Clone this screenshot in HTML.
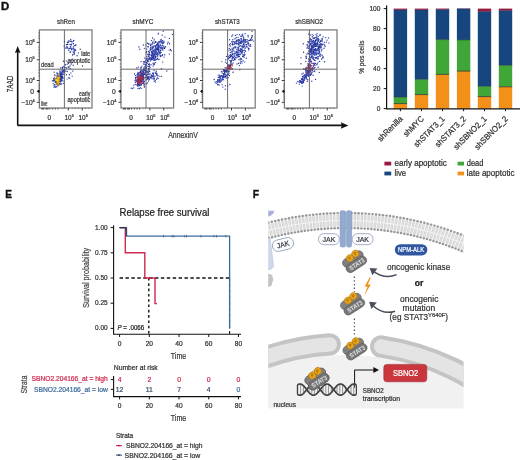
<!DOCTYPE html>
<html><head><meta charset="utf-8"><title>Figure</title>
<style>
html,body{margin:0;padding:0;background:#fff;}
svg{display:block;filter:blur(0.35px);}
text{font-family:"Liberation Sans", sans-serif;}
</style></head>
<body>
<svg width="520" height="460" viewBox="0 0 520 460" font-family='"Liberation Sans", sans-serif'>
<rect x="0" y="0" width="520" height="460" fill="#ffffff"/>
<text x="0.9" y="10.2" font-size="10" font-weight="bold" fill="#111" stroke="#111" stroke-width="0.4" textLength="8.2" lengthAdjust="spacingAndGlyphs">D</text>
<text x="5.2" y="198.2" font-size="10" font-weight="bold" fill="#111" stroke="#111" stroke-width="0.35">E</text>
<text x="252.8" y="198.3" font-size="10.3" font-weight="bold" fill="#111" stroke="#111" stroke-width="0.35">F</text>
<text x="66.00" y="23.90" font-size="6.8" fill="#333" text-anchor="middle" stroke="#333" stroke-width="0.22" textLength="17.9" lengthAdjust="spacingAndGlyphs">shRen</text>
<g><circle cx="57.8" cy="81.8" r="0.68" fill="#1e2a86"/><circle cx="57.9" cy="78.6" r="0.68" fill="#2c3ca8"/><circle cx="56.4" cy="79.8" r="0.68" fill="#2636a0"/><circle cx="60.8" cy="79.8" r="0.68" fill="#1e2a86"/><circle cx="60.7" cy="79.2" r="0.68" fill="#3446b4"/><circle cx="59.3" cy="79.7" r="0.68" fill="#1e2a86"/><circle cx="54.7" cy="84.8" r="0.68" fill="#1e2a86"/><circle cx="59.5" cy="80.8" r="0.68" fill="#2c3ca8"/><circle cx="54.7" cy="74.9" r="0.68" fill="#3446b4"/><circle cx="56.4" cy="78.8" r="0.68" fill="#2636a0"/><circle cx="59.1" cy="79.0" r="0.68" fill="#4a5cc4"/><circle cx="59.5" cy="76.4" r="0.68" fill="#4a5cc4"/><circle cx="59.1" cy="80.6" r="0.68" fill="#4a5cc4"/><circle cx="56.9" cy="86.8" r="0.68" fill="#2c3ca8"/><circle cx="59.6" cy="83.4" r="0.68" fill="#3446b4"/><circle cx="57.0" cy="77.4" r="0.68" fill="#4a5cc4"/><circle cx="57.6" cy="79.5" r="0.68" fill="#1e2a86"/><circle cx="59.8" cy="79.7" r="0.68" fill="#1e2a86"/><circle cx="57.4" cy="76.4" r="0.68" fill="#2636a0"/><circle cx="57.3" cy="84.8" r="0.68" fill="#4a5cc4"/><circle cx="56.6" cy="81.4" r="0.68" fill="#1e2a86"/><circle cx="59.3" cy="73.3" r="0.68" fill="#2c3ca8"/><circle cx="58.5" cy="84.4" r="0.68" fill="#1e2a86"/><circle cx="54.0" cy="80.7" r="0.68" fill="#3446b4"/><circle cx="58.2" cy="76.5" r="0.68" fill="#2c3ca8"/><circle cx="59.5" cy="78.7" r="0.68" fill="#2c3ca8"/><circle cx="55.2" cy="84.4" r="0.68" fill="#3446b4"/><circle cx="59.9" cy="82.3" r="0.68" fill="#2636a0"/><circle cx="61.6" cy="79.2" r="0.68" fill="#1e2a86"/><circle cx="58.7" cy="74.4" r="0.68" fill="#3446b4"/><circle cx="59.8" cy="76.4" r="0.68" fill="#4a5cc4"/><circle cx="57.4" cy="75.2" r="0.68" fill="#4a5cc4"/><circle cx="56.3" cy="78.6" r="0.68" fill="#4a5cc4"/><circle cx="61.2" cy="70.2" r="0.68" fill="#4a5cc4"/><circle cx="55.2" cy="82.2" r="0.68" fill="#1e2a86"/><circle cx="61.6" cy="80.0" r="0.68" fill="#2636a0"/><circle cx="54.2" cy="72.2" r="0.68" fill="#3446b4"/><circle cx="59.2" cy="76.3" r="0.68" fill="#2636a0"/><circle cx="55.9" cy="84.6" r="0.68" fill="#4a5cc4"/><circle cx="60.8" cy="78.8" r="0.68" fill="#4a5cc4"/><circle cx="58.9" cy="80.9" r="0.68" fill="#2c3ca8"/><circle cx="61.9" cy="79.9" r="0.68" fill="#4a5cc4"/><circle cx="59.5" cy="81.0" r="0.68" fill="#2636a0"/><circle cx="54.9" cy="86.3" r="0.68" fill="#2636a0"/><circle cx="60.5" cy="80.4" r="0.68" fill="#4a5cc4"/><circle cx="54.1" cy="79.5" r="0.68" fill="#2c3ca8"/><circle cx="60.3" cy="71.6" r="0.68" fill="#4a5cc4"/><circle cx="58.0" cy="83.6" r="0.68" fill="#4a5cc4"/><circle cx="55.5" cy="87.2" r="0.68" fill="#3446b4"/><circle cx="59.6" cy="78.3" r="0.68" fill="#2636a0"/><circle cx="59.1" cy="81.6" r="0.68" fill="#3446b4"/><circle cx="58.7" cy="83.7" r="0.68" fill="#3446b4"/><circle cx="56.9" cy="78.7" r="0.68" fill="#3446b4"/><circle cx="60.7" cy="78.4" r="0.68" fill="#2c3ca8"/><circle cx="56.5" cy="84.2" r="0.68" fill="#2636a0"/><circle cx="61.6" cy="76.0" r="0.68" fill="#4a5cc4"/><circle cx="55.4" cy="80.6" r="0.68" fill="#2636a0"/><circle cx="58.1" cy="78.5" r="0.68" fill="#2c3ca8"/><circle cx="61.5" cy="73.9" r="0.68" fill="#2636a0"/><circle cx="61.2" cy="73.1" r="0.68" fill="#2636a0"/><circle cx="56.7" cy="82.9" r="0.68" fill="#3446b4"/><circle cx="60.9" cy="81.4" r="0.68" fill="#3446b4"/><circle cx="59.2" cy="79.6" r="0.68" fill="#2c3ca8"/><circle cx="58.7" cy="81.5" r="0.68" fill="#2636a0"/><circle cx="58.0" cy="80.8" r="0.68" fill="#1e2a86"/><circle cx="59.7" cy="78.8" r="0.68" fill="#3446b4"/><circle cx="60.1" cy="80.7" r="0.68" fill="#1e2a86"/><circle cx="62.8" cy="78.3" r="0.68" fill="#2c3ca8"/><circle cx="57.5" cy="78.6" r="0.68" fill="#4a5cc4"/><circle cx="58.4" cy="83.0" r="0.68" fill="#2636a0"/><circle cx="57.7" cy="81.4" r="0.68" fill="#2636a0"/><circle cx="62.4" cy="67.5" r="0.68" fill="#2636a0"/><circle cx="55.9" cy="81.8" r="0.68" fill="#1e2a86"/><circle cx="59.3" cy="79.9" r="0.68" fill="#2c3ca8"/><circle cx="57.5" cy="82.5" r="0.68" fill="#2c3ca8"/><circle cx="59.0" cy="77.2" r="0.68" fill="#3446b4"/><circle cx="63.7" cy="77.9" r="0.68" fill="#4a5cc4"/><circle cx="57.2" cy="79.8" r="0.68" fill="#1e2a86"/><circle cx="57.9" cy="79.5" r="0.68" fill="#3446b4"/><circle cx="52.4" cy="80.9" r="0.68" fill="#2c3ca8"/><circle cx="60.6" cy="73.8" r="0.68" fill="#2636a0"/><circle cx="58.3" cy="83.2" r="0.68" fill="#2636a0"/><circle cx="60.3" cy="84.2" r="0.68" fill="#2c3ca8"/><circle cx="54.7" cy="80.2" r="0.68" fill="#1e2a86"/><circle cx="57.6" cy="82.3" r="0.68" fill="#4a5cc4"/><circle cx="60.8" cy="68.0" r="0.68" fill="#1e2a86"/><circle cx="60.8" cy="72.7" r="0.68" fill="#1e2a86"/><circle cx="59.9" cy="73.0" r="0.68" fill="#3446b4"/><circle cx="58.8" cy="83.8" r="0.68" fill="#4a5cc4"/><circle cx="58.1" cy="80.4" r="0.68" fill="#2c3ca8"/><circle cx="60.2" cy="79.1" r="0.68" fill="#3446b4"/><circle cx="58.2" cy="85.5" r="0.68" fill="#2c3ca8"/><circle cx="60.7" cy="77.1" r="0.68" fill="#3446b4"/><circle cx="64.4" cy="71.8" r="0.68" fill="#2636a0"/><circle cx="60.4" cy="77.4" r="0.68" fill="#4a5cc4"/><circle cx="58.7" cy="82.0" r="0.68" fill="#1e2a86"/><circle cx="58.9" cy="81.7" r="0.68" fill="#2636a0"/><circle cx="55.0" cy="75.6" r="0.68" fill="#2636a0"/><circle cx="59.8" cy="75.1" r="0.68" fill="#3446b4"/><circle cx="56.1" cy="75.1" r="0.68" fill="#4a5cc4"/><circle cx="61.2" cy="80.8" r="0.68" fill="#4a5cc4"/><circle cx="61.6" cy="74.2" r="0.68" fill="#2636a0"/><circle cx="58.4" cy="75.1" r="0.68" fill="#1e2a86"/><circle cx="60.1" cy="84.6" r="0.68" fill="#3446b4"/><circle cx="56.4" cy="86.5" r="0.68" fill="#4a5cc4"/><circle cx="60.6" cy="77.6" r="0.68" fill="#1e2a86"/><circle cx="54.1" cy="87.2" r="0.68" fill="#3446b4"/><circle cx="58.2" cy="77.3" r="0.68" fill="#4a5cc4"/><circle cx="59.3" cy="80.6" r="0.68" fill="#2636a0"/><circle cx="61.7" cy="73.8" r="0.68" fill="#1e2a86"/><circle cx="60.9" cy="83.8" r="0.68" fill="#4a5cc4"/><circle cx="61.6" cy="77.1" r="0.68" fill="#1e2a86"/><circle cx="56.8" cy="84.3" r="0.68" fill="#4a5cc4"/><circle cx="58.7" cy="79.8" r="0.68" fill="#3446b4"/><circle cx="61.5" cy="76.8" r="0.68" fill="#2636a0"/><circle cx="53.3" cy="80.8" r="0.68" fill="#1e2a86"/><circle cx="54.3" cy="84.8" r="0.68" fill="#2c3ca8"/><circle cx="59.1" cy="76.8" r="0.68" fill="#2636a0"/><circle cx="58.4" cy="82.7" r="0.68" fill="#3446b4"/><circle cx="58.6" cy="84.5" r="0.68" fill="#4a5cc4"/><circle cx="58.3" cy="83.5" r="0.68" fill="#3446b4"/><circle cx="61.7" cy="83.9" r="0.68" fill="#1e2a86"/><circle cx="56.9" cy="83.7" r="0.68" fill="#3446b4"/><circle cx="54.3" cy="77.6" r="0.68" fill="#3446b4"/><circle cx="54.1" cy="85.9" r="0.68" fill="#4a5cc4"/><circle cx="55.7" cy="80.9" r="0.68" fill="#3446b4"/><circle cx="58.0" cy="79.6" r="0.68" fill="#1e2a86"/><circle cx="57.1" cy="81.1" r="0.68" fill="#1e2a86"/><circle cx="62.3" cy="77.5" r="0.68" fill="#2636a0"/><circle cx="59.6" cy="82.7" r="0.68" fill="#2c3ca8"/><circle cx="58.0" cy="74.9" r="0.68" fill="#4a5cc4"/><circle cx="57.2" cy="84.3" r="0.68" fill="#2c3ca8"/><circle cx="54.8" cy="79.2" r="0.68" fill="#3446b4"/><circle cx="60.6" cy="81.3" r="0.68" fill="#3446b4"/><circle cx="58.4" cy="82.6" r="0.68" fill="#4a5cc4"/><circle cx="58.8" cy="74.8" r="0.68" fill="#4a5cc4"/><circle cx="55.0" cy="78.9" r="0.68" fill="#2636a0"/><circle cx="60.4" cy="76.2" r="0.68" fill="#2c3ca8"/><circle cx="56.4" cy="77.6" r="0.68" fill="#3446b4"/><circle cx="55.0" cy="80.9" r="0.68" fill="#4a5cc4"/><circle cx="55.8" cy="82.3" r="0.68" fill="#2636a0"/><circle cx="53.2" cy="83.6" r="0.68" fill="#3446b4"/><circle cx="57.0" cy="72.9" r="0.68" fill="#2636a0"/><circle cx="60.0" cy="77.6" r="0.68" fill="#2c3ca8"/><circle cx="53.5" cy="78.8" r="0.68" fill="#3446b4"/><circle cx="59.0" cy="77.4" r="0.68" fill="#4a5cc4"/><circle cx="60.1" cy="81.4" r="0.68" fill="#2636a0"/><circle cx="59.9" cy="79.9" r="0.68" fill="#2636a0"/><circle cx="61.3" cy="80.4" r="0.68" fill="#3446b4"/><circle cx="59.4" cy="71.0" r="0.68" fill="#4a5cc4"/><circle cx="58.3" cy="74.3" r="0.68" fill="#4a5cc4"/><circle cx="61.6" cy="73.9" r="0.68" fill="#1e2a86"/><circle cx="60.8" cy="75.4" r="0.68" fill="#2636a0"/><circle cx="64.6" cy="72.9" r="0.68" fill="#2636a0"/><circle cx="57.2" cy="77.1" r="0.68" fill="#3446b4"/><circle cx="60.9" cy="75.8" r="0.68" fill="#1e2a86"/><circle cx="65.8" cy="71.0" r="0.68" fill="#3446b4"/><circle cx="62.7" cy="73.7" r="0.68" fill="#3446b4"/><circle cx="62.5" cy="71.7" r="0.68" fill="#2c3ca8"/><circle cx="67.2" cy="64.3" r="0.68" fill="#4a5cc4"/><circle cx="58.3" cy="77.4" r="0.68" fill="#2636a0"/><circle cx="64.3" cy="71.0" r="0.68" fill="#1e2a86"/><circle cx="63.6" cy="72.3" r="0.68" fill="#4a5cc4"/><circle cx="61.7" cy="78.1" r="0.68" fill="#1e2a86"/><circle cx="62.3" cy="71.7" r="0.68" fill="#1e2a86"/><circle cx="57.3" cy="76.0" r="0.68" fill="#4a5cc4"/><circle cx="60.0" cy="76.5" r="0.68" fill="#3446b4"/><circle cx="67.2" cy="71.5" r="0.68" fill="#2636a0"/><circle cx="59.1" cy="76.1" r="0.68" fill="#2636a0"/><circle cx="57.2" cy="73.5" r="0.68" fill="#2636a0"/><circle cx="61.1" cy="76.7" r="0.68" fill="#1e2a86"/><circle cx="60.2" cy="76.2" r="0.68" fill="#2636a0"/><circle cx="58.2" cy="78.7" r="0.68" fill="#1e2a86"/><circle cx="60.2" cy="73.7" r="0.68" fill="#4a5cc4"/><circle cx="62.5" cy="74.2" r="0.68" fill="#2636a0"/><circle cx="57.6" cy="78.1" r="0.68" fill="#2c3ca8"/><circle cx="63.1" cy="70.4" r="0.68" fill="#3446b4"/><circle cx="62.3" cy="73.0" r="0.68" fill="#4a5cc4"/><circle cx="63.2" cy="70.5" r="0.68" fill="#1e2a86"/><circle cx="63.5" cy="70.8" r="0.68" fill="#1e2a86"/><circle cx="65.0" cy="71.0" r="0.68" fill="#4a5cc4"/><circle cx="64.3" cy="67.6" r="0.68" fill="#2636a0"/><circle cx="60.8" cy="74.4" r="0.68" fill="#2636a0"/><circle cx="60.8" cy="77.8" r="0.68" fill="#4a5cc4"/><circle cx="60.0" cy="76.0" r="0.68" fill="#3446b4"/><circle cx="66.5" cy="68.0" r="0.68" fill="#1e2a86"/><circle cx="60.0" cy="76.4" r="0.68" fill="#2c3ca8"/><circle cx="62.4" cy="74.8" r="0.68" fill="#4a5cc4"/><circle cx="63.7" cy="74.4" r="0.68" fill="#3446b4"/><circle cx="62.5" cy="76.4" r="0.68" fill="#1e2a86"/><circle cx="70.1" cy="52.4" r="0.68" fill="#1e2a86"/><circle cx="75.1" cy="49.5" r="0.68" fill="#4a5cc4"/><circle cx="67.0" cy="48.3" r="0.68" fill="#2636a0"/><circle cx="72.8" cy="54.4" r="0.68" fill="#4a5cc4"/><circle cx="74.4" cy="49.4" r="0.68" fill="#3446b4"/><circle cx="74.6" cy="52.0" r="0.68" fill="#4a5cc4"/><circle cx="72.2" cy="49.0" r="0.68" fill="#2636a0"/><circle cx="70.5" cy="51.6" r="0.68" fill="#4a5cc4"/><circle cx="67.4" cy="44.4" r="0.68" fill="#2636a0"/><circle cx="71.4" cy="41.3" r="0.68" fill="#4a5cc4"/><circle cx="68.8" cy="50.6" r="0.68" fill="#2636a0"/><circle cx="73.6" cy="48.8" r="0.68" fill="#2636a0"/><circle cx="70.5" cy="41.3" r="0.68" fill="#1e2a86"/><circle cx="78.3" cy="52.9" r="0.68" fill="#3446b4"/><circle cx="75.6" cy="45.3" r="0.68" fill="#2636a0"/><circle cx="70.7" cy="39.4" r="0.68" fill="#2c3ca8"/><circle cx="74.4" cy="53.9" r="0.68" fill="#1e2a86"/><circle cx="64.2" cy="46.3" r="0.68" fill="#1e2a86"/><circle cx="73.8" cy="40.5" r="0.68" fill="#1e2a86"/><circle cx="64.5" cy="41.5" r="0.68" fill="#1e2a86"/><circle cx="69.0" cy="41.0" r="0.68" fill="#2c3ca8"/><circle cx="71.5" cy="49.8" r="0.68" fill="#2636a0"/><circle cx="73.8" cy="52.6" r="0.68" fill="#1e2a86"/><circle cx="77.1" cy="55.7" r="0.68" fill="#1e2a86"/><circle cx="66.4" cy="44.7" r="0.68" fill="#1e2a86"/><circle cx="67.4" cy="42.2" r="0.68" fill="#1e2a86"/><circle cx="71.1" cy="48.4" r="0.68" fill="#2636a0"/><circle cx="73.3" cy="41.2" r="0.68" fill="#2c3ca8"/><circle cx="66.7" cy="47.1" r="0.68" fill="#2636a0"/><circle cx="70.6" cy="46.8" r="0.68" fill="#2636a0"/><circle cx="71.2" cy="44.7" r="0.68" fill="#3446b4"/><circle cx="74.1" cy="50.9" r="0.68" fill="#2636a0"/><circle cx="71.1" cy="45.1" r="0.68" fill="#4a5cc4"/><circle cx="67.7" cy="47.7" r="0.68" fill="#4a5cc4"/><circle cx="65.7" cy="48.0" r="0.68" fill="#4a5cc4"/><circle cx="72.0" cy="41.9" r="0.68" fill="#1e2a86"/><circle cx="70.4" cy="46.7" r="0.68" fill="#4a5cc4"/><circle cx="73.1" cy="52.0" r="0.68" fill="#4a5cc4"/><circle cx="71.3" cy="44.3" r="0.68" fill="#3446b4"/><circle cx="70.9" cy="48.0" r="0.68" fill="#4a5cc4"/><circle cx="74.2" cy="50.7" r="0.68" fill="#3446b4"/><circle cx="68.7" cy="41.1" r="0.68" fill="#2636a0"/><circle cx="70.0" cy="44.5" r="0.68" fill="#1e2a86"/><circle cx="67.2" cy="46.8" r="0.68" fill="#3446b4"/><circle cx="69.5" cy="48.5" r="0.68" fill="#2c3ca8"/><circle cx="73.4" cy="47.0" r="0.68" fill="#3446b4"/><circle cx="80.2" cy="49.2" r="0.68" fill="#1e2a86"/><circle cx="75.6" cy="50.2" r="0.68" fill="#1e2a86"/><circle cx="68.5" cy="49.0" r="0.68" fill="#4a5cc4"/><circle cx="73.7" cy="60.5" r="0.68" fill="#1e2a86"/><circle cx="72.6" cy="55.1" r="0.68" fill="#2c3ca8"/><circle cx="74.3" cy="53.9" r="0.68" fill="#2636a0"/><circle cx="73.3" cy="48.2" r="0.68" fill="#2c3ca8"/><circle cx="73.3" cy="43.7" r="0.68" fill="#3446b4"/><circle cx="75.9" cy="44.7" r="0.68" fill="#4a5cc4"/><circle cx="72.3" cy="59.1" r="0.68" fill="#3446b4"/><circle cx="70.6" cy="48.4" r="0.68" fill="#3446b4"/><circle cx="61.4" cy="72.3" r="0.68" fill="#4a5cc4"/><circle cx="65.0" cy="67.5" r="0.68" fill="#2636a0"/><circle cx="62.5" cy="68.6" r="0.68" fill="#2636a0"/><circle cx="63.9" cy="81.0" r="0.68" fill="#4a5cc4"/><circle cx="61.4" cy="78.8" r="0.68" fill="#2c3ca8"/><circle cx="68.1" cy="63.0" r="0.68" fill="#2c3ca8"/><circle cx="68.8" cy="77.8" r="0.68" fill="#1e2a86"/><circle cx="68.6" cy="67.2" r="0.68" fill="#3446b4"/><circle cx="64.4" cy="69.8" r="0.68" fill="#4a5cc4"/><circle cx="69.4" cy="74.7" r="0.68" fill="#2636a0"/><circle cx="64.3" cy="70.7" r="0.68" fill="#2636a0"/><circle cx="63.6" cy="61.2" r="0.68" fill="#1e2a86"/><circle cx="62.2" cy="80.9" r="0.68" fill="#2c3ca8"/><circle cx="63.7" cy="83.4" r="0.68" fill="#2636a0"/><circle cx="63.4" cy="66.6" r="0.68" fill="#3446b4"/><circle cx="65.5" cy="64.7" r="0.68" fill="#2636a0"/><circle cx="67.1" cy="79.1" r="0.68" fill="#4a5cc4"/><circle cx="72.2" cy="76.2" r="0.68" fill="#4a5cc4"/><circle cx="69.7" cy="78.3" r="0.68" fill="#4a5cc4"/><circle cx="72.8" cy="71.0" r="0.68" fill="#3446b4"/><circle cx="70.6" cy="61.0" r="0.68" fill="#3446b4"/><circle cx="70.7" cy="69.0" r="0.68" fill="#3446b4"/><circle cx="70.9" cy="72.9" r="0.68" fill="#4a5cc4"/><circle cx="66.3" cy="61.0" r="0.68" fill="#4a5cc4"/><circle cx="72.7" cy="62.5" r="0.68" fill="#2c3ca8"/><circle cx="68.1" cy="66.9" r="0.68" fill="#3446b4"/><circle cx="66.4" cy="74.8" r="0.68" fill="#2c3ca8"/><circle cx="73.2" cy="65.2" r="0.68" fill="#2636a0"/><circle cx="70.0" cy="66.0" r="0.68" fill="#1e2a86"/><circle cx="69.0" cy="67.9" r="0.68" fill="#1e2a86"/><circle cx="67.7" cy="44.2" r="0.68" fill="#1e2a86"/><circle cx="68.6" cy="63.6" r="0.68" fill="#2c3ca8"/><circle cx="74.3" cy="45.7" r="0.68" fill="#1e2a86"/><circle cx="82.5" cy="65.9" r="0.68" fill="#1e2a86"/><circle cx="73.4" cy="43.6" r="0.68" fill="#1e2a86"/><circle cx="68.2" cy="42.4" r="0.68" fill="#1e2a86"/></g>
<g><circle cx="58.2" cy="81.5" r="0.7" fill="#f7c600"/><circle cx="57.9" cy="81.4" r="0.7" fill="#f7c600"/><circle cx="59.1" cy="76.9" r="0.7" fill="#f5b800"/><circle cx="57.3" cy="82.6" r="0.7" fill="#f5b800"/><circle cx="59.3" cy="78.6" r="0.7" fill="#f7c600"/><circle cx="58.2" cy="84.1" r="0.7" fill="#e8a000"/><circle cx="55.8" cy="75.8" r="0.7" fill="#f5b800"/><circle cx="59.0" cy="80.7" r="0.7" fill="#f09a00"/><circle cx="58.9" cy="75.0" r="0.7" fill="#f7c600"/><circle cx="58.2" cy="79.4" r="0.7" fill="#f7c600"/><circle cx="57.7" cy="81.3" r="0.7" fill="#f09a00"/><circle cx="59.1" cy="84.9" r="0.7" fill="#f09a00"/><circle cx="55.5" cy="79.3" r="0.7" fill="#f7c600"/><circle cx="56.2" cy="84.9" r="0.7" fill="#f7c600"/><circle cx="57.0" cy="81.3" r="0.7" fill="#f5b800"/><circle cx="58.4" cy="73.9" r="0.7" fill="#f5b800"/><circle cx="59.2" cy="80.9" r="0.7" fill="#e8a000"/><circle cx="57.3" cy="79.4" r="0.7" fill="#e8a000"/><circle cx="57.5" cy="81.4" r="0.7" fill="#f7c600"/><circle cx="58.2" cy="81.5" r="0.7" fill="#f09a00"/><circle cx="56.5" cy="79.2" r="0.7" fill="#f7c600"/><circle cx="58.0" cy="80.3" r="0.7" fill="#f5b800"/><circle cx="57.1" cy="83.9" r="0.7" fill="#e8a000"/><circle cx="58.3" cy="81.5" r="0.7" fill="#f09a00"/><circle cx="58.5" cy="83.5" r="0.7" fill="#f5b800"/><circle cx="57.5" cy="80.1" r="0.7" fill="#e8a000"/><circle cx="58.9" cy="80.6" r="0.7" fill="#f5b800"/><circle cx="56.3" cy="80.4" r="0.7" fill="#f7c600"/><circle cx="58.5" cy="80.2" r="0.7" fill="#f7c600"/><circle cx="57.5" cy="78.1" r="0.7" fill="#e8a000"/><circle cx="57.7" cy="82.2" r="0.7" fill="#f7c600"/><circle cx="58.9" cy="78.5" r="0.7" fill="#e8a000"/><circle cx="56.9" cy="80.0" r="0.7" fill="#f7c600"/><circle cx="55.8" cy="84.2" r="0.7" fill="#f7c600"/><circle cx="59.0" cy="79.0" r="0.7" fill="#f5b800"/><circle cx="58.5" cy="83.1" r="0.7" fill="#e8a000"/><circle cx="57.9" cy="80.2" r="0.7" fill="#f7c600"/><circle cx="58.9" cy="77.7" r="0.7" fill="#e8a000"/><circle cx="58.4" cy="77.3" r="0.7" fill="#f09a00"/><circle cx="58.9" cy="77.4" r="0.7" fill="#f5b800"/></g>
<g><circle cx="59.2" cy="82.7" r="0.6" fill="#f8d800"/><circle cx="57.9" cy="78.6" r="0.6" fill="#f8d800"/><circle cx="59.0" cy="77.6" r="0.6" fill="#f8d800"/><circle cx="56.9" cy="77.5" r="0.6" fill="#f8d800"/><circle cx="57.2" cy="80.8" r="0.6" fill="#f8d800"/><circle cx="55.7" cy="80.3" r="0.6" fill="#f8d800"/><circle cx="57.9" cy="77.4" r="0.6" fill="#f8d800"/><circle cx="57.3" cy="80.6" r="0.6" fill="#f8d800"/><circle cx="56.9" cy="80.4" r="0.6" fill="#f8d800"/><circle cx="57.0" cy="79.5" r="0.6" fill="#f8d800"/></g>
<rect x="39.40" y="29.90" width="52.60" height="78.10" fill="none" stroke="#7a7a7a" stroke-width="1.25"/>
<line x1="64.40" y1="29.90" x2="64.40" y2="108.00" stroke="#5a5a5a" stroke-width="0.9"/>
<line x1="39.40" y1="69.20" x2="92.00" y2="69.20" stroke="#5a5a5a" stroke-width="0.9"/>
<line x1="36.80" y1="42.40" x2="39.40" y2="42.40" stroke="#222" stroke-width="0.9"/>
<text x="34.80" y="44.70" font-size="6.6" fill="#333" stroke="#333" stroke-width="0.22" text-anchor="end">10<tspan font-size="3.96" dy="-2.77">6</tspan></text>
<line x1="36.80" y1="59.80" x2="39.40" y2="59.80" stroke="#222" stroke-width="0.9"/>
<text x="34.80" y="62.10" font-size="6.6" fill="#333" stroke="#333" stroke-width="0.22" text-anchor="end">10<tspan font-size="3.96" dy="-2.77">5</tspan></text>
<line x1="36.80" y1="80.50" x2="39.40" y2="80.50" stroke="#222" stroke-width="0.9"/>
<text x="34.80" y="82.80" font-size="6.6" fill="#333" stroke="#333" stroke-width="0.22" text-anchor="end">10<tspan font-size="3.96" dy="-2.77">4</tspan></text>
<line x1="36.80" y1="91.30" x2="39.40" y2="91.30" stroke="#222" stroke-width="0.9"/>
<rect x="37.80" y="89.90" width="1.60" height="2.80" fill="#111"/>
<text x="34.00" y="93.60" font-size="6.6" fill="#333" text-anchor="end" stroke="#333" stroke-width="0.22">0</text>
<line x1="36.80" y1="102.30" x2="39.40" y2="102.30" stroke="#222" stroke-width="0.9"/>
<text x="34.80" y="104.60" font-size="6.6" fill="#333" stroke="#333" stroke-width="0.22" text-anchor="end">−10<tspan font-size="3.96" dy="-2.77">4</tspan></text>
<line x1="38.10" y1="33.00" x2="39.40" y2="33.00" stroke="#444" stroke-width="0.6"/>
<line x1="38.10" y1="36.00" x2="39.40" y2="36.00" stroke="#444" stroke-width="0.6"/>
<line x1="38.10" y1="38.50" x2="39.40" y2="38.50" stroke="#444" stroke-width="0.6"/>
<line x1="38.10" y1="47.00" x2="39.40" y2="47.00" stroke="#444" stroke-width="0.6"/>
<line x1="38.10" y1="50.00" x2="39.40" y2="50.00" stroke="#444" stroke-width="0.6"/>
<line x1="38.10" y1="53.00" x2="39.40" y2="53.00" stroke="#444" stroke-width="0.6"/>
<line x1="38.10" y1="56.00" x2="39.40" y2="56.00" stroke="#444" stroke-width="0.6"/>
<line x1="38.10" y1="64.00" x2="39.40" y2="64.00" stroke="#444" stroke-width="0.6"/>
<line x1="38.10" y1="67.00" x2="39.40" y2="67.00" stroke="#444" stroke-width="0.6"/>
<line x1="38.10" y1="70.00" x2="39.40" y2="70.00" stroke="#444" stroke-width="0.6"/>
<line x1="38.10" y1="73.00" x2="39.40" y2="73.00" stroke="#444" stroke-width="0.6"/>
<line x1="38.10" y1="76.00" x2="39.40" y2="76.00" stroke="#444" stroke-width="0.6"/>
<line x1="38.10" y1="84.00" x2="39.40" y2="84.00" stroke="#444" stroke-width="0.6"/>
<line x1="38.10" y1="86.00" x2="39.40" y2="86.00" stroke="#444" stroke-width="0.6"/>
<line x1="38.10" y1="88.00" x2="39.40" y2="88.00" stroke="#444" stroke-width="0.6"/>
<line x1="38.10" y1="94.00" x2="39.40" y2="94.00" stroke="#444" stroke-width="0.6"/>
<line x1="38.10" y1="96.00" x2="39.40" y2="96.00" stroke="#444" stroke-width="0.6"/>
<line x1="38.10" y1="98.00" x2="39.40" y2="98.00" stroke="#444" stroke-width="0.6"/>
<line x1="38.10" y1="100.00" x2="39.40" y2="100.00" stroke="#444" stroke-width="0.6"/>
<line x1="41.80" y1="108.00" x2="41.80" y2="109.60" stroke="#222" stroke-width="0.7"/>
<line x1="42.80" y1="108.00" x2="42.80" y2="109.60" stroke="#222" stroke-width="0.7"/>
<line x1="43.80" y1="108.00" x2="43.80" y2="109.60" stroke="#222" stroke-width="0.7"/>
<line x1="46.00" y1="108.00" x2="46.00" y2="109.60" stroke="#222" stroke-width="0.7"/>
<line x1="47.00" y1="108.00" x2="47.00" y2="109.60" stroke="#222" stroke-width="0.7"/>
<line x1="48.00" y1="108.00" x2="48.00" y2="109.60" stroke="#222" stroke-width="0.7"/>
<line x1="50.00" y1="108.00" x2="50.00" y2="109.60" stroke="#222" stroke-width="0.7"/>
<line x1="52.80" y1="108.00" x2="52.80" y2="109.60" stroke="#222" stroke-width="0.7"/>
<line x1="55.40" y1="108.00" x2="55.40" y2="109.60" stroke="#222" stroke-width="0.7"/>
<line x1="58.00" y1="108.00" x2="58.00" y2="109.60" stroke="#222" stroke-width="0.7"/>
<line x1="68.30" y1="108.00" x2="68.30" y2="110.40" stroke="#222" stroke-width="0.9"/>
<line x1="82.20" y1="108.00" x2="82.20" y2="110.40" stroke="#222" stroke-width="0.9"/>
<line x1="61.40" y1="108.00" x2="61.40" y2="109.10" stroke="#555" stroke-width="0.5"/>
<line x1="63.90" y1="108.00" x2="63.90" y2="109.10" stroke="#555" stroke-width="0.5"/>
<line x1="72.40" y1="108.00" x2="72.40" y2="109.10" stroke="#555" stroke-width="0.5"/>
<line x1="75.40" y1="108.00" x2="75.40" y2="109.10" stroke="#555" stroke-width="0.5"/>
<line x1="78.40" y1="108.00" x2="78.40" y2="109.10" stroke="#555" stroke-width="0.5"/>
<line x1="85.40" y1="108.00" x2="85.40" y2="109.10" stroke="#555" stroke-width="0.5"/>
<line x1="88.40" y1="108.00" x2="88.40" y2="109.10" stroke="#555" stroke-width="0.5"/>
<text x="49.40" y="119.90" font-size="6.4" fill="#333" text-anchor="middle" stroke="#333" stroke-width="0.22">0</text>
<text x="69.20" y="119.90" font-size="6.4" fill="#333" stroke="#333" stroke-width="0.22" text-anchor="middle">10<tspan font-size="3.84" dy="-2.69">5</tspan></text>
<text x="83.20" y="119.90" font-size="6.4" fill="#333" stroke="#333" stroke-width="0.22" text-anchor="middle">10<tspan font-size="3.84" dy="-2.69">6</tspan></text>
<text x="143.00" y="23.90" font-size="6.8" fill="#333" text-anchor="middle" stroke="#333" stroke-width="0.22" textLength="21.0" lengthAdjust="spacingAndGlyphs">shMYC</text>
<g><circle cx="142.7" cy="78.5" r="0.68" fill="#2636a0"/><circle cx="137.4" cy="85.0" r="0.68" fill="#2636a0"/><circle cx="136.7" cy="80.6" r="0.68" fill="#2c3ca8"/><circle cx="141.8" cy="78.2" r="0.68" fill="#1e2a86"/><circle cx="142.5" cy="75.9" r="0.68" fill="#2c3ca8"/><circle cx="140.3" cy="77.2" r="0.68" fill="#1e2a86"/><circle cx="140.6" cy="71.1" r="0.68" fill="#3446b4"/><circle cx="137.9" cy="75.0" r="0.68" fill="#2636a0"/><circle cx="141.5" cy="78.2" r="0.68" fill="#1e2a86"/><circle cx="137.5" cy="76.7" r="0.68" fill="#2636a0"/><circle cx="141.6" cy="79.1" r="0.68" fill="#3446b4"/><circle cx="142.1" cy="75.7" r="0.68" fill="#1e2a86"/><circle cx="142.2" cy="71.7" r="0.68" fill="#3446b4"/><circle cx="138.9" cy="74.3" r="0.68" fill="#4a5cc4"/><circle cx="141.4" cy="84.5" r="0.68" fill="#1e2a86"/><circle cx="139.0" cy="77.7" r="0.68" fill="#1e2a86"/><circle cx="138.9" cy="83.7" r="0.68" fill="#4a5cc4"/><circle cx="142.9" cy="75.0" r="0.68" fill="#4a5cc4"/><circle cx="140.3" cy="87.6" r="0.68" fill="#3446b4"/><circle cx="137.0" cy="81.1" r="0.68" fill="#1e2a86"/><circle cx="139.1" cy="77.6" r="0.68" fill="#3446b4"/><circle cx="139.3" cy="80.9" r="0.68" fill="#2636a0"/><circle cx="137.5" cy="83.1" r="0.68" fill="#1e2a86"/><circle cx="140.1" cy="81.8" r="0.68" fill="#1e2a86"/><circle cx="137.2" cy="84.7" r="0.68" fill="#4a5cc4"/><circle cx="140.1" cy="84.7" r="0.68" fill="#2636a0"/><circle cx="145.4" cy="77.7" r="0.68" fill="#4a5cc4"/><circle cx="143.3" cy="76.1" r="0.68" fill="#3446b4"/><circle cx="136.6" cy="80.1" r="0.68" fill="#4a5cc4"/><circle cx="142.1" cy="76.0" r="0.68" fill="#1e2a86"/><circle cx="135.5" cy="79.9" r="0.68" fill="#2636a0"/><circle cx="140.3" cy="75.3" r="0.68" fill="#3446b4"/><circle cx="138.7" cy="81.9" r="0.68" fill="#1e2a86"/><circle cx="141.9" cy="80.2" r="0.68" fill="#2636a0"/><circle cx="142.1" cy="78.8" r="0.68" fill="#1e2a86"/><circle cx="135.6" cy="75.6" r="0.68" fill="#2c3ca8"/><circle cx="139.6" cy="83.0" r="0.68" fill="#3446b4"/><circle cx="138.0" cy="88.4" r="0.68" fill="#2636a0"/><circle cx="144.6" cy="70.3" r="0.68" fill="#4a5cc4"/><circle cx="143.9" cy="73.1" r="0.68" fill="#2636a0"/><circle cx="140.5" cy="76.1" r="0.68" fill="#2c3ca8"/><circle cx="139.6" cy="83.8" r="0.68" fill="#3446b4"/><circle cx="138.3" cy="81.4" r="0.68" fill="#4a5cc4"/><circle cx="143.4" cy="78.0" r="0.68" fill="#3446b4"/><circle cx="139.9" cy="78.2" r="0.68" fill="#1e2a86"/><circle cx="143.7" cy="78.2" r="0.68" fill="#3446b4"/><circle cx="139.5" cy="83.1" r="0.68" fill="#4a5cc4"/><circle cx="137.9" cy="79.3" r="0.68" fill="#2636a0"/><circle cx="140.1" cy="80.5" r="0.68" fill="#2c3ca8"/><circle cx="137.2" cy="85.3" r="0.68" fill="#1e2a86"/><circle cx="140.7" cy="78.9" r="0.68" fill="#3446b4"/><circle cx="141.8" cy="72.6" r="0.68" fill="#2c3ca8"/><circle cx="139.6" cy="79.4" r="0.68" fill="#3446b4"/><circle cx="142.9" cy="81.2" r="0.68" fill="#2c3ca8"/><circle cx="139.9" cy="85.2" r="0.68" fill="#4a5cc4"/><circle cx="141.4" cy="77.8" r="0.68" fill="#2c3ca8"/><circle cx="142.9" cy="70.5" r="0.68" fill="#1e2a86"/><circle cx="137.7" cy="77.6" r="0.68" fill="#4a5cc4"/><circle cx="138.0" cy="77.5" r="0.68" fill="#2c3ca8"/><circle cx="138.9" cy="79.5" r="0.68" fill="#1e2a86"/><circle cx="141.4" cy="78.0" r="0.68" fill="#2636a0"/><circle cx="142.1" cy="77.9" r="0.68" fill="#2636a0"/><circle cx="143.6" cy="83.2" r="0.68" fill="#1e2a86"/><circle cx="143.3" cy="79.8" r="0.68" fill="#2636a0"/><circle cx="139.5" cy="77.1" r="0.68" fill="#2c3ca8"/><circle cx="137.8" cy="82.3" r="0.68" fill="#2c3ca8"/><circle cx="138.2" cy="75.9" r="0.68" fill="#2636a0"/><circle cx="137.4" cy="82.7" r="0.68" fill="#3446b4"/><circle cx="139.6" cy="79.0" r="0.68" fill="#2636a0"/><circle cx="134.6" cy="74.0" r="0.68" fill="#2636a0"/><circle cx="140.0" cy="74.9" r="0.68" fill="#1e2a86"/><circle cx="138.1" cy="79.1" r="0.68" fill="#3446b4"/><circle cx="135.2" cy="84.6" r="0.68" fill="#1e2a86"/><circle cx="143.8" cy="79.0" r="0.68" fill="#2636a0"/><circle cx="144.5" cy="86.7" r="0.68" fill="#4a5cc4"/><circle cx="140.2" cy="83.6" r="0.68" fill="#4a5cc4"/><circle cx="144.4" cy="81.3" r="0.68" fill="#2c3ca8"/><circle cx="146.0" cy="71.5" r="0.68" fill="#3446b4"/><circle cx="140.4" cy="79.7" r="0.68" fill="#1e2a86"/><circle cx="137.9" cy="76.0" r="0.68" fill="#2c3ca8"/><circle cx="138.2" cy="72.7" r="0.68" fill="#2636a0"/><circle cx="142.6" cy="76.7" r="0.68" fill="#1e2a86"/><circle cx="145.5" cy="72.4" r="0.68" fill="#4a5cc4"/><circle cx="143.2" cy="79.1" r="0.68" fill="#4a5cc4"/><circle cx="143.2" cy="83.5" r="0.68" fill="#1e2a86"/><circle cx="141.5" cy="76.0" r="0.68" fill="#2c3ca8"/><circle cx="143.6" cy="83.2" r="0.68" fill="#4a5cc4"/><circle cx="141.4" cy="81.2" r="0.68" fill="#2c3ca8"/><circle cx="138.5" cy="77.7" r="0.68" fill="#2636a0"/><circle cx="144.0" cy="70.1" r="0.68" fill="#3446b4"/><circle cx="145.5" cy="74.8" r="0.68" fill="#4a5cc4"/><circle cx="137.6" cy="79.3" r="0.68" fill="#2c3ca8"/><circle cx="140.2" cy="78.6" r="0.68" fill="#3446b4"/><circle cx="146.9" cy="76.2" r="0.68" fill="#4a5cc4"/><circle cx="141.0" cy="85.4" r="0.68" fill="#3446b4"/><circle cx="141.1" cy="74.8" r="0.68" fill="#2636a0"/><circle cx="137.6" cy="77.9" r="0.68" fill="#2c3ca8"/><circle cx="140.8" cy="79.1" r="0.68" fill="#1e2a86"/><circle cx="143.3" cy="80.0" r="0.68" fill="#3446b4"/><circle cx="144.3" cy="84.5" r="0.68" fill="#2c3ca8"/><circle cx="140.3" cy="77.8" r="0.68" fill="#3446b4"/><circle cx="142.9" cy="80.9" r="0.68" fill="#3446b4"/><circle cx="141.4" cy="78.3" r="0.68" fill="#2c3ca8"/><circle cx="145.4" cy="77.6" r="0.68" fill="#1e2a86"/><circle cx="140.6" cy="76.1" r="0.68" fill="#3446b4"/><circle cx="143.6" cy="75.5" r="0.68" fill="#2636a0"/><circle cx="137.8" cy="74.0" r="0.68" fill="#3446b4"/><circle cx="140.6" cy="72.9" r="0.68" fill="#1e2a86"/><circle cx="139.0" cy="81.1" r="0.68" fill="#1e2a86"/><circle cx="140.7" cy="79.3" r="0.68" fill="#4a5cc4"/><circle cx="145.9" cy="72.9" r="0.68" fill="#2636a0"/><circle cx="140.5" cy="77.0" r="0.68" fill="#3446b4"/><circle cx="140.5" cy="73.6" r="0.68" fill="#1e2a86"/><circle cx="139.1" cy="79.6" r="0.68" fill="#3446b4"/><circle cx="141.5" cy="73.1" r="0.68" fill="#3446b4"/><circle cx="139.9" cy="81.9" r="0.68" fill="#4a5cc4"/><circle cx="140.3" cy="81.8" r="0.68" fill="#4a5cc4"/><circle cx="141.2" cy="77.6" r="0.68" fill="#3446b4"/><circle cx="140.9" cy="70.7" r="0.68" fill="#3446b4"/><circle cx="140.9" cy="73.6" r="0.68" fill="#2636a0"/><circle cx="138.4" cy="80.2" r="0.68" fill="#2c3ca8"/><circle cx="140.4" cy="72.4" r="0.68" fill="#4a5cc4"/><circle cx="143.6" cy="77.5" r="0.68" fill="#3446b4"/><circle cx="142.9" cy="79.4" r="0.68" fill="#1e2a86"/><circle cx="143.7" cy="78.0" r="0.68" fill="#1e2a86"/><circle cx="139.4" cy="72.8" r="0.68" fill="#3446b4"/><circle cx="138.6" cy="78.3" r="0.68" fill="#3446b4"/><circle cx="137.6" cy="81.9" r="0.68" fill="#2c3ca8"/><circle cx="139.5" cy="84.7" r="0.68" fill="#2c3ca8"/><circle cx="142.8" cy="78.2" r="0.68" fill="#3446b4"/><circle cx="141.0" cy="67.7" r="0.68" fill="#1e2a86"/><circle cx="154.0" cy="40.9" r="0.68" fill="#2636a0"/><circle cx="149.7" cy="58.7" r="0.68" fill="#2c3ca8"/><circle cx="159.3" cy="49.1" r="0.68" fill="#4a5cc4"/><circle cx="149.1" cy="68.8" r="0.68" fill="#3446b4"/><circle cx="154.7" cy="60.1" r="0.68" fill="#3446b4"/><circle cx="142.5" cy="73.8" r="0.68" fill="#2c3ca8"/><circle cx="163.4" cy="43.2" r="0.68" fill="#4a5cc4"/><circle cx="147.7" cy="60.2" r="0.68" fill="#4a5cc4"/><circle cx="143.7" cy="67.9" r="0.68" fill="#3446b4"/><circle cx="148.6" cy="70.1" r="0.68" fill="#2636a0"/><circle cx="162.7" cy="48.7" r="0.68" fill="#1e2a86"/><circle cx="154.2" cy="53.5" r="0.68" fill="#2636a0"/><circle cx="146.7" cy="56.6" r="0.68" fill="#1e2a86"/><circle cx="147.5" cy="60.7" r="0.68" fill="#4a5cc4"/><circle cx="149.4" cy="59.0" r="0.68" fill="#3446b4"/><circle cx="143.5" cy="72.3" r="0.68" fill="#2636a0"/><circle cx="152.6" cy="53.6" r="0.68" fill="#2636a0"/><circle cx="158.0" cy="48.2" r="0.68" fill="#1e2a86"/><circle cx="160.2" cy="52.1" r="0.68" fill="#1e2a86"/><circle cx="151.8" cy="58.5" r="0.68" fill="#3446b4"/><circle cx="159.7" cy="52.9" r="0.68" fill="#2636a0"/><circle cx="163.1" cy="47.9" r="0.68" fill="#1e2a86"/><circle cx="145.9" cy="71.1" r="0.68" fill="#4a5cc4"/><circle cx="146.3" cy="68.6" r="0.68" fill="#2636a0"/><circle cx="145.3" cy="71.2" r="0.68" fill="#3446b4"/><circle cx="158.2" cy="47.8" r="0.68" fill="#1e2a86"/><circle cx="156.1" cy="49.5" r="0.68" fill="#4a5cc4"/><circle cx="160.4" cy="45.2" r="0.68" fill="#4a5cc4"/><circle cx="146.1" cy="67.5" r="0.68" fill="#2c3ca8"/><circle cx="148.7" cy="64.5" r="0.68" fill="#1e2a86"/><circle cx="149.3" cy="52.6" r="0.68" fill="#1e2a86"/><circle cx="150.8" cy="49.6" r="0.68" fill="#3446b4"/><circle cx="152.0" cy="54.4" r="0.68" fill="#2c3ca8"/><circle cx="146.9" cy="72.4" r="0.68" fill="#2636a0"/><circle cx="144.3" cy="61.6" r="0.68" fill="#2636a0"/><circle cx="142.0" cy="71.0" r="0.68" fill="#2636a0"/><circle cx="146.1" cy="68.2" r="0.68" fill="#4a5cc4"/><circle cx="143.7" cy="72.6" r="0.68" fill="#4a5cc4"/><circle cx="158.7" cy="50.3" r="0.68" fill="#2636a0"/><circle cx="153.2" cy="65.9" r="0.68" fill="#1e2a86"/><circle cx="161.0" cy="48.4" r="0.68" fill="#2c3ca8"/><circle cx="143.8" cy="61.8" r="0.68" fill="#1e2a86"/><circle cx="141.6" cy="74.3" r="0.68" fill="#2636a0"/><circle cx="151.1" cy="64.7" r="0.68" fill="#4a5cc4"/><circle cx="142.1" cy="72.7" r="0.68" fill="#4a5cc4"/><circle cx="147.7" cy="61.7" r="0.68" fill="#4a5cc4"/><circle cx="162.3" cy="47.6" r="0.68" fill="#3446b4"/><circle cx="159.1" cy="42.1" r="0.68" fill="#2c3ca8"/><circle cx="153.7" cy="58.5" r="0.68" fill="#1e2a86"/><circle cx="148.2" cy="77.1" r="0.68" fill="#2636a0"/><circle cx="151.8" cy="52.4" r="0.68" fill="#1e2a86"/><circle cx="142.2" cy="75.4" r="0.68" fill="#2636a0"/><circle cx="169.6" cy="43.8" r="0.68" fill="#1e2a86"/><circle cx="158.5" cy="45.7" r="0.68" fill="#2c3ca8"/><circle cx="164.5" cy="48.5" r="0.68" fill="#1e2a86"/><circle cx="141.9" cy="66.1" r="0.68" fill="#3446b4"/><circle cx="160.0" cy="53.5" r="0.68" fill="#2636a0"/><circle cx="158.5" cy="46.4" r="0.68" fill="#3446b4"/><circle cx="161.2" cy="39.8" r="0.68" fill="#2636a0"/><circle cx="151.4" cy="52.0" r="0.68" fill="#2636a0"/><circle cx="144.3" cy="64.2" r="0.68" fill="#4a5cc4"/><circle cx="159.2" cy="41.4" r="0.68" fill="#3446b4"/><circle cx="158.0" cy="47.5" r="0.68" fill="#1e2a86"/><circle cx="152.6" cy="58.2" r="0.68" fill="#1e2a86"/><circle cx="159.0" cy="59.3" r="0.68" fill="#3446b4"/><circle cx="143.1" cy="73.9" r="0.68" fill="#2c3ca8"/><circle cx="140.3" cy="72.2" r="0.68" fill="#3446b4"/><circle cx="157.1" cy="45.3" r="0.68" fill="#2636a0"/><circle cx="151.5" cy="55.6" r="0.68" fill="#1e2a86"/><circle cx="141.3" cy="77.7" r="0.68" fill="#2c3ca8"/><circle cx="153.7" cy="56.0" r="0.68" fill="#1e2a86"/><circle cx="150.5" cy="59.5" r="0.68" fill="#4a5cc4"/><circle cx="145.0" cy="62.2" r="0.68" fill="#3446b4"/><circle cx="156.1" cy="53.8" r="0.68" fill="#1e2a86"/><circle cx="155.0" cy="45.9" r="0.68" fill="#1e2a86"/><circle cx="144.9" cy="66.6" r="0.68" fill="#3446b4"/><circle cx="145.0" cy="69.7" r="0.68" fill="#1e2a86"/><circle cx="145.6" cy="74.4" r="0.68" fill="#3446b4"/><circle cx="153.8" cy="50.2" r="0.68" fill="#2c3ca8"/><circle cx="154.5" cy="57.9" r="0.68" fill="#1e2a86"/><circle cx="148.0" cy="71.6" r="0.68" fill="#1e2a86"/><circle cx="157.1" cy="54.7" r="0.68" fill="#3446b4"/><circle cx="152.4" cy="53.8" r="0.68" fill="#2636a0"/><circle cx="138.4" cy="67.1" r="0.68" fill="#2636a0"/><circle cx="155.7" cy="56.9" r="0.68" fill="#2636a0"/><circle cx="154.8" cy="55.4" r="0.68" fill="#2c3ca8"/><circle cx="161.2" cy="52.4" r="0.68" fill="#4a5cc4"/><circle cx="137.9" cy="73.5" r="0.68" fill="#2636a0"/><circle cx="144.6" cy="74.4" r="0.68" fill="#3446b4"/><circle cx="147.2" cy="74.4" r="0.68" fill="#4a5cc4"/><circle cx="148.5" cy="61.3" r="0.68" fill="#4a5cc4"/><circle cx="158.7" cy="49.5" r="0.68" fill="#4a5cc4"/><circle cx="148.4" cy="68.8" r="0.68" fill="#3446b4"/><circle cx="145.4" cy="64.7" r="0.68" fill="#1e2a86"/><circle cx="162.6" cy="42.5" r="0.68" fill="#2c3ca8"/><circle cx="143.6" cy="69.6" r="0.68" fill="#2c3ca8"/><circle cx="144.5" cy="68.3" r="0.68" fill="#2636a0"/><circle cx="169.1" cy="50.1" r="0.68" fill="#3446b4"/><circle cx="146.1" cy="62.2" r="0.68" fill="#3446b4"/><circle cx="151.3" cy="58.5" r="0.68" fill="#3446b4"/><circle cx="143.4" cy="71.5" r="0.68" fill="#3446b4"/><circle cx="159.6" cy="52.8" r="0.68" fill="#4a5cc4"/><circle cx="150.7" cy="59.8" r="0.68" fill="#4a5cc4"/><circle cx="152.2" cy="48.8" r="0.68" fill="#2636a0"/><circle cx="146.8" cy="74.4" r="0.68" fill="#2636a0"/><circle cx="155.5" cy="59.9" r="0.68" fill="#4a5cc4"/><circle cx="157.2" cy="48.8" r="0.68" fill="#4a5cc4"/><circle cx="165.7" cy="46.7" r="0.68" fill="#3446b4"/><circle cx="142.1" cy="76.0" r="0.68" fill="#3446b4"/><circle cx="158.6" cy="49.1" r="0.68" fill="#1e2a86"/><circle cx="137.8" cy="73.8" r="0.68" fill="#2636a0"/><circle cx="155.6" cy="46.8" r="0.68" fill="#2636a0"/><circle cx="158.0" cy="46.5" r="0.68" fill="#2c3ca8"/><circle cx="154.0" cy="54.4" r="0.68" fill="#2c3ca8"/><circle cx="146.7" cy="49.0" r="0.68" fill="#4a5cc4"/><circle cx="157.1" cy="59.2" r="0.68" fill="#3446b4"/><circle cx="154.9" cy="60.1" r="0.68" fill="#1e2a86"/><circle cx="156.7" cy="45.1" r="0.68" fill="#2636a0"/><circle cx="136.9" cy="68.0" r="0.68" fill="#2636a0"/><circle cx="158.5" cy="50.0" r="0.68" fill="#2c3ca8"/><circle cx="149.8" cy="64.7" r="0.68" fill="#4a5cc4"/><circle cx="149.8" cy="54.8" r="0.68" fill="#1e2a86"/><circle cx="148.2" cy="59.7" r="0.68" fill="#2636a0"/><circle cx="144.0" cy="68.9" r="0.68" fill="#4a5cc4"/><circle cx="147.7" cy="58.2" r="0.68" fill="#2636a0"/><circle cx="159.6" cy="47.0" r="0.68" fill="#3446b4"/><circle cx="147.4" cy="77.3" r="0.68" fill="#3446b4"/><circle cx="152.5" cy="52.0" r="0.68" fill="#4a5cc4"/><circle cx="141.1" cy="61.6" r="0.68" fill="#1e2a86"/><circle cx="155.7" cy="47.6" r="0.68" fill="#2636a0"/><circle cx="159.5" cy="42.3" r="0.68" fill="#4a5cc4"/><circle cx="145.8" cy="70.4" r="0.68" fill="#2c3ca8"/><circle cx="162.9" cy="50.1" r="0.68" fill="#1e2a86"/><circle cx="151.1" cy="57.5" r="0.68" fill="#2c3ca8"/><circle cx="146.5" cy="64.6" r="0.68" fill="#3446b4"/><circle cx="143.5" cy="64.0" r="0.68" fill="#4a5cc4"/><circle cx="152.1" cy="46.8" r="0.68" fill="#2636a0"/><circle cx="157.2" cy="52.9" r="0.68" fill="#2c3ca8"/><circle cx="150.6" cy="45.2" r="0.68" fill="#1e2a86"/><circle cx="143.7" cy="70.0" r="0.68" fill="#2c3ca8"/><circle cx="156.8" cy="54.6" r="0.68" fill="#4a5cc4"/><circle cx="153.7" cy="56.1" r="0.68" fill="#4a5cc4"/><circle cx="148.6" cy="68.5" r="0.68" fill="#2c3ca8"/><circle cx="156.3" cy="52.5" r="0.68" fill="#3446b4"/><circle cx="160.5" cy="47.4" r="0.68" fill="#4a5cc4"/><circle cx="161.6" cy="41.2" r="0.68" fill="#2c3ca8"/><circle cx="152.8" cy="51.1" r="0.68" fill="#2c3ca8"/><circle cx="148.9" cy="59.0" r="0.68" fill="#2636a0"/><circle cx="155.3" cy="42.4" r="0.68" fill="#2636a0"/><circle cx="150.0" cy="67.2" r="0.68" fill="#1e2a86"/><circle cx="158.7" cy="51.5" r="0.68" fill="#2c3ca8"/><circle cx="138.4" cy="78.2" r="0.68" fill="#1e2a86"/><circle cx="151.1" cy="59.7" r="0.68" fill="#2c3ca8"/><circle cx="146.7" cy="63.0" r="0.68" fill="#2c3ca8"/><circle cx="156.1" cy="52.5" r="0.68" fill="#4a5cc4"/><circle cx="145.3" cy="70.8" r="0.68" fill="#1e2a86"/><circle cx="156.1" cy="54.0" r="0.68" fill="#4a5cc4"/><circle cx="149.3" cy="58.7" r="0.68" fill="#3446b4"/><circle cx="149.0" cy="66.5" r="0.68" fill="#1e2a86"/><circle cx="156.0" cy="50.7" r="0.68" fill="#1e2a86"/><circle cx="142.3" cy="74.1" r="0.68" fill="#2c3ca8"/><circle cx="145.6" cy="66.2" r="0.68" fill="#2636a0"/><circle cx="147.8" cy="66.6" r="0.68" fill="#3446b4"/><circle cx="154.3" cy="63.9" r="0.68" fill="#3446b4"/><circle cx="149.3" cy="68.9" r="0.68" fill="#4a5cc4"/><circle cx="151.6" cy="56.0" r="0.68" fill="#2636a0"/><circle cx="152.7" cy="57.2" r="0.68" fill="#3446b4"/><circle cx="149.4" cy="64.0" r="0.68" fill="#2c3ca8"/><circle cx="147.4" cy="60.8" r="0.68" fill="#1e2a86"/><circle cx="162.6" cy="45.3" r="0.68" fill="#2c3ca8"/><circle cx="157.9" cy="53.3" r="0.68" fill="#2c3ca8"/><circle cx="141.9" cy="75.1" r="0.68" fill="#4a5cc4"/><circle cx="145.9" cy="71.4" r="0.68" fill="#1e2a86"/><circle cx="146.3" cy="67.8" r="0.68" fill="#2c3ca8"/><circle cx="145.4" cy="66.7" r="0.68" fill="#3446b4"/><circle cx="160.8" cy="45.5" r="0.68" fill="#2c3ca8"/><circle cx="158.7" cy="59.5" r="0.68" fill="#4a5cc4"/><circle cx="141.3" cy="67.3" r="0.68" fill="#4a5cc4"/><circle cx="154.9" cy="51.8" r="0.68" fill="#1e2a86"/><circle cx="149.4" cy="65.9" r="0.68" fill="#2636a0"/><circle cx="153.2" cy="50.3" r="0.68" fill="#3446b4"/><circle cx="151.2" cy="55.6" r="0.68" fill="#3446b4"/><circle cx="146.7" cy="65.6" r="0.68" fill="#3446b4"/><circle cx="152.2" cy="55.7" r="0.68" fill="#2c3ca8"/><circle cx="152.4" cy="48.8" r="0.68" fill="#2636a0"/><circle cx="160.1" cy="55.2" r="0.68" fill="#3446b4"/><circle cx="140.4" cy="71.5" r="0.68" fill="#1e2a86"/><circle cx="157.3" cy="44.6" r="0.68" fill="#2636a0"/><circle cx="159.0" cy="46.8" r="0.68" fill="#3446b4"/><circle cx="169.3" cy="54.1" r="0.68" fill="#2c3ca8"/><circle cx="153.1" cy="55.0" r="0.68" fill="#1e2a86"/><circle cx="159.3" cy="53.0" r="0.68" fill="#4a5cc4"/><circle cx="150.2" cy="61.0" r="0.68" fill="#3446b4"/><circle cx="157.8" cy="55.9" r="0.68" fill="#2c3ca8"/><circle cx="160.0" cy="43.9" r="0.68" fill="#4a5cc4"/><circle cx="158.7" cy="54.6" r="0.68" fill="#3446b4"/><circle cx="155.0" cy="51.5" r="0.68" fill="#2c3ca8"/><circle cx="150.5" cy="48.9" r="0.68" fill="#2c3ca8"/><circle cx="156.6" cy="44.6" r="0.68" fill="#2636a0"/><circle cx="160.1" cy="53.2" r="0.68" fill="#2c3ca8"/><circle cx="151.6" cy="51.4" r="0.68" fill="#2c3ca8"/><circle cx="146.6" cy="51.7" r="0.68" fill="#2c3ca8"/><circle cx="158.2" cy="34.1" r="0.68" fill="#2636a0"/><circle cx="144.4" cy="48.4" r="0.68" fill="#4a5cc4"/><circle cx="162.4" cy="55.6" r="0.68" fill="#2636a0"/><circle cx="161.3" cy="46.9" r="0.68" fill="#4a5cc4"/><circle cx="154.7" cy="55.1" r="0.68" fill="#3446b4"/><circle cx="155.4" cy="56.6" r="0.68" fill="#2c3ca8"/><circle cx="151.9" cy="52.9" r="0.68" fill="#2c3ca8"/><circle cx="163.2" cy="31.3" r="0.68" fill="#2c3ca8"/><circle cx="160.3" cy="56.1" r="0.68" fill="#2636a0"/><circle cx="148.3" cy="54.8" r="0.68" fill="#2c3ca8"/><circle cx="148.5" cy="51.4" r="0.68" fill="#2636a0"/><circle cx="158.5" cy="33.2" r="0.68" fill="#4a5cc4"/><circle cx="153.7" cy="56.6" r="0.68" fill="#4a5cc4"/><circle cx="161.0" cy="50.0" r="0.68" fill="#2c3ca8"/><circle cx="154.4" cy="54.4" r="0.68" fill="#3446b4"/><circle cx="159.0" cy="42.0" r="0.68" fill="#3446b4"/><circle cx="155.5" cy="54.0" r="0.68" fill="#2c3ca8"/><circle cx="145.9" cy="45.1" r="0.68" fill="#4a5cc4"/><circle cx="162.5" cy="40.8" r="0.68" fill="#2636a0"/><circle cx="155.3" cy="45.7" r="0.68" fill="#3446b4"/><circle cx="160.8" cy="56.0" r="0.68" fill="#1e2a86"/><circle cx="152.3" cy="47.6" r="0.68" fill="#2c3ca8"/><circle cx="154.7" cy="51.0" r="0.68" fill="#2636a0"/><circle cx="152.4" cy="43.1" r="0.68" fill="#4a5cc4"/><circle cx="162.2" cy="35.2" r="0.68" fill="#3446b4"/><circle cx="149.5" cy="50.9" r="0.68" fill="#2636a0"/><circle cx="153.3" cy="60.0" r="0.68" fill="#1e2a86"/><circle cx="157.5" cy="48.3" r="0.68" fill="#2636a0"/><circle cx="146.4" cy="58.7" r="0.68" fill="#2636a0"/><circle cx="160.9" cy="55.7" r="0.68" fill="#2c3ca8"/><circle cx="155.1" cy="58.7" r="0.68" fill="#3446b4"/><circle cx="156.6" cy="49.4" r="0.68" fill="#4a5cc4"/><circle cx="152.7" cy="42.2" r="0.68" fill="#1e2a86"/><circle cx="158.5" cy="44.0" r="0.68" fill="#2636a0"/><circle cx="169.4" cy="38.4" r="0.68" fill="#3446b4"/><circle cx="160.1" cy="51.3" r="0.68" fill="#4a5cc4"/><circle cx="155.4" cy="62.6" r="0.68" fill="#2636a0"/><circle cx="163.9" cy="41.3" r="0.68" fill="#2c3ca8"/><circle cx="160.3" cy="41.9" r="0.68" fill="#3446b4"/><circle cx="159.0" cy="45.5" r="0.68" fill="#2c3ca8"/><circle cx="162.6" cy="54.7" r="0.68" fill="#2636a0"/><circle cx="153.7" cy="50.9" r="0.68" fill="#1e2a86"/><circle cx="156.1" cy="46.3" r="0.68" fill="#3446b4"/><circle cx="155.1" cy="52.9" r="0.68" fill="#1e2a86"/><circle cx="152.3" cy="48.0" r="0.68" fill="#1e2a86"/><circle cx="152.1" cy="58.8" r="0.68" fill="#2636a0"/><circle cx="156.1" cy="49.3" r="0.68" fill="#1e2a86"/><circle cx="163.8" cy="42.5" r="0.68" fill="#2636a0"/><circle cx="154.2" cy="63.1" r="0.68" fill="#3446b4"/><circle cx="150.6" cy="45.5" r="0.68" fill="#1e2a86"/><circle cx="155.5" cy="57.2" r="0.68" fill="#2c3ca8"/><circle cx="153.4" cy="52.9" r="0.68" fill="#2c3ca8"/><circle cx="157.1" cy="54.3" r="0.68" fill="#1e2a86"/><circle cx="147.2" cy="54.2" r="0.68" fill="#4a5cc4"/><circle cx="155.2" cy="46.7" r="0.68" fill="#2636a0"/><circle cx="164.0" cy="57.1" r="0.68" fill="#2c3ca8"/><circle cx="150.8" cy="50.0" r="0.68" fill="#1e2a86"/><circle cx="156.3" cy="59.6" r="0.68" fill="#2636a0"/><circle cx="149.1" cy="53.3" r="0.68" fill="#1e2a86"/><circle cx="156.1" cy="49.3" r="0.68" fill="#2c3ca8"/><circle cx="148.9" cy="44.0" r="0.68" fill="#1e2a86"/><circle cx="148.3" cy="46.7" r="0.68" fill="#2c3ca8"/><circle cx="170.5" cy="49.5" r="0.68" fill="#2636a0"/><circle cx="160.4" cy="50.5" r="0.68" fill="#2636a0"/><circle cx="145.7" cy="60.3" r="0.68" fill="#3446b4"/><circle cx="152.5" cy="38.0" r="0.68" fill="#1e2a86"/><circle cx="138.9" cy="46.9" r="0.68" fill="#1e2a86"/><circle cx="152.4" cy="57.0" r="0.68" fill="#3446b4"/><circle cx="150.1" cy="49.2" r="0.68" fill="#4a5cc4"/><circle cx="160.5" cy="56.6" r="0.68" fill="#2636a0"/><circle cx="147.7" cy="63.1" r="0.68" fill="#2c3ca8"/><circle cx="154.5" cy="49.3" r="0.68" fill="#4a5cc4"/><circle cx="158.0" cy="51.9" r="0.68" fill="#2636a0"/><circle cx="153.2" cy="54.6" r="0.68" fill="#2636a0"/><circle cx="152.9" cy="46.4" r="0.68" fill="#4a5cc4"/><circle cx="149.7" cy="54.8" r="0.68" fill="#2636a0"/><circle cx="161.6" cy="48.0" r="0.68" fill="#2636a0"/><circle cx="171.1" cy="50.8" r="0.68" fill="#1e2a86"/><circle cx="156.7" cy="49.2" r="0.68" fill="#3446b4"/><circle cx="160.6" cy="41.3" r="0.68" fill="#3446b4"/><circle cx="162.3" cy="43.2" r="0.68" fill="#2c3ca8"/><circle cx="147.5" cy="43.3" r="0.68" fill="#1e2a86"/><circle cx="157.7" cy="49.9" r="0.68" fill="#4a5cc4"/><circle cx="155.7" cy="50.6" r="0.68" fill="#3446b4"/><circle cx="155.1" cy="51.9" r="0.68" fill="#2c3ca8"/><circle cx="159.2" cy="52.9" r="0.68" fill="#1e2a86"/><circle cx="156.1" cy="51.8" r="0.68" fill="#2c3ca8"/><circle cx="168.1" cy="42.3" r="0.68" fill="#1e2a86"/><circle cx="157.1" cy="47.7" r="0.68" fill="#4a5cc4"/><circle cx="143.3" cy="45.0" r="0.68" fill="#2636a0"/><circle cx="148.3" cy="54.9" r="0.68" fill="#2636a0"/><circle cx="165.0" cy="37.1" r="0.68" fill="#1e2a86"/><circle cx="150.8" cy="48.7" r="0.68" fill="#3446b4"/><circle cx="154.1" cy="39.2" r="0.68" fill="#4a5cc4"/><circle cx="153.5" cy="57.7" r="0.68" fill="#2c3ca8"/><circle cx="153.6" cy="45.9" r="0.68" fill="#4a5cc4"/><circle cx="149.3" cy="57.3" r="0.68" fill="#2636a0"/><circle cx="146.5" cy="63.1" r="0.68" fill="#2636a0"/><circle cx="152.7" cy="58.0" r="0.68" fill="#2636a0"/><circle cx="155.6" cy="48.3" r="0.68" fill="#3446b4"/><circle cx="153.1" cy="54.4" r="0.68" fill="#2c3ca8"/><circle cx="139.8" cy="49.3" r="0.68" fill="#2c3ca8"/><circle cx="144.2" cy="62.5" r="0.68" fill="#4a5cc4"/><circle cx="162.7" cy="62.0" r="0.68" fill="#4a5cc4"/><circle cx="152.6" cy="56.1" r="0.68" fill="#3446b4"/><circle cx="153.5" cy="64.3" r="0.68" fill="#4a5cc4"/><circle cx="155.4" cy="52.1" r="0.68" fill="#4a5cc4"/><circle cx="162.5" cy="49.0" r="0.68" fill="#3446b4"/><circle cx="150.6" cy="47.4" r="0.68" fill="#2c3ca8"/><circle cx="151.0" cy="44.3" r="0.68" fill="#2c3ca8"/><circle cx="157.8" cy="43.7" r="0.68" fill="#2636a0"/><circle cx="155.6" cy="41.6" r="0.68" fill="#1e2a86"/><circle cx="164.0" cy="46.7" r="0.68" fill="#1e2a86"/><circle cx="160.7" cy="45.5" r="0.68" fill="#2c3ca8"/><circle cx="153.4" cy="47.2" r="0.68" fill="#3446b4"/><circle cx="157.4" cy="58.2" r="0.68" fill="#1e2a86"/><circle cx="153.1" cy="63.3" r="0.68" fill="#3446b4"/><circle cx="164.8" cy="54.7" r="0.68" fill="#2c3ca8"/><circle cx="172.4" cy="34.4" r="0.68" fill="#2c3ca8"/><circle cx="154.0" cy="59.8" r="0.68" fill="#2636a0"/><circle cx="148.7" cy="44.0" r="0.68" fill="#3446b4"/><circle cx="152.6" cy="52.3" r="0.68" fill="#3446b4"/><circle cx="148.6" cy="56.4" r="0.68" fill="#1e2a86"/><circle cx="159.5" cy="53.3" r="0.68" fill="#4a5cc4"/><circle cx="158.4" cy="48.8" r="0.68" fill="#1e2a86"/><circle cx="157.9" cy="44.7" r="0.68" fill="#2c3ca8"/><circle cx="152.9" cy="48.3" r="0.68" fill="#4a5cc4"/><circle cx="160.5" cy="40.0" r="0.68" fill="#4a5cc4"/><circle cx="153.7" cy="56.5" r="0.68" fill="#1e2a86"/><circle cx="150.6" cy="57.9" r="0.68" fill="#1e2a86"/><circle cx="147.8" cy="46.6" r="0.68" fill="#2636a0"/><circle cx="164.9" cy="47.6" r="0.68" fill="#1e2a86"/><circle cx="160.9" cy="47.9" r="0.68" fill="#2c3ca8"/><circle cx="152.7" cy="58.7" r="0.68" fill="#4a5cc4"/><circle cx="157.1" cy="42.5" r="0.68" fill="#1e2a86"/><circle cx="151.9" cy="54.3" r="0.68" fill="#3446b4"/><circle cx="157.3" cy="43.9" r="0.68" fill="#2636a0"/><circle cx="163.1" cy="45.9" r="0.68" fill="#3446b4"/><circle cx="155.2" cy="55.9" r="0.68" fill="#4a5cc4"/><circle cx="167.4" cy="43.9" r="0.68" fill="#2c3ca8"/><circle cx="156.3" cy="49.2" r="0.68" fill="#2636a0"/><circle cx="154.5" cy="64.6" r="0.68" fill="#3446b4"/><circle cx="152.7" cy="58.7" r="0.68" fill="#3446b4"/><circle cx="151.8" cy="59.6" r="0.68" fill="#1e2a86"/><circle cx="144.6" cy="57.9" r="0.68" fill="#4a5cc4"/><circle cx="154.1" cy="43.2" r="0.68" fill="#1e2a86"/><circle cx="153.3" cy="50.9" r="0.68" fill="#2636a0"/><circle cx="152.1" cy="44.2" r="0.68" fill="#2c3ca8"/><circle cx="157.3" cy="49.5" r="0.68" fill="#1e2a86"/><circle cx="155.8" cy="56.7" r="0.68" fill="#1e2a86"/><circle cx="146.3" cy="52.5" r="0.68" fill="#2c3ca8"/><circle cx="158.1" cy="47.4" r="0.68" fill="#2c3ca8"/><circle cx="157.4" cy="55.9" r="0.68" fill="#2c3ca8"/><circle cx="146.6" cy="59.1" r="0.68" fill="#2c3ca8"/><circle cx="161.4" cy="42.8" r="0.68" fill="#3446b4"/><circle cx="151.4" cy="40.6" r="0.68" fill="#2636a0"/><circle cx="159.8" cy="52.1" r="0.68" fill="#2c3ca8"/><circle cx="150.8" cy="77.2" r="0.68" fill="#2636a0"/><circle cx="151.0" cy="78.3" r="0.68" fill="#3446b4"/><circle cx="149.9" cy="73.2" r="0.68" fill="#4a5cc4"/><circle cx="146.2" cy="83.8" r="0.68" fill="#2c3ca8"/><circle cx="140.0" cy="75.4" r="0.68" fill="#2636a0"/><circle cx="148.3" cy="72.4" r="0.68" fill="#1e2a86"/><circle cx="153.2" cy="73.5" r="0.68" fill="#1e2a86"/><circle cx="155.6" cy="73.4" r="0.68" fill="#3446b4"/><circle cx="157.4" cy="77.9" r="0.68" fill="#3446b4"/><circle cx="156.6" cy="79.2" r="0.68" fill="#2636a0"/><circle cx="147.1" cy="71.3" r="0.68" fill="#1e2a86"/><circle cx="151.8" cy="75.5" r="0.68" fill="#1e2a86"/><circle cx="159.1" cy="76.1" r="0.68" fill="#1e2a86"/><circle cx="142.5" cy="73.1" r="0.68" fill="#2c3ca8"/><circle cx="150.4" cy="77.1" r="0.68" fill="#3446b4"/><circle cx="153.1" cy="76.1" r="0.68" fill="#1e2a86"/><circle cx="155.5" cy="82.1" r="0.68" fill="#2c3ca8"/><circle cx="143.7" cy="72.7" r="0.68" fill="#4a5cc4"/><circle cx="156.3" cy="73.1" r="0.68" fill="#1e2a86"/><circle cx="153.9" cy="78.1" r="0.68" fill="#2636a0"/><circle cx="150.0" cy="74.7" r="0.68" fill="#1e2a86"/><circle cx="146.7" cy="75.4" r="0.68" fill="#1e2a86"/><circle cx="153.8" cy="76.3" r="0.68" fill="#4a5cc4"/><circle cx="156.9" cy="74.5" r="0.68" fill="#2c3ca8"/><circle cx="147.3" cy="76.9" r="0.68" fill="#1e2a86"/><circle cx="154.0" cy="70.5" r="0.68" fill="#3446b4"/><circle cx="149.6" cy="71.2" r="0.68" fill="#3446b4"/><circle cx="154.1" cy="78.3" r="0.68" fill="#1e2a86"/><circle cx="151.8" cy="77.0" r="0.68" fill="#3446b4"/><circle cx="145.8" cy="70.3" r="0.68" fill="#3446b4"/><circle cx="153.5" cy="75.5" r="0.68" fill="#3446b4"/><circle cx="154.3" cy="81.2" r="0.68" fill="#2636a0"/><circle cx="155.1" cy="76.3" r="0.68" fill="#4a5cc4"/><circle cx="145.9" cy="80.1" r="0.68" fill="#4a5cc4"/><circle cx="153.5" cy="76.4" r="0.68" fill="#4a5cc4"/><circle cx="152.2" cy="78.8" r="0.68" fill="#4a5cc4"/><circle cx="155.2" cy="80.5" r="0.68" fill="#2c3ca8"/><circle cx="152.2" cy="76.4" r="0.68" fill="#1e2a86"/><circle cx="155.3" cy="72.7" r="0.68" fill="#3446b4"/><circle cx="149.0" cy="77.5" r="0.68" fill="#2c3ca8"/><circle cx="161.5" cy="68.7" r="0.68" fill="#2636a0"/><circle cx="158.2" cy="78.5" r="0.68" fill="#3446b4"/><circle cx="149.3" cy="71.3" r="0.68" fill="#1e2a86"/><circle cx="148.1" cy="78.1" r="0.68" fill="#1e2a86"/><circle cx="151.8" cy="75.2" r="0.68" fill="#1e2a86"/><circle cx="153.3" cy="74.7" r="0.68" fill="#2c3ca8"/><circle cx="154.1" cy="79.4" r="0.68" fill="#2c3ca8"/><circle cx="161.3" cy="76.4" r="0.68" fill="#1e2a86"/><circle cx="148.6" cy="78.3" r="0.68" fill="#2636a0"/><circle cx="147.4" cy="83.0" r="0.68" fill="#3446b4"/><circle cx="148.6" cy="81.0" r="0.68" fill="#2c3ca8"/><circle cx="156.6" cy="75.0" r="0.68" fill="#2636a0"/><circle cx="156.9" cy="73.4" r="0.68" fill="#2c3ca8"/><circle cx="148.2" cy="78.9" r="0.68" fill="#3446b4"/><circle cx="149.3" cy="79.5" r="0.68" fill="#1e2a86"/><circle cx="151.8" cy="76.9" r="0.68" fill="#2c3ca8"/><circle cx="153.1" cy="73.2" r="0.68" fill="#1e2a86"/><circle cx="154.0" cy="77.9" r="0.68" fill="#4a5cc4"/><circle cx="144.4" cy="74.0" r="0.68" fill="#1e2a86"/><circle cx="147.2" cy="74.5" r="0.68" fill="#4a5cc4"/><circle cx="152.9" cy="73.2" r="0.68" fill="#2636a0"/><circle cx="149.9" cy="78.1" r="0.68" fill="#4a5cc4"/><circle cx="146.8" cy="79.2" r="0.68" fill="#1e2a86"/><circle cx="148.7" cy="74.4" r="0.68" fill="#3446b4"/><circle cx="149.0" cy="76.4" r="0.68" fill="#1e2a86"/><circle cx="156.2" cy="71.3" r="0.68" fill="#1e2a86"/><circle cx="166.8" cy="71.0" r="0.68" fill="#2c3ca8"/><circle cx="148.0" cy="73.6" r="0.68" fill="#2636a0"/><circle cx="157.6" cy="75.7" r="0.68" fill="#3446b4"/><circle cx="147.6" cy="78.7" r="0.68" fill="#1e2a86"/><circle cx="132.5" cy="88.5" r="0.68" fill="#3446b4"/><circle cx="139.1" cy="84.5" r="0.68" fill="#2636a0"/><circle cx="141.2" cy="88.4" r="0.68" fill="#3446b4"/><circle cx="140.2" cy="84.2" r="0.68" fill="#2636a0"/><circle cx="139.6" cy="84.9" r="0.68" fill="#4a5cc4"/><circle cx="131.2" cy="88.3" r="0.68" fill="#4a5cc4"/><circle cx="139.3" cy="88.7" r="0.68" fill="#3446b4"/><circle cx="133.8" cy="85.1" r="0.68" fill="#2c3ca8"/></g>
<g><circle cx="138.8" cy="85.0" r="0.68" fill="#2636a0"/><circle cx="141.3" cy="81.4" r="0.68" fill="#2636a0"/><circle cx="141.0" cy="80.6" r="0.68" fill="#4a5cc4"/><circle cx="140.6" cy="80.5" r="0.68" fill="#1e2a86"/><circle cx="141.1" cy="75.6" r="0.68" fill="#2636a0"/><circle cx="139.4" cy="80.2" r="0.68" fill="#3446b4"/><circle cx="138.9" cy="85.9" r="0.68" fill="#2c3ca8"/><circle cx="142.1" cy="79.8" r="0.68" fill="#4a5cc4"/><circle cx="142.1" cy="80.1" r="0.68" fill="#4a5cc4"/><circle cx="140.0" cy="79.7" r="0.68" fill="#4a5cc4"/><circle cx="135.4" cy="82.5" r="0.68" fill="#3446b4"/><circle cx="140.1" cy="78.1" r="0.68" fill="#2636a0"/><circle cx="143.0" cy="74.3" r="0.68" fill="#1e2a86"/><circle cx="143.0" cy="81.8" r="0.68" fill="#2636a0"/><circle cx="140.9" cy="69.3" r="0.68" fill="#1e2a86"/><circle cx="133.8" cy="87.8" r="0.68" fill="#4a5cc4"/><circle cx="140.0" cy="79.7" r="0.68" fill="#3446b4"/><circle cx="137.7" cy="86.0" r="0.68" fill="#3446b4"/><circle cx="138.3" cy="84.4" r="0.68" fill="#1e2a86"/><circle cx="138.1" cy="74.4" r="0.68" fill="#3446b4"/><circle cx="139.8" cy="81.0" r="0.68" fill="#1e2a86"/><circle cx="140.4" cy="84.5" r="0.68" fill="#4a5cc4"/><circle cx="141.0" cy="77.0" r="0.68" fill="#1e2a86"/><circle cx="137.7" cy="83.7" r="0.68" fill="#1e2a86"/><circle cx="136.9" cy="74.9" r="0.68" fill="#4a5cc4"/><circle cx="144.3" cy="87.1" r="0.68" fill="#3446b4"/><circle cx="137.6" cy="80.0" r="0.68" fill="#2c3ca8"/><circle cx="135.5" cy="77.5" r="0.68" fill="#3446b4"/><circle cx="138.7" cy="80.9" r="0.68" fill="#4a5cc4"/><circle cx="136.9" cy="77.3" r="0.68" fill="#1e2a86"/><circle cx="135.0" cy="80.5" r="0.68" fill="#3446b4"/><circle cx="136.9" cy="80.3" r="0.68" fill="#1e2a86"/><circle cx="137.1" cy="80.9" r="0.68" fill="#1e2a86"/><circle cx="139.4" cy="85.2" r="0.68" fill="#2636a0"/><circle cx="143.9" cy="82.7" r="0.68" fill="#1e2a86"/><circle cx="141.2" cy="79.6" r="0.68" fill="#2636a0"/><circle cx="137.4" cy="78.6" r="0.68" fill="#4a5cc4"/><circle cx="146.5" cy="76.7" r="0.68" fill="#3446b4"/><circle cx="138.4" cy="79.6" r="0.68" fill="#3446b4"/><circle cx="137.5" cy="80.6" r="0.68" fill="#1e2a86"/><circle cx="139.9" cy="77.6" r="0.68" fill="#2c3ca8"/><circle cx="135.6" cy="78.3" r="0.68" fill="#2c3ca8"/><circle cx="144.5" cy="74.4" r="0.68" fill="#4a5cc4"/><circle cx="142.7" cy="74.3" r="0.68" fill="#3446b4"/><circle cx="136.8" cy="80.9" r="0.68" fill="#2c3ca8"/><circle cx="138.7" cy="77.0" r="0.68" fill="#2636a0"/><circle cx="140.8" cy="78.1" r="0.68" fill="#3446b4"/><circle cx="145.0" cy="74.3" r="0.68" fill="#1e2a86"/><circle cx="137.9" cy="82.7" r="0.68" fill="#2636a0"/><circle cx="139.7" cy="79.6" r="0.68" fill="#4a5cc4"/></g>
<g><circle cx="141.5" cy="83.8" r="0.7" fill="#c43a3a"/><circle cx="141.5" cy="78.7" r="0.7" fill="#c43a3a"/><circle cx="140.9" cy="79.3" r="0.7" fill="#c43a3a"/><circle cx="140.2" cy="79.3" r="0.7" fill="#8a2a5a"/><circle cx="140.9" cy="78.2" r="0.7" fill="#c43a3a"/><circle cx="139.9" cy="78.3" r="0.7" fill="#b8324a"/><circle cx="141.3" cy="82.5" r="0.7" fill="#a02c50"/><circle cx="141.4" cy="80.2" r="0.7" fill="#8a2a5a"/><circle cx="142.5" cy="76.1" r="0.7" fill="#a02c50"/><circle cx="143.7" cy="72.5" r="0.7" fill="#8a2a5a"/><circle cx="141.3" cy="79.3" r="0.7" fill="#b8324a"/><circle cx="140.7" cy="75.1" r="0.7" fill="#8a2a5a"/><circle cx="142.1" cy="79.3" r="0.7" fill="#c43a3a"/><circle cx="140.2" cy="82.3" r="0.7" fill="#a02c50"/><circle cx="140.3" cy="79.7" r="0.7" fill="#8a2a5a"/><circle cx="141.6" cy="78.6" r="0.7" fill="#b8324a"/><circle cx="140.7" cy="78.2" r="0.7" fill="#a02c50"/><circle cx="139.0" cy="80.1" r="0.7" fill="#a02c50"/><circle cx="139.0" cy="80.7" r="0.7" fill="#a02c50"/><circle cx="139.6" cy="78.3" r="0.7" fill="#8a2a5a"/><circle cx="139.8" cy="76.3" r="0.7" fill="#b8324a"/><circle cx="141.3" cy="80.6" r="0.7" fill="#a02c50"/><circle cx="136.0" cy="81.6" r="0.7" fill="#8a2a5a"/><circle cx="139.3" cy="81.4" r="0.7" fill="#a02c50"/><circle cx="143.7" cy="76.6" r="0.7" fill="#8a2a5a"/><circle cx="139.8" cy="77.4" r="0.7" fill="#b8324a"/><circle cx="140.6" cy="81.1" r="0.7" fill="#8a2a5a"/><circle cx="140.5" cy="79.6" r="0.7" fill="#8a2a5a"/><circle cx="138.2" cy="80.2" r="0.7" fill="#c43a3a"/><circle cx="138.4" cy="79.4" r="0.7" fill="#c43a3a"/><circle cx="142.7" cy="78.5" r="0.7" fill="#b8324a"/><circle cx="138.7" cy="77.3" r="0.7" fill="#c43a3a"/><circle cx="137.4" cy="79.5" r="0.7" fill="#a02c50"/><circle cx="143.6" cy="77.1" r="0.7" fill="#8a2a5a"/><circle cx="139.6" cy="76.9" r="0.7" fill="#c43a3a"/><circle cx="139.2" cy="82.5" r="0.7" fill="#a02c50"/><circle cx="141.8" cy="78.2" r="0.7" fill="#a02c50"/><circle cx="138.6" cy="82.0" r="0.7" fill="#8a2a5a"/><circle cx="144.0" cy="85.3" r="0.7" fill="#a02c50"/><circle cx="142.5" cy="78.4" r="0.7" fill="#b8324a"/><circle cx="141.2" cy="78.0" r="0.7" fill="#c43a3a"/><circle cx="138.7" cy="78.4" r="0.7" fill="#b8324a"/><circle cx="140.1" cy="81.3" r="0.7" fill="#a02c50"/><circle cx="142.6" cy="81.8" r="0.7" fill="#b8324a"/><circle cx="140.8" cy="73.2" r="0.7" fill="#c43a3a"/><circle cx="142.6" cy="79.5" r="0.7" fill="#a02c50"/><circle cx="138.8" cy="83.6" r="0.7" fill="#a02c50"/><circle cx="138.5" cy="79.5" r="0.7" fill="#a02c50"/><circle cx="140.1" cy="79.4" r="0.7" fill="#a02c50"/><circle cx="139.9" cy="74.1" r="0.7" fill="#c43a3a"/><circle cx="137.6" cy="80.4" r="0.7" fill="#a02c50"/><circle cx="141.3" cy="78.8" r="0.7" fill="#8a2a5a"/><circle cx="138.0" cy="77.2" r="0.7" fill="#b8324a"/><circle cx="137.9" cy="83.5" r="0.7" fill="#8a2a5a"/><circle cx="138.3" cy="82.4" r="0.7" fill="#b8324a"/><circle cx="137.9" cy="77.8" r="0.7" fill="#c43a3a"/><circle cx="138.9" cy="83.5" r="0.7" fill="#c43a3a"/><circle cx="138.8" cy="79.6" r="0.7" fill="#8a2a5a"/><circle cx="138.9" cy="78.6" r="0.7" fill="#a02c50"/><circle cx="141.7" cy="77.0" r="0.7" fill="#a02c50"/><circle cx="139.6" cy="76.4" r="0.7" fill="#b8324a"/><circle cx="138.7" cy="80.4" r="0.7" fill="#8a2a5a"/><circle cx="142.6" cy="83.2" r="0.7" fill="#8a2a5a"/><circle cx="137.8" cy="79.9" r="0.7" fill="#a02c50"/><circle cx="136.8" cy="80.2" r="0.7" fill="#b8324a"/></g>
<rect x="121.00" y="29.90" width="52.60" height="78.10" fill="none" stroke="#7a7a7a" stroke-width="1.25"/>
<line x1="146.00" y1="29.90" x2="146.00" y2="108.00" stroke="#5a5a5a" stroke-width="0.9"/>
<line x1="121.00" y1="69.20" x2="173.60" y2="69.20" stroke="#5a5a5a" stroke-width="0.9"/>
<line x1="118.40" y1="42.40" x2="121.00" y2="42.40" stroke="#222" stroke-width="0.9"/>
<text x="116.40" y="44.70" font-size="6.6" fill="#333" stroke="#333" stroke-width="0.22" text-anchor="end">10<tspan font-size="3.96" dy="-2.77">6</tspan></text>
<line x1="118.40" y1="59.80" x2="121.00" y2="59.80" stroke="#222" stroke-width="0.9"/>
<text x="116.40" y="62.10" font-size="6.6" fill="#333" stroke="#333" stroke-width="0.22" text-anchor="end">10<tspan font-size="3.96" dy="-2.77">5</tspan></text>
<line x1="118.40" y1="80.50" x2="121.00" y2="80.50" stroke="#222" stroke-width="0.9"/>
<text x="116.40" y="82.80" font-size="6.6" fill="#333" stroke="#333" stroke-width="0.22" text-anchor="end">10<tspan font-size="3.96" dy="-2.77">4</tspan></text>
<line x1="118.40" y1="91.30" x2="121.00" y2="91.30" stroke="#222" stroke-width="0.9"/>
<rect x="119.40" y="89.90" width="1.60" height="2.80" fill="#111"/>
<text x="115.60" y="93.60" font-size="6.6" fill="#333" text-anchor="end" stroke="#333" stroke-width="0.22">0</text>
<line x1="118.40" y1="102.30" x2="121.00" y2="102.30" stroke="#222" stroke-width="0.9"/>
<text x="116.40" y="104.60" font-size="6.6" fill="#333" stroke="#333" stroke-width="0.22" text-anchor="end">−10<tspan font-size="3.96" dy="-2.77">4</tspan></text>
<line x1="119.70" y1="33.00" x2="121.00" y2="33.00" stroke="#444" stroke-width="0.6"/>
<line x1="119.70" y1="36.00" x2="121.00" y2="36.00" stroke="#444" stroke-width="0.6"/>
<line x1="119.70" y1="38.50" x2="121.00" y2="38.50" stroke="#444" stroke-width="0.6"/>
<line x1="119.70" y1="47.00" x2="121.00" y2="47.00" stroke="#444" stroke-width="0.6"/>
<line x1="119.70" y1="50.00" x2="121.00" y2="50.00" stroke="#444" stroke-width="0.6"/>
<line x1="119.70" y1="53.00" x2="121.00" y2="53.00" stroke="#444" stroke-width="0.6"/>
<line x1="119.70" y1="56.00" x2="121.00" y2="56.00" stroke="#444" stroke-width="0.6"/>
<line x1="119.70" y1="64.00" x2="121.00" y2="64.00" stroke="#444" stroke-width="0.6"/>
<line x1="119.70" y1="67.00" x2="121.00" y2="67.00" stroke="#444" stroke-width="0.6"/>
<line x1="119.70" y1="70.00" x2="121.00" y2="70.00" stroke="#444" stroke-width="0.6"/>
<line x1="119.70" y1="73.00" x2="121.00" y2="73.00" stroke="#444" stroke-width="0.6"/>
<line x1="119.70" y1="76.00" x2="121.00" y2="76.00" stroke="#444" stroke-width="0.6"/>
<line x1="119.70" y1="84.00" x2="121.00" y2="84.00" stroke="#444" stroke-width="0.6"/>
<line x1="119.70" y1="86.00" x2="121.00" y2="86.00" stroke="#444" stroke-width="0.6"/>
<line x1="119.70" y1="88.00" x2="121.00" y2="88.00" stroke="#444" stroke-width="0.6"/>
<line x1="119.70" y1="94.00" x2="121.00" y2="94.00" stroke="#444" stroke-width="0.6"/>
<line x1="119.70" y1="96.00" x2="121.00" y2="96.00" stroke="#444" stroke-width="0.6"/>
<line x1="119.70" y1="98.00" x2="121.00" y2="98.00" stroke="#444" stroke-width="0.6"/>
<line x1="119.70" y1="100.00" x2="121.00" y2="100.00" stroke="#444" stroke-width="0.6"/>
<line x1="123.40" y1="108.00" x2="123.40" y2="109.60" stroke="#222" stroke-width="0.7"/>
<line x1="124.40" y1="108.00" x2="124.40" y2="109.60" stroke="#222" stroke-width="0.7"/>
<line x1="125.40" y1="108.00" x2="125.40" y2="109.60" stroke="#222" stroke-width="0.7"/>
<line x1="127.60" y1="108.00" x2="127.60" y2="109.60" stroke="#222" stroke-width="0.7"/>
<line x1="128.60" y1="108.00" x2="128.60" y2="109.60" stroke="#222" stroke-width="0.7"/>
<line x1="129.60" y1="108.00" x2="129.60" y2="109.60" stroke="#222" stroke-width="0.7"/>
<line x1="131.60" y1="108.00" x2="131.60" y2="109.60" stroke="#222" stroke-width="0.7"/>
<line x1="134.40" y1="108.00" x2="134.40" y2="109.60" stroke="#222" stroke-width="0.7"/>
<line x1="137.00" y1="108.00" x2="137.00" y2="109.60" stroke="#222" stroke-width="0.7"/>
<line x1="139.60" y1="108.00" x2="139.60" y2="109.60" stroke="#222" stroke-width="0.7"/>
<line x1="149.90" y1="108.00" x2="149.90" y2="110.40" stroke="#222" stroke-width="0.9"/>
<line x1="163.80" y1="108.00" x2="163.80" y2="110.40" stroke="#222" stroke-width="0.9"/>
<line x1="143.00" y1="108.00" x2="143.00" y2="109.10" stroke="#555" stroke-width="0.5"/>
<line x1="145.50" y1="108.00" x2="145.50" y2="109.10" stroke="#555" stroke-width="0.5"/>
<line x1="154.00" y1="108.00" x2="154.00" y2="109.10" stroke="#555" stroke-width="0.5"/>
<line x1="157.00" y1="108.00" x2="157.00" y2="109.10" stroke="#555" stroke-width="0.5"/>
<line x1="160.00" y1="108.00" x2="160.00" y2="109.10" stroke="#555" stroke-width="0.5"/>
<line x1="167.00" y1="108.00" x2="167.00" y2="109.10" stroke="#555" stroke-width="0.5"/>
<line x1="170.00" y1="108.00" x2="170.00" y2="109.10" stroke="#555" stroke-width="0.5"/>
<text x="131.00" y="119.90" font-size="6.4" fill="#333" text-anchor="middle" stroke="#333" stroke-width="0.22">0</text>
<text x="150.80" y="119.90" font-size="6.4" fill="#333" stroke="#333" stroke-width="0.22" text-anchor="middle">10<tspan font-size="3.84" dy="-2.69">5</tspan></text>
<text x="164.80" y="119.90" font-size="6.4" fill="#333" stroke="#333" stroke-width="0.22" text-anchor="middle">10<tspan font-size="3.84" dy="-2.69">6</tspan></text>
<text x="227.40" y="23.90" font-size="6.8" fill="#333" text-anchor="middle" stroke="#333" stroke-width="0.22" textLength="24.8" lengthAdjust="spacingAndGlyphs">shSTAT3</text>
<g><circle cx="225.0" cy="74.3" r="0.68" fill="#2636a0"/><circle cx="225.6" cy="71.5" r="0.68" fill="#3446b4"/><circle cx="218.1" cy="75.1" r="0.68" fill="#3446b4"/><circle cx="223.2" cy="79.6" r="0.68" fill="#3446b4"/><circle cx="221.1" cy="75.9" r="0.68" fill="#4a5cc4"/><circle cx="218.9" cy="80.0" r="0.68" fill="#1e2a86"/><circle cx="219.3" cy="75.2" r="0.68" fill="#3446b4"/><circle cx="228.7" cy="72.1" r="0.68" fill="#4a5cc4"/><circle cx="219.2" cy="77.0" r="0.68" fill="#1e2a86"/><circle cx="218.3" cy="77.5" r="0.68" fill="#2636a0"/><circle cx="220.3" cy="76.5" r="0.68" fill="#2636a0"/><circle cx="225.2" cy="67.7" r="0.68" fill="#2636a0"/><circle cx="225.2" cy="77.7" r="0.68" fill="#4a5cc4"/><circle cx="224.3" cy="71.3" r="0.68" fill="#1e2a86"/><circle cx="219.5" cy="82.0" r="0.68" fill="#3446b4"/><circle cx="227.4" cy="71.3" r="0.68" fill="#1e2a86"/><circle cx="225.4" cy="71.4" r="0.68" fill="#2636a0"/><circle cx="224.7" cy="70.6" r="0.68" fill="#4a5cc4"/><circle cx="217.9" cy="80.2" r="0.68" fill="#4a5cc4"/><circle cx="227.9" cy="74.2" r="0.68" fill="#4a5cc4"/><circle cx="228.4" cy="71.4" r="0.68" fill="#2636a0"/><circle cx="229.5" cy="75.5" r="0.68" fill="#2636a0"/><circle cx="220.8" cy="80.6" r="0.68" fill="#4a5cc4"/><circle cx="222.4" cy="77.2" r="0.68" fill="#2c3ca8"/><circle cx="222.9" cy="75.6" r="0.68" fill="#4a5cc4"/><circle cx="223.7" cy="75.8" r="0.68" fill="#2636a0"/><circle cx="227.0" cy="71.5" r="0.68" fill="#4a5cc4"/><circle cx="216.8" cy="81.8" r="0.68" fill="#2636a0"/><circle cx="220.3" cy="76.2" r="0.68" fill="#4a5cc4"/><circle cx="222.4" cy="76.2" r="0.68" fill="#4a5cc4"/><circle cx="227.1" cy="69.0" r="0.68" fill="#3446b4"/><circle cx="219.4" cy="77.9" r="0.68" fill="#3446b4"/><circle cx="223.3" cy="76.0" r="0.68" fill="#4a5cc4"/><circle cx="225.6" cy="74.1" r="0.68" fill="#4a5cc4"/><circle cx="224.7" cy="69.8" r="0.68" fill="#2636a0"/><circle cx="224.1" cy="70.4" r="0.68" fill="#2636a0"/><circle cx="216.1" cy="83.3" r="0.68" fill="#3446b4"/><circle cx="219.1" cy="81.7" r="0.68" fill="#2636a0"/><circle cx="226.3" cy="78.1" r="0.68" fill="#1e2a86"/><circle cx="224.7" cy="72.4" r="0.68" fill="#1e2a86"/><circle cx="224.4" cy="71.4" r="0.68" fill="#4a5cc4"/><circle cx="220.9" cy="78.9" r="0.68" fill="#4a5cc4"/><circle cx="228.0" cy="70.1" r="0.68" fill="#3446b4"/><circle cx="220.1" cy="76.8" r="0.68" fill="#1e2a86"/><circle cx="221.6" cy="75.5" r="0.68" fill="#2c3ca8"/><circle cx="227.2" cy="68.3" r="0.68" fill="#2636a0"/><circle cx="218.5" cy="81.6" r="0.68" fill="#2636a0"/><circle cx="226.5" cy="71.9" r="0.68" fill="#2c3ca8"/><circle cx="223.1" cy="76.6" r="0.68" fill="#3446b4"/><circle cx="221.2" cy="79.8" r="0.68" fill="#4a5cc4"/><circle cx="229.0" cy="73.3" r="0.68" fill="#3446b4"/><circle cx="228.0" cy="68.6" r="0.68" fill="#2c3ca8"/><circle cx="221.2" cy="76.2" r="0.68" fill="#2c3ca8"/><circle cx="225.7" cy="76.1" r="0.68" fill="#4a5cc4"/><circle cx="223.0" cy="73.4" r="0.68" fill="#2636a0"/><circle cx="219.8" cy="80.4" r="0.68" fill="#2636a0"/><circle cx="232.5" cy="69.0" r="0.68" fill="#4a5cc4"/><circle cx="223.2" cy="76.9" r="0.68" fill="#2c3ca8"/><circle cx="221.4" cy="71.8" r="0.68" fill="#2636a0"/><circle cx="215.1" cy="82.0" r="0.68" fill="#3446b4"/><circle cx="223.5" cy="73.8" r="0.68" fill="#2c3ca8"/><circle cx="219.0" cy="85.1" r="0.68" fill="#3446b4"/><circle cx="227.6" cy="74.8" r="0.68" fill="#2c3ca8"/><circle cx="214.2" cy="79.5" r="0.68" fill="#1e2a86"/><circle cx="224.5" cy="76.8" r="0.68" fill="#3446b4"/><circle cx="217.5" cy="84.1" r="0.68" fill="#2636a0"/><circle cx="220.6" cy="78.0" r="0.68" fill="#2636a0"/><circle cx="226.1" cy="71.9" r="0.68" fill="#4a5cc4"/><circle cx="226.1" cy="76.0" r="0.68" fill="#1e2a86"/><circle cx="224.5" cy="69.9" r="0.68" fill="#4a5cc4"/><circle cx="217.6" cy="82.4" r="0.68" fill="#4a5cc4"/><circle cx="226.7" cy="75.2" r="0.68" fill="#3446b4"/><circle cx="219.7" cy="79.8" r="0.68" fill="#2636a0"/><circle cx="222.1" cy="84.7" r="0.68" fill="#4a5cc4"/><circle cx="223.8" cy="74.6" r="0.68" fill="#1e2a86"/><circle cx="223.7" cy="76.5" r="0.68" fill="#2636a0"/><circle cx="229.1" cy="71.4" r="0.68" fill="#3446b4"/><circle cx="225.4" cy="76.5" r="0.68" fill="#1e2a86"/><circle cx="217.5" cy="80.0" r="0.68" fill="#1e2a86"/><circle cx="222.6" cy="79.4" r="0.68" fill="#2636a0"/><circle cx="221.3" cy="81.0" r="0.68" fill="#2636a0"/><circle cx="223.0" cy="69.9" r="0.68" fill="#4a5cc4"/><circle cx="220.4" cy="82.0" r="0.68" fill="#4a5cc4"/><circle cx="223.6" cy="69.8" r="0.68" fill="#1e2a86"/><circle cx="220.5" cy="78.4" r="0.68" fill="#3446b4"/><circle cx="222.8" cy="79.4" r="0.68" fill="#2c3ca8"/><circle cx="222.4" cy="79.3" r="0.68" fill="#2636a0"/><circle cx="217.7" cy="81.0" r="0.68" fill="#2c3ca8"/><circle cx="225.0" cy="71.0" r="0.68" fill="#2636a0"/><circle cx="218.8" cy="84.8" r="0.68" fill="#4a5cc4"/><circle cx="231.1" cy="69.0" r="0.68" fill="#2636a0"/><circle cx="226.1" cy="70.9" r="0.68" fill="#2c3ca8"/><circle cx="222.2" cy="71.9" r="0.68" fill="#3446b4"/><circle cx="220.1" cy="82.1" r="0.68" fill="#4a5cc4"/><circle cx="223.6" cy="77.7" r="0.68" fill="#2c3ca8"/><circle cx="225.3" cy="71.0" r="0.68" fill="#3446b4"/><circle cx="222.6" cy="78.9" r="0.68" fill="#1e2a86"/><circle cx="217.7" cy="84.5" r="0.68" fill="#3446b4"/><circle cx="229.2" cy="65.8" r="0.68" fill="#4a5cc4"/><circle cx="224.1" cy="71.2" r="0.68" fill="#1e2a86"/><circle cx="225.1" cy="70.7" r="0.68" fill="#2636a0"/><circle cx="226.7" cy="70.7" r="0.68" fill="#1e2a86"/><circle cx="218.7" cy="79.8" r="0.68" fill="#3446b4"/><circle cx="222.7" cy="79.9" r="0.68" fill="#3446b4"/><circle cx="228.4" cy="74.6" r="0.68" fill="#2636a0"/><circle cx="230.7" cy="67.1" r="0.68" fill="#2c3ca8"/><circle cx="227.7" cy="68.0" r="0.68" fill="#4a5cc4"/><circle cx="224.3" cy="73.4" r="0.68" fill="#2636a0"/><circle cx="225.7" cy="74.8" r="0.68" fill="#4a5cc4"/><circle cx="224.6" cy="74.7" r="0.68" fill="#3446b4"/><circle cx="248.3" cy="43.1" r="0.68" fill="#2636a0"/><circle cx="238.5" cy="63.3" r="0.68" fill="#1e2a86"/><circle cx="239.0" cy="54.4" r="0.68" fill="#4a5cc4"/><circle cx="234.6" cy="53.2" r="0.68" fill="#3446b4"/><circle cx="226.4" cy="56.4" r="0.68" fill="#3446b4"/><circle cx="235.1" cy="41.6" r="0.68" fill="#1e2a86"/><circle cx="231.0" cy="61.1" r="0.68" fill="#1e2a86"/><circle cx="240.9" cy="38.8" r="0.68" fill="#2c3ca8"/><circle cx="248.4" cy="40.8" r="0.68" fill="#3446b4"/><circle cx="236.6" cy="52.6" r="0.68" fill="#2636a0"/><circle cx="232.5" cy="42.0" r="0.68" fill="#4a5cc4"/><circle cx="234.6" cy="59.7" r="0.68" fill="#2636a0"/><circle cx="243.7" cy="37.1" r="0.68" fill="#3446b4"/><circle cx="245.1" cy="47.2" r="0.68" fill="#2636a0"/><circle cx="241.3" cy="49.1" r="0.68" fill="#1e2a86"/><circle cx="240.8" cy="42.3" r="0.68" fill="#4a5cc4"/><circle cx="233.7" cy="47.6" r="0.68" fill="#3446b4"/><circle cx="236.6" cy="55.0" r="0.68" fill="#2636a0"/><circle cx="232.0" cy="63.7" r="0.68" fill="#4a5cc4"/><circle cx="235.2" cy="47.7" r="0.68" fill="#1e2a86"/><circle cx="242.4" cy="51.1" r="0.68" fill="#2c3ca8"/><circle cx="236.8" cy="43.7" r="0.68" fill="#4a5cc4"/><circle cx="233.2" cy="41.8" r="0.68" fill="#3446b4"/><circle cx="244.8" cy="54.4" r="0.68" fill="#2c3ca8"/><circle cx="248.7" cy="48.7" r="0.68" fill="#3446b4"/><circle cx="240.4" cy="54.2" r="0.68" fill="#3446b4"/><circle cx="243.7" cy="45.9" r="0.68" fill="#4a5cc4"/><circle cx="240.5" cy="63.5" r="0.68" fill="#3446b4"/><circle cx="229.5" cy="44.8" r="0.68" fill="#1e2a86"/><circle cx="233.4" cy="57.4" r="0.68" fill="#4a5cc4"/><circle cx="245.0" cy="44.8" r="0.68" fill="#1e2a86"/><circle cx="242.2" cy="48.0" r="0.68" fill="#3446b4"/><circle cx="240.2" cy="45.6" r="0.68" fill="#1e2a86"/><circle cx="238.5" cy="50.0" r="0.68" fill="#2636a0"/><circle cx="244.7" cy="62.1" r="0.68" fill="#4a5cc4"/><circle cx="228.8" cy="58.1" r="0.68" fill="#3446b4"/><circle cx="238.6" cy="56.5" r="0.68" fill="#1e2a86"/><circle cx="244.3" cy="52.6" r="0.68" fill="#4a5cc4"/><circle cx="243.0" cy="41.6" r="0.68" fill="#2636a0"/><circle cx="229.4" cy="65.4" r="0.68" fill="#2c3ca8"/><circle cx="245.1" cy="40.6" r="0.68" fill="#1e2a86"/><circle cx="245.6" cy="51.2" r="0.68" fill="#3446b4"/><circle cx="225.4" cy="62.1" r="0.68" fill="#3446b4"/><circle cx="233.3" cy="60.2" r="0.68" fill="#2636a0"/><circle cx="234.9" cy="46.7" r="0.68" fill="#3446b4"/><circle cx="230.3" cy="52.4" r="0.68" fill="#2c3ca8"/><circle cx="244.1" cy="43.0" r="0.68" fill="#1e2a86"/><circle cx="228.6" cy="69.0" r="0.68" fill="#2c3ca8"/><circle cx="248.6" cy="50.0" r="0.68" fill="#4a5cc4"/><circle cx="235.7" cy="43.3" r="0.68" fill="#4a5cc4"/><circle cx="229.8" cy="57.8" r="0.68" fill="#2c3ca8"/><circle cx="245.6" cy="39.7" r="0.68" fill="#2c3ca8"/><circle cx="238.6" cy="48.1" r="0.68" fill="#4a5cc4"/><circle cx="237.2" cy="54.0" r="0.68" fill="#3446b4"/><circle cx="249.9" cy="40.5" r="0.68" fill="#1e2a86"/><circle cx="243.2" cy="55.2" r="0.68" fill="#3446b4"/><circle cx="237.1" cy="49.7" r="0.68" fill="#2c3ca8"/><circle cx="231.4" cy="60.6" r="0.68" fill="#2636a0"/><circle cx="235.7" cy="47.0" r="0.68" fill="#1e2a86"/><circle cx="239.0" cy="44.1" r="0.68" fill="#4a5cc4"/><circle cx="233.0" cy="50.6" r="0.68" fill="#3446b4"/><circle cx="246.6" cy="44.9" r="0.68" fill="#3446b4"/><circle cx="241.4" cy="38.9" r="0.68" fill="#2c3ca8"/><circle cx="228.1" cy="67.0" r="0.68" fill="#3446b4"/><circle cx="236.5" cy="40.7" r="0.68" fill="#2c3ca8"/><circle cx="238.0" cy="54.3" r="0.68" fill="#1e2a86"/><circle cx="229.3" cy="48.4" r="0.68" fill="#2636a0"/><circle cx="240.0" cy="43.2" r="0.68" fill="#3446b4"/><circle cx="242.9" cy="54.4" r="0.68" fill="#3446b4"/><circle cx="241.0" cy="46.0" r="0.68" fill="#4a5cc4"/><circle cx="238.3" cy="45.9" r="0.68" fill="#3446b4"/><circle cx="237.9" cy="52.5" r="0.68" fill="#2636a0"/><circle cx="237.0" cy="57.3" r="0.68" fill="#2c3ca8"/><circle cx="252.6" cy="39.9" r="0.68" fill="#4a5cc4"/><circle cx="240.5" cy="54.6" r="0.68" fill="#4a5cc4"/><circle cx="242.1" cy="46.8" r="0.68" fill="#1e2a86"/><circle cx="236.0" cy="57.9" r="0.68" fill="#2c3ca8"/><circle cx="242.0" cy="51.8" r="0.68" fill="#3446b4"/><circle cx="234.3" cy="56.2" r="0.68" fill="#3446b4"/><circle cx="242.9" cy="46.8" r="0.68" fill="#1e2a86"/><circle cx="242.1" cy="62.9" r="0.68" fill="#4a5cc4"/><circle cx="228.4" cy="58.8" r="0.68" fill="#2636a0"/><circle cx="232.3" cy="43.8" r="0.68" fill="#2636a0"/><circle cx="237.3" cy="54.2" r="0.68" fill="#4a5cc4"/><circle cx="238.9" cy="42.1" r="0.68" fill="#2636a0"/><circle cx="230.8" cy="49.9" r="0.68" fill="#2636a0"/><circle cx="238.7" cy="44.4" r="0.68" fill="#1e2a86"/><circle cx="230.5" cy="65.5" r="0.68" fill="#2636a0"/><circle cx="234.1" cy="51.1" r="0.68" fill="#1e2a86"/><circle cx="235.6" cy="47.4" r="0.68" fill="#3446b4"/><circle cx="238.8" cy="47.9" r="0.68" fill="#3446b4"/><circle cx="242.0" cy="40.5" r="0.68" fill="#4a5cc4"/><circle cx="230.5" cy="66.8" r="0.68" fill="#2636a0"/><circle cx="238.2" cy="55.3" r="0.68" fill="#2c3ca8"/><circle cx="245.0" cy="50.8" r="0.68" fill="#4a5cc4"/><circle cx="238.8" cy="39.5" r="0.68" fill="#1e2a86"/><circle cx="229.9" cy="60.6" r="0.68" fill="#2c3ca8"/><circle cx="242.3" cy="52.1" r="0.68" fill="#2c3ca8"/><circle cx="229.6" cy="39.8" r="0.68" fill="#2636a0"/><circle cx="232.9" cy="44.7" r="0.68" fill="#4a5cc4"/><circle cx="239.5" cy="42.7" r="0.68" fill="#3446b4"/><circle cx="247.2" cy="41.9" r="0.68" fill="#4a5cc4"/><circle cx="235.6" cy="57.2" r="0.68" fill="#2c3ca8"/><circle cx="240.4" cy="43.1" r="0.68" fill="#2c3ca8"/><circle cx="243.1" cy="60.9" r="0.68" fill="#1e2a86"/><circle cx="231.9" cy="51.4" r="0.68" fill="#2c3ca8"/><circle cx="232.8" cy="39.7" r="0.68" fill="#2c3ca8"/><circle cx="242.0" cy="53.1" r="0.68" fill="#3446b4"/><circle cx="243.9" cy="50.4" r="0.68" fill="#4a5cc4"/><circle cx="227.7" cy="54.9" r="0.68" fill="#2636a0"/><circle cx="235.0" cy="43.8" r="0.68" fill="#2c3ca8"/><circle cx="232.6" cy="57.9" r="0.68" fill="#1e2a86"/><circle cx="237.0" cy="64.0" r="0.68" fill="#2c3ca8"/><circle cx="241.2" cy="36.0" r="0.68" fill="#4a5cc4"/><circle cx="243.5" cy="56.2" r="0.68" fill="#3446b4"/><circle cx="238.8" cy="41.8" r="0.68" fill="#1e2a86"/><circle cx="248.2" cy="36.7" r="0.68" fill="#3446b4"/><circle cx="238.1" cy="37.4" r="0.68" fill="#4a5cc4"/><circle cx="231.8" cy="41.7" r="0.68" fill="#1e2a86"/><circle cx="244.5" cy="55.2" r="0.68" fill="#2c3ca8"/><circle cx="236.4" cy="41.9" r="0.68" fill="#1e2a86"/><circle cx="238.3" cy="52.7" r="0.68" fill="#2636a0"/><circle cx="230.3" cy="46.0" r="0.68" fill="#2636a0"/><circle cx="238.0" cy="55.0" r="0.68" fill="#2c3ca8"/><circle cx="239.0" cy="52.8" r="0.68" fill="#4a5cc4"/><circle cx="231.8" cy="36.3" r="0.68" fill="#3446b4"/><circle cx="240.3" cy="43.0" r="0.68" fill="#1e2a86"/><circle cx="237.9" cy="47.8" r="0.68" fill="#2636a0"/><circle cx="241.2" cy="43.6" r="0.68" fill="#4a5cc4"/><circle cx="246.5" cy="46.6" r="0.68" fill="#4a5cc4"/><circle cx="241.5" cy="52.9" r="0.68" fill="#1e2a86"/><circle cx="244.3" cy="50.1" r="0.68" fill="#3446b4"/><circle cx="229.0" cy="50.2" r="0.68" fill="#4a5cc4"/><circle cx="248.8" cy="48.5" r="0.68" fill="#1e2a86"/><circle cx="241.7" cy="51.7" r="0.68" fill="#3446b4"/><circle cx="235.1" cy="47.0" r="0.68" fill="#4a5cc4"/><circle cx="235.1" cy="59.5" r="0.68" fill="#2636a0"/><circle cx="240.6" cy="61.1" r="0.68" fill="#3446b4"/><circle cx="241.3" cy="61.6" r="0.68" fill="#2c3ca8"/><circle cx="241.1" cy="40.8" r="0.68" fill="#4a5cc4"/><circle cx="248.1" cy="47.9" r="0.68" fill="#4a5cc4"/><circle cx="245.1" cy="48.4" r="0.68" fill="#3446b4"/><circle cx="236.8" cy="52.0" r="0.68" fill="#3446b4"/><circle cx="232.4" cy="44.7" r="0.68" fill="#1e2a86"/><circle cx="233.7" cy="48.7" r="0.68" fill="#1e2a86"/><circle cx="231.2" cy="52.7" r="0.68" fill="#4a5cc4"/><circle cx="240.3" cy="63.0" r="0.68" fill="#4a5cc4"/><circle cx="248.7" cy="45.0" r="0.68" fill="#1e2a86"/><circle cx="243.5" cy="46.3" r="0.68" fill="#3446b4"/><circle cx="240.7" cy="48.8" r="0.68" fill="#3446b4"/><circle cx="235.6" cy="51.9" r="0.68" fill="#3446b4"/><circle cx="230.5" cy="56.8" r="0.68" fill="#1e2a86"/><circle cx="237.0" cy="43.4" r="0.68" fill="#2636a0"/><circle cx="236.6" cy="54.7" r="0.68" fill="#2636a0"/><circle cx="234.9" cy="55.0" r="0.68" fill="#2c3ca8"/><circle cx="241.7" cy="59.2" r="0.68" fill="#3446b4"/><circle cx="232.6" cy="52.0" r="0.68" fill="#4a5cc4"/><circle cx="241.4" cy="58.9" r="0.68" fill="#2c3ca8"/><circle cx="240.0" cy="54.5" r="0.68" fill="#4a5cc4"/><circle cx="230.5" cy="49.8" r="0.68" fill="#2636a0"/><circle cx="247.8" cy="43.8" r="0.68" fill="#4a5cc4"/><circle cx="250.5" cy="39.5" r="0.68" fill="#2c3ca8"/><circle cx="237.1" cy="39.8" r="0.68" fill="#4a5cc4"/><circle cx="242.1" cy="50.2" r="0.68" fill="#1e2a86"/><circle cx="249.7" cy="46.0" r="0.68" fill="#2c3ca8"/><circle cx="237.2" cy="41.0" r="0.68" fill="#2c3ca8"/><circle cx="238.1" cy="56.7" r="0.68" fill="#1e2a86"/><circle cx="242.7" cy="56.5" r="0.68" fill="#1e2a86"/><circle cx="243.4" cy="47.5" r="0.68" fill="#4a5cc4"/><circle cx="241.9" cy="49.6" r="0.68" fill="#1e2a86"/><circle cx="231.2" cy="65.1" r="0.68" fill="#3446b4"/><circle cx="240.7" cy="41.8" r="0.68" fill="#4a5cc4"/><circle cx="240.7" cy="51.0" r="0.68" fill="#2636a0"/><circle cx="244.1" cy="57.3" r="0.68" fill="#3446b4"/><circle cx="221.8" cy="61.6" r="0.68" fill="#4a5cc4"/><circle cx="247.1" cy="39.6" r="0.68" fill="#1e2a86"/><circle cx="228.3" cy="56.7" r="0.68" fill="#2636a0"/><circle cx="240.5" cy="51.5" r="0.68" fill="#1e2a86"/><circle cx="232.5" cy="49.6" r="0.68" fill="#2c3ca8"/><circle cx="239.7" cy="54.6" r="0.68" fill="#3446b4"/><circle cx="250.7" cy="46.4" r="0.68" fill="#3446b4"/><circle cx="235.3" cy="35.4" r="0.68" fill="#2c3ca8"/><circle cx="244.6" cy="46.3" r="0.68" fill="#3446b4"/><circle cx="238.0" cy="43.5" r="0.68" fill="#1e2a86"/><circle cx="242.7" cy="35.8" r="0.68" fill="#1e2a86"/><circle cx="239.2" cy="50.6" r="0.68" fill="#1e2a86"/><circle cx="240.3" cy="58.2" r="0.68" fill="#3446b4"/><circle cx="238.1" cy="50.9" r="0.68" fill="#2636a0"/><circle cx="243.4" cy="37.1" r="0.68" fill="#2c3ca8"/><circle cx="237.0" cy="51.2" r="0.68" fill="#4a5cc4"/><circle cx="243.9" cy="42.0" r="0.68" fill="#2c3ca8"/><circle cx="243.1" cy="50.6" r="0.68" fill="#2636a0"/><circle cx="230.3" cy="43.6" r="0.68" fill="#3446b4"/><circle cx="230.6" cy="54.6" r="0.68" fill="#2636a0"/><circle cx="239.7" cy="54.4" r="0.68" fill="#2c3ca8"/><circle cx="243.2" cy="44.1" r="0.68" fill="#2c3ca8"/><circle cx="244.5" cy="52.9" r="0.68" fill="#4a5cc4"/><circle cx="241.2" cy="52.1" r="0.68" fill="#2c3ca8"/><circle cx="231.4" cy="55.8" r="0.68" fill="#1e2a86"/><circle cx="232.9" cy="44.4" r="0.68" fill="#2636a0"/><circle cx="236.7" cy="51.9" r="0.68" fill="#2636a0"/><circle cx="238.3" cy="47.9" r="0.68" fill="#2636a0"/><circle cx="233.0" cy="53.9" r="0.68" fill="#3446b4"/><circle cx="234.5" cy="42.2" r="0.68" fill="#2636a0"/><circle cx="239.1" cy="59.8" r="0.68" fill="#3446b4"/><circle cx="236.3" cy="43.7" r="0.68" fill="#2636a0"/><circle cx="246.3" cy="58.2" r="0.68" fill="#3446b4"/><circle cx="237.0" cy="49.3" r="0.68" fill="#3446b4"/><circle cx="239.8" cy="69.8" r="0.68" fill="#3446b4"/><circle cx="239.3" cy="56.5" r="0.68" fill="#1e2a86"/><circle cx="241.1" cy="36.3" r="0.68" fill="#3446b4"/><circle cx="232.5" cy="44.3" r="0.68" fill="#2636a0"/><circle cx="241.0" cy="49.6" r="0.68" fill="#2636a0"/><circle cx="248.6" cy="43.5" r="0.68" fill="#2636a0"/><circle cx="240.3" cy="49.7" r="0.68" fill="#2636a0"/><circle cx="239.4" cy="65.6" r="0.68" fill="#2636a0"/><circle cx="240.2" cy="59.4" r="0.68" fill="#3446b4"/><circle cx="245.8" cy="42.5" r="0.68" fill="#3446b4"/><circle cx="242.4" cy="45.6" r="0.68" fill="#4a5cc4"/><circle cx="239.2" cy="50.8" r="0.68" fill="#1e2a86"/><circle cx="243.7" cy="39.4" r="0.68" fill="#2636a0"/><circle cx="251.4" cy="40.1" r="0.68" fill="#2c3ca8"/><circle cx="247.1" cy="46.9" r="0.68" fill="#1e2a86"/><circle cx="246.7" cy="44.6" r="0.68" fill="#1e2a86"/><circle cx="250.5" cy="44.8" r="0.68" fill="#1e2a86"/><circle cx="252.2" cy="36.0" r="0.68" fill="#4a5cc4"/><circle cx="253.4" cy="41.1" r="0.68" fill="#4a5cc4"/><circle cx="234.9" cy="38.8" r="0.68" fill="#1e2a86"/><circle cx="236.6" cy="40.9" r="0.68" fill="#1e2a86"/><circle cx="236.2" cy="37.5" r="0.68" fill="#2636a0"/><circle cx="245.1" cy="41.5" r="0.68" fill="#2636a0"/><circle cx="239.6" cy="40.2" r="0.68" fill="#1e2a86"/><circle cx="243.1" cy="41.3" r="0.68" fill="#3446b4"/><circle cx="243.6" cy="40.2" r="0.68" fill="#1e2a86"/><circle cx="248.0" cy="35.4" r="0.68" fill="#2636a0"/><circle cx="241.1" cy="41.5" r="0.68" fill="#2636a0"/><circle cx="241.6" cy="39.1" r="0.68" fill="#2c3ca8"/><circle cx="241.4" cy="41.7" r="0.68" fill="#2636a0"/><circle cx="249.8" cy="40.4" r="0.68" fill="#1e2a86"/><circle cx="242.3" cy="42.2" r="0.68" fill="#3446b4"/><circle cx="242.4" cy="34.2" r="0.68" fill="#1e2a86"/><circle cx="244.9" cy="39.7" r="0.68" fill="#1e2a86"/><circle cx="240.7" cy="43.2" r="0.68" fill="#2c3ca8"/><circle cx="243.8" cy="39.0" r="0.68" fill="#4a5cc4"/><circle cx="232.7" cy="35.0" r="0.68" fill="#3446b4"/><circle cx="243.7" cy="40.6" r="0.68" fill="#3446b4"/><circle cx="245.8" cy="41.8" r="0.68" fill="#2c3ca8"/><circle cx="241.2" cy="36.6" r="0.68" fill="#2c3ca8"/><circle cx="238.1" cy="40.5" r="0.68" fill="#2636a0"/><circle cx="237.9" cy="43.6" r="0.68" fill="#3446b4"/><circle cx="237.0" cy="34.7" r="0.68" fill="#4a5cc4"/><circle cx="242.6" cy="34.8" r="0.68" fill="#4a5cc4"/><circle cx="251.7" cy="37.5" r="0.68" fill="#1e2a86"/><circle cx="243.3" cy="40.1" r="0.68" fill="#2636a0"/><circle cx="239.5" cy="34.8" r="0.68" fill="#3446b4"/><circle cx="234.3" cy="44.0" r="0.68" fill="#1e2a86"/><circle cx="248.7" cy="48.6" r="0.68" fill="#2636a0"/><circle cx="236.3" cy="43.0" r="0.68" fill="#4a5cc4"/><circle cx="243.5" cy="44.0" r="0.68" fill="#2636a0"/><circle cx="241.0" cy="43.5" r="0.68" fill="#2636a0"/><circle cx="248.1" cy="43.1" r="0.68" fill="#2c3ca8"/><circle cx="250.8" cy="40.4" r="0.68" fill="#3446b4"/><circle cx="251.3" cy="38.5" r="0.68" fill="#3446b4"/><circle cx="251.9" cy="31.4" r="0.68" fill="#4a5cc4"/><circle cx="243.7" cy="38.2" r="0.68" fill="#4a5cc4"/><circle cx="243.6" cy="44.6" r="0.68" fill="#3446b4"/><circle cx="247.2" cy="41.3" r="0.68" fill="#2c3ca8"/><circle cx="252.1" cy="35.8" r="0.68" fill="#2636a0"/><circle cx="239.5" cy="46.3" r="0.68" fill="#4a5cc4"/><circle cx="245.2" cy="33.7" r="0.68" fill="#2c3ca8"/><circle cx="232.4" cy="54.7" r="0.68" fill="#4a5cc4"/><circle cx="232.5" cy="57.0" r="0.68" fill="#3446b4"/><circle cx="225.8" cy="59.7" r="0.68" fill="#2636a0"/><circle cx="226.7" cy="63.2" r="0.68" fill="#3446b4"/><circle cx="233.7" cy="57.7" r="0.68" fill="#2c3ca8"/><circle cx="232.1" cy="48.3" r="0.68" fill="#3446b4"/><circle cx="229.5" cy="66.3" r="0.68" fill="#2636a0"/><circle cx="235.6" cy="53.4" r="0.68" fill="#4a5cc4"/><circle cx="234.1" cy="55.9" r="0.68" fill="#3446b4"/><circle cx="230.0" cy="57.0" r="0.68" fill="#1e2a86"/><circle cx="233.1" cy="54.0" r="0.68" fill="#2c3ca8"/><circle cx="233.2" cy="62.9" r="0.68" fill="#4a5cc4"/><circle cx="229.5" cy="68.2" r="0.68" fill="#2c3ca8"/><circle cx="230.0" cy="55.4" r="0.68" fill="#2c3ca8"/><circle cx="231.6" cy="56.0" r="0.68" fill="#1e2a86"/><circle cx="229.3" cy="65.2" r="0.68" fill="#2636a0"/><circle cx="231.4" cy="61.7" r="0.68" fill="#2636a0"/><circle cx="234.6" cy="58.5" r="0.68" fill="#3446b4"/><circle cx="230.4" cy="60.9" r="0.68" fill="#2636a0"/><circle cx="228.5" cy="66.5" r="0.68" fill="#3446b4"/><circle cx="229.7" cy="57.4" r="0.68" fill="#2c3ca8"/><circle cx="230.8" cy="63.9" r="0.68" fill="#1e2a86"/><circle cx="237.3" cy="55.1" r="0.68" fill="#3446b4"/><circle cx="232.2" cy="60.0" r="0.68" fill="#4a5cc4"/><circle cx="232.6" cy="56.9" r="0.68" fill="#2c3ca8"/><circle cx="230.7" cy="62.7" r="0.68" fill="#3446b4"/><circle cx="230.0" cy="55.2" r="0.68" fill="#3446b4"/><circle cx="230.2" cy="64.2" r="0.68" fill="#3446b4"/><circle cx="232.3" cy="54.2" r="0.68" fill="#1e2a86"/><circle cx="232.1" cy="58.7" r="0.68" fill="#1e2a86"/><circle cx="222.9" cy="87.1" r="0.68" fill="#3446b4"/><circle cx="225.2" cy="89.3" r="0.68" fill="#3446b4"/><circle cx="229.9" cy="84.5" r="0.68" fill="#2636a0"/><circle cx="225.4" cy="85.8" r="0.68" fill="#3446b4"/><circle cx="227.6" cy="77.3" r="0.68" fill="#4a5cc4"/><circle cx="233.1" cy="72.2" r="0.68" fill="#1e2a86"/><circle cx="227.6" cy="85.9" r="0.68" fill="#1e2a86"/><circle cx="228.3" cy="77.6" r="0.68" fill="#4a5cc4"/></g>
<g><circle cx="227.5" cy="70.7" r="0.7" fill="#b8324a"/><circle cx="230.8" cy="67.6" r="0.7" fill="#b8324a"/><circle cx="229.1" cy="67.7" r="0.7" fill="#9a2c50"/><circle cx="227.6" cy="67.7" r="0.7" fill="#8a3a6a"/><circle cx="231.8" cy="64.8" r="0.7" fill="#8a3a6a"/><circle cx="227.5" cy="68.2" r="0.7" fill="#c0503a"/><circle cx="230.1" cy="68.5" r="0.7" fill="#c0503a"/><circle cx="227.0" cy="67.8" r="0.7" fill="#9a2c50"/><circle cx="228.2" cy="65.4" r="0.7" fill="#8a3a6a"/><circle cx="228.7" cy="66.6" r="0.7" fill="#8a3a6a"/><circle cx="230.1" cy="67.8" r="0.7" fill="#c0503a"/><circle cx="227.3" cy="68.1" r="0.7" fill="#c0503a"/><circle cx="228.0" cy="66.5" r="0.7" fill="#c0503a"/><circle cx="227.8" cy="69.8" r="0.7" fill="#8a3a6a"/><circle cx="227.9" cy="64.6" r="0.7" fill="#b8324a"/><circle cx="227.3" cy="69.5" r="0.7" fill="#9a2c50"/><circle cx="232.2" cy="64.3" r="0.7" fill="#c0503a"/><circle cx="228.0" cy="67.1" r="0.7" fill="#b8324a"/><circle cx="226.3" cy="69.1" r="0.7" fill="#9a2c50"/><circle cx="228.5" cy="68.0" r="0.7" fill="#8a3a6a"/><circle cx="232.3" cy="65.7" r="0.7" fill="#c0503a"/><circle cx="229.9" cy="68.6" r="0.7" fill="#9a2c50"/><circle cx="227.5" cy="66.8" r="0.7" fill="#9a2c50"/><circle cx="231.2" cy="67.9" r="0.7" fill="#c0503a"/><circle cx="228.8" cy="65.4" r="0.7" fill="#9a2c50"/><circle cx="230.1" cy="68.0" r="0.7" fill="#c0503a"/><circle cx="232.2" cy="69.0" r="0.7" fill="#8a3a6a"/><circle cx="229.9" cy="67.5" r="0.7" fill="#b8324a"/><circle cx="228.7" cy="66.4" r="0.7" fill="#b8324a"/><circle cx="229.1" cy="67.8" r="0.7" fill="#c0503a"/><circle cx="229.7" cy="69.1" r="0.7" fill="#9a2c50"/><circle cx="229.1" cy="66.3" r="0.7" fill="#b8324a"/><circle cx="229.9" cy="69.9" r="0.7" fill="#9a2c50"/><circle cx="227.2" cy="68.8" r="0.7" fill="#b8324a"/><circle cx="229.5" cy="68.2" r="0.7" fill="#b8324a"/></g>
<rect x="202.60" y="29.90" width="52.60" height="78.10" fill="none" stroke="#7a7a7a" stroke-width="1.25"/>
<line x1="227.60" y1="29.90" x2="227.60" y2="108.00" stroke="#5a5a5a" stroke-width="0.9"/>
<line x1="202.60" y1="69.20" x2="255.20" y2="69.20" stroke="#5a5a5a" stroke-width="0.9"/>
<line x1="200.00" y1="42.40" x2="202.60" y2="42.40" stroke="#222" stroke-width="0.9"/>
<text x="198.00" y="44.70" font-size="6.6" fill="#333" stroke="#333" stroke-width="0.22" text-anchor="end">10<tspan font-size="3.96" dy="-2.77">6</tspan></text>
<line x1="200.00" y1="59.80" x2="202.60" y2="59.80" stroke="#222" stroke-width="0.9"/>
<text x="198.00" y="62.10" font-size="6.6" fill="#333" stroke="#333" stroke-width="0.22" text-anchor="end">10<tspan font-size="3.96" dy="-2.77">5</tspan></text>
<line x1="200.00" y1="80.50" x2="202.60" y2="80.50" stroke="#222" stroke-width="0.9"/>
<text x="198.00" y="82.80" font-size="6.6" fill="#333" stroke="#333" stroke-width="0.22" text-anchor="end">10<tspan font-size="3.96" dy="-2.77">4</tspan></text>
<line x1="200.00" y1="91.30" x2="202.60" y2="91.30" stroke="#222" stroke-width="0.9"/>
<rect x="201.00" y="89.90" width="1.60" height="2.80" fill="#111"/>
<text x="197.20" y="93.60" font-size="6.6" fill="#333" text-anchor="end" stroke="#333" stroke-width="0.22">0</text>
<line x1="200.00" y1="102.30" x2="202.60" y2="102.30" stroke="#222" stroke-width="0.9"/>
<text x="198.00" y="104.60" font-size="6.6" fill="#333" stroke="#333" stroke-width="0.22" text-anchor="end">−10<tspan font-size="3.96" dy="-2.77">4</tspan></text>
<line x1="201.30" y1="33.00" x2="202.60" y2="33.00" stroke="#444" stroke-width="0.6"/>
<line x1="201.30" y1="36.00" x2="202.60" y2="36.00" stroke="#444" stroke-width="0.6"/>
<line x1="201.30" y1="38.50" x2="202.60" y2="38.50" stroke="#444" stroke-width="0.6"/>
<line x1="201.30" y1="47.00" x2="202.60" y2="47.00" stroke="#444" stroke-width="0.6"/>
<line x1="201.30" y1="50.00" x2="202.60" y2="50.00" stroke="#444" stroke-width="0.6"/>
<line x1="201.30" y1="53.00" x2="202.60" y2="53.00" stroke="#444" stroke-width="0.6"/>
<line x1="201.30" y1="56.00" x2="202.60" y2="56.00" stroke="#444" stroke-width="0.6"/>
<line x1="201.30" y1="64.00" x2="202.60" y2="64.00" stroke="#444" stroke-width="0.6"/>
<line x1="201.30" y1="67.00" x2="202.60" y2="67.00" stroke="#444" stroke-width="0.6"/>
<line x1="201.30" y1="70.00" x2="202.60" y2="70.00" stroke="#444" stroke-width="0.6"/>
<line x1="201.30" y1="73.00" x2="202.60" y2="73.00" stroke="#444" stroke-width="0.6"/>
<line x1="201.30" y1="76.00" x2="202.60" y2="76.00" stroke="#444" stroke-width="0.6"/>
<line x1="201.30" y1="84.00" x2="202.60" y2="84.00" stroke="#444" stroke-width="0.6"/>
<line x1="201.30" y1="86.00" x2="202.60" y2="86.00" stroke="#444" stroke-width="0.6"/>
<line x1="201.30" y1="88.00" x2="202.60" y2="88.00" stroke="#444" stroke-width="0.6"/>
<line x1="201.30" y1="94.00" x2="202.60" y2="94.00" stroke="#444" stroke-width="0.6"/>
<line x1="201.30" y1="96.00" x2="202.60" y2="96.00" stroke="#444" stroke-width="0.6"/>
<line x1="201.30" y1="98.00" x2="202.60" y2="98.00" stroke="#444" stroke-width="0.6"/>
<line x1="201.30" y1="100.00" x2="202.60" y2="100.00" stroke="#444" stroke-width="0.6"/>
<line x1="205.00" y1="108.00" x2="205.00" y2="109.60" stroke="#222" stroke-width="0.7"/>
<line x1="206.00" y1="108.00" x2="206.00" y2="109.60" stroke="#222" stroke-width="0.7"/>
<line x1="207.00" y1="108.00" x2="207.00" y2="109.60" stroke="#222" stroke-width="0.7"/>
<line x1="209.20" y1="108.00" x2="209.20" y2="109.60" stroke="#222" stroke-width="0.7"/>
<line x1="210.20" y1="108.00" x2="210.20" y2="109.60" stroke="#222" stroke-width="0.7"/>
<line x1="211.20" y1="108.00" x2="211.20" y2="109.60" stroke="#222" stroke-width="0.7"/>
<line x1="213.20" y1="108.00" x2="213.20" y2="109.60" stroke="#222" stroke-width="0.7"/>
<line x1="216.00" y1="108.00" x2="216.00" y2="109.60" stroke="#222" stroke-width="0.7"/>
<line x1="218.60" y1="108.00" x2="218.60" y2="109.60" stroke="#222" stroke-width="0.7"/>
<line x1="221.20" y1="108.00" x2="221.20" y2="109.60" stroke="#222" stroke-width="0.7"/>
<line x1="231.50" y1="108.00" x2="231.50" y2="110.40" stroke="#222" stroke-width="0.9"/>
<line x1="245.40" y1="108.00" x2="245.40" y2="110.40" stroke="#222" stroke-width="0.9"/>
<line x1="224.60" y1="108.00" x2="224.60" y2="109.10" stroke="#555" stroke-width="0.5"/>
<line x1="227.10" y1="108.00" x2="227.10" y2="109.10" stroke="#555" stroke-width="0.5"/>
<line x1="235.60" y1="108.00" x2="235.60" y2="109.10" stroke="#555" stroke-width="0.5"/>
<line x1="238.60" y1="108.00" x2="238.60" y2="109.10" stroke="#555" stroke-width="0.5"/>
<line x1="241.60" y1="108.00" x2="241.60" y2="109.10" stroke="#555" stroke-width="0.5"/>
<line x1="248.60" y1="108.00" x2="248.60" y2="109.10" stroke="#555" stroke-width="0.5"/>
<line x1="251.60" y1="108.00" x2="251.60" y2="109.10" stroke="#555" stroke-width="0.5"/>
<text x="212.60" y="119.90" font-size="6.4" fill="#333" text-anchor="middle" stroke="#333" stroke-width="0.22">0</text>
<text x="232.40" y="119.90" font-size="6.4" fill="#333" stroke="#333" stroke-width="0.22" text-anchor="middle">10<tspan font-size="3.84" dy="-2.69">5</tspan></text>
<text x="246.40" y="119.90" font-size="6.4" fill="#333" stroke="#333" stroke-width="0.22" text-anchor="middle">10<tspan font-size="3.84" dy="-2.69">6</tspan></text>
<text x="309.10" y="23.90" font-size="6.8" fill="#333" text-anchor="middle" stroke="#333" stroke-width="0.22" textLength="27.7" lengthAdjust="spacingAndGlyphs">shSBNO2</text>
<g><circle cx="308.6" cy="72.2" r="0.68" fill="#4a5cc4"/><circle cx="308.8" cy="72.7" r="0.68" fill="#2c3ca8"/><circle cx="303.2" cy="79.2" r="0.68" fill="#2c3ca8"/><circle cx="302.2" cy="86.1" r="0.68" fill="#4a5cc4"/><circle cx="302.0" cy="74.0" r="0.68" fill="#1e2a86"/><circle cx="308.5" cy="76.3" r="0.68" fill="#3446b4"/><circle cx="312.1" cy="70.8" r="0.68" fill="#4a5cc4"/><circle cx="308.9" cy="70.4" r="0.68" fill="#4a5cc4"/><circle cx="304.5" cy="75.9" r="0.68" fill="#3446b4"/><circle cx="300.0" cy="81.0" r="0.68" fill="#2636a0"/><circle cx="306.8" cy="74.0" r="0.68" fill="#2c3ca8"/><circle cx="310.1" cy="69.6" r="0.68" fill="#3446b4"/><circle cx="310.1" cy="66.0" r="0.68" fill="#4a5cc4"/><circle cx="311.1" cy="74.6" r="0.68" fill="#2c3ca8"/><circle cx="304.4" cy="75.5" r="0.68" fill="#3446b4"/><circle cx="309.4" cy="67.4" r="0.68" fill="#2c3ca8"/><circle cx="301.8" cy="81.5" r="0.68" fill="#2c3ca8"/><circle cx="301.2" cy="82.3" r="0.68" fill="#2636a0"/><circle cx="308.9" cy="71.9" r="0.68" fill="#2636a0"/><circle cx="301.0" cy="81.1" r="0.68" fill="#1e2a86"/><circle cx="302.3" cy="78.4" r="0.68" fill="#4a5cc4"/><circle cx="309.4" cy="71.3" r="0.68" fill="#2636a0"/><circle cx="305.6" cy="70.4" r="0.68" fill="#2636a0"/><circle cx="306.6" cy="75.9" r="0.68" fill="#1e2a86"/><circle cx="308.5" cy="76.3" r="0.68" fill="#4a5cc4"/><circle cx="306.8" cy="70.4" r="0.68" fill="#3446b4"/><circle cx="306.9" cy="75.0" r="0.68" fill="#3446b4"/><circle cx="301.4" cy="81.7" r="0.68" fill="#4a5cc4"/><circle cx="310.1" cy="67.7" r="0.68" fill="#3446b4"/><circle cx="312.6" cy="69.9" r="0.68" fill="#1e2a86"/><circle cx="304.5" cy="74.7" r="0.68" fill="#4a5cc4"/><circle cx="297.7" cy="81.5" r="0.68" fill="#3446b4"/><circle cx="307.8" cy="72.4" r="0.68" fill="#3446b4"/><circle cx="308.7" cy="70.6" r="0.68" fill="#4a5cc4"/><circle cx="311.8" cy="69.7" r="0.68" fill="#2636a0"/><circle cx="303.2" cy="73.1" r="0.68" fill="#1e2a86"/><circle cx="301.9" cy="82.1" r="0.68" fill="#2636a0"/><circle cx="309.1" cy="74.5" r="0.68" fill="#4a5cc4"/><circle cx="305.1" cy="74.8" r="0.68" fill="#4a5cc4"/><circle cx="313.0" cy="68.7" r="0.68" fill="#1e2a86"/><circle cx="310.5" cy="75.2" r="0.68" fill="#2c3ca8"/><circle cx="306.4" cy="70.9" r="0.68" fill="#2c3ca8"/><circle cx="305.4" cy="77.3" r="0.68" fill="#3446b4"/><circle cx="296.4" cy="83.1" r="0.68" fill="#1e2a86"/><circle cx="312.2" cy="68.9" r="0.68" fill="#2636a0"/><circle cx="309.2" cy="68.6" r="0.68" fill="#3446b4"/><circle cx="307.7" cy="71.7" r="0.68" fill="#2636a0"/><circle cx="306.6" cy="75.8" r="0.68" fill="#2636a0"/><circle cx="302.6" cy="76.8" r="0.68" fill="#1e2a86"/><circle cx="303.2" cy="82.1" r="0.68" fill="#2636a0"/><circle cx="307.9" cy="70.9" r="0.68" fill="#1e2a86"/><circle cx="301.8" cy="79.4" r="0.68" fill="#1e2a86"/><circle cx="307.8" cy="73.4" r="0.68" fill="#2c3ca8"/><circle cx="305.9" cy="71.2" r="0.68" fill="#3446b4"/><circle cx="307.5" cy="70.9" r="0.68" fill="#2636a0"/><circle cx="309.8" cy="70.2" r="0.68" fill="#2636a0"/><circle cx="309.5" cy="69.2" r="0.68" fill="#2636a0"/><circle cx="302.0" cy="79.5" r="0.68" fill="#1e2a86"/><circle cx="299.1" cy="82.0" r="0.68" fill="#2636a0"/><circle cx="309.1" cy="71.0" r="0.68" fill="#1e2a86"/><circle cx="303.3" cy="80.8" r="0.68" fill="#3446b4"/><circle cx="303.5" cy="76.0" r="0.68" fill="#2c3ca8"/><circle cx="302.3" cy="81.8" r="0.68" fill="#4a5cc4"/><circle cx="301.5" cy="82.7" r="0.68" fill="#2c3ca8"/><circle cx="300.2" cy="80.9" r="0.68" fill="#4a5cc4"/><circle cx="305.8" cy="68.8" r="0.68" fill="#2636a0"/><circle cx="306.2" cy="78.7" r="0.68" fill="#2636a0"/><circle cx="302.3" cy="81.9" r="0.68" fill="#2c3ca8"/><circle cx="309.8" cy="72.2" r="0.68" fill="#4a5cc4"/><circle cx="302.5" cy="78.9" r="0.68" fill="#1e2a86"/><circle cx="306.8" cy="73.5" r="0.68" fill="#4a5cc4"/><circle cx="309.3" cy="70.0" r="0.68" fill="#4a5cc4"/><circle cx="309.1" cy="68.5" r="0.68" fill="#4a5cc4"/><circle cx="308.8" cy="72.8" r="0.68" fill="#2636a0"/><circle cx="304.2" cy="79.2" r="0.68" fill="#4a5cc4"/><circle cx="306.9" cy="68.4" r="0.68" fill="#3446b4"/><circle cx="299.3" cy="84.2" r="0.68" fill="#4a5cc4"/><circle cx="306.2" cy="69.6" r="0.68" fill="#3446b4"/><circle cx="306.3" cy="77.4" r="0.68" fill="#1e2a86"/><circle cx="305.0" cy="78.2" r="0.68" fill="#4a5cc4"/><circle cx="310.0" cy="69.1" r="0.68" fill="#4a5cc4"/><circle cx="301.5" cy="78.8" r="0.68" fill="#4a5cc4"/><circle cx="305.7" cy="76.7" r="0.68" fill="#2c3ca8"/><circle cx="308.6" cy="74.0" r="0.68" fill="#2c3ca8"/><circle cx="304.4" cy="77.8" r="0.68" fill="#1e2a86"/><circle cx="307.1" cy="72.5" r="0.68" fill="#2636a0"/><circle cx="302.8" cy="79.0" r="0.68" fill="#2c3ca8"/><circle cx="308.4" cy="69.0" r="0.68" fill="#2636a0"/><circle cx="304.4" cy="77.3" r="0.68" fill="#4a5cc4"/><circle cx="308.9" cy="73.0" r="0.68" fill="#1e2a86"/><circle cx="301.4" cy="81.5" r="0.68" fill="#3446b4"/><circle cx="304.3" cy="80.5" r="0.68" fill="#3446b4"/><circle cx="307.3" cy="67.8" r="0.68" fill="#4a5cc4"/><circle cx="306.1" cy="67.4" r="0.68" fill="#4a5cc4"/><circle cx="303.2" cy="81.1" r="0.68" fill="#2c3ca8"/><circle cx="302.4" cy="76.6" r="0.68" fill="#1e2a86"/><circle cx="307.8" cy="79.8" r="0.68" fill="#1e2a86"/><circle cx="303.8" cy="68.7" r="0.68" fill="#3446b4"/><circle cx="301.8" cy="83.3" r="0.68" fill="#2c3ca8"/><circle cx="299.9" cy="80.4" r="0.68" fill="#2c3ca8"/><circle cx="302.2" cy="82.8" r="0.68" fill="#3446b4"/><circle cx="304.3" cy="69.4" r="0.68" fill="#4a5cc4"/><circle cx="306.3" cy="77.6" r="0.68" fill="#3446b4"/><circle cx="304.5" cy="78.9" r="0.68" fill="#1e2a86"/><circle cx="313.8" cy="68.3" r="0.68" fill="#3446b4"/><circle cx="302.7" cy="81.8" r="0.68" fill="#2636a0"/><circle cx="304.0" cy="77.4" r="0.68" fill="#2c3ca8"/><circle cx="305.7" cy="74.8" r="0.68" fill="#2636a0"/><circle cx="305.7" cy="74.2" r="0.68" fill="#4a5cc4"/><circle cx="307.1" cy="74.7" r="0.68" fill="#2636a0"/><circle cx="300.1" cy="81.2" r="0.68" fill="#2636a0"/><circle cx="311.6" cy="68.9" r="0.68" fill="#2c3ca8"/><circle cx="302.8" cy="83.0" r="0.68" fill="#4a5cc4"/><circle cx="311.3" cy="72.9" r="0.68" fill="#1e2a86"/><circle cx="308.4" cy="71.3" r="0.68" fill="#2c3ca8"/><circle cx="306.2" cy="72.7" r="0.68" fill="#4a5cc4"/><circle cx="306.1" cy="72.6" r="0.68" fill="#2636a0"/><circle cx="314.9" cy="67.4" r="0.68" fill="#2636a0"/><circle cx="306.1" cy="75.7" r="0.68" fill="#2636a0"/><circle cx="306.1" cy="77.3" r="0.68" fill="#4a5cc4"/><circle cx="311.3" cy="65.8" r="0.68" fill="#1e2a86"/><circle cx="306.2" cy="75.9" r="0.68" fill="#2c3ca8"/><circle cx="302.3" cy="78.7" r="0.68" fill="#2636a0"/><circle cx="307.8" cy="70.3" r="0.68" fill="#4a5cc4"/><circle cx="314.1" cy="71.5" r="0.68" fill="#1e2a86"/><circle cx="310.4" cy="74.5" r="0.68" fill="#3446b4"/><circle cx="308.6" cy="73.2" r="0.68" fill="#4a5cc4"/><circle cx="305.7" cy="76.5" r="0.68" fill="#2636a0"/><circle cx="309.8" cy="72.4" r="0.68" fill="#2636a0"/><circle cx="303.1" cy="80.2" r="0.68" fill="#2636a0"/><circle cx="307.9" cy="75.5" r="0.68" fill="#3446b4"/><circle cx="309.1" cy="74.8" r="0.68" fill="#2c3ca8"/><circle cx="308.6" cy="75.2" r="0.68" fill="#3446b4"/><circle cx="300.2" cy="82.5" r="0.68" fill="#2636a0"/><circle cx="312.4" cy="68.9" r="0.68" fill="#2636a0"/><circle cx="307.6" cy="71.5" r="0.68" fill="#2c3ca8"/><circle cx="306.5" cy="74.9" r="0.68" fill="#3446b4"/><circle cx="309.4" cy="68.9" r="0.68" fill="#2c3ca8"/><circle cx="310.1" cy="74.3" r="0.68" fill="#2c3ca8"/><circle cx="303.5" cy="82.5" r="0.68" fill="#2636a0"/><circle cx="314.3" cy="45.9" r="0.68" fill="#3446b4"/><circle cx="311.5" cy="45.2" r="0.68" fill="#1e2a86"/><circle cx="314.4" cy="64.4" r="0.68" fill="#4a5cc4"/><circle cx="319.5" cy="50.1" r="0.68" fill="#4a5cc4"/><circle cx="322.1" cy="55.3" r="0.68" fill="#1e2a86"/><circle cx="315.4" cy="48.4" r="0.68" fill="#2c3ca8"/><circle cx="309.4" cy="53.7" r="0.68" fill="#3446b4"/><circle cx="312.9" cy="38.1" r="0.68" fill="#1e2a86"/><circle cx="308.5" cy="67.2" r="0.68" fill="#2636a0"/><circle cx="315.4" cy="53.6" r="0.68" fill="#2c3ca8"/><circle cx="315.3" cy="46.0" r="0.68" fill="#2636a0"/><circle cx="316.5" cy="57.8" r="0.68" fill="#2c3ca8"/><circle cx="313.0" cy="54.5" r="0.68" fill="#4a5cc4"/><circle cx="319.1" cy="44.6" r="0.68" fill="#1e2a86"/><circle cx="315.2" cy="43.9" r="0.68" fill="#2c3ca8"/><circle cx="317.2" cy="46.1" r="0.68" fill="#2636a0"/><circle cx="319.7" cy="42.2" r="0.68" fill="#2636a0"/><circle cx="322.2" cy="44.9" r="0.68" fill="#2636a0"/><circle cx="310.5" cy="44.3" r="0.68" fill="#4a5cc4"/><circle cx="317.4" cy="42.2" r="0.68" fill="#2636a0"/><circle cx="322.7" cy="57.2" r="0.68" fill="#2c3ca8"/><circle cx="316.8" cy="38.0" r="0.68" fill="#3446b4"/><circle cx="314.3" cy="44.3" r="0.68" fill="#2c3ca8"/><circle cx="306.1" cy="56.2" r="0.68" fill="#1e2a86"/><circle cx="324.5" cy="42.3" r="0.68" fill="#4a5cc4"/><circle cx="318.1" cy="58.8" r="0.68" fill="#1e2a86"/><circle cx="310.0" cy="48.9" r="0.68" fill="#3446b4"/><circle cx="315.6" cy="53.3" r="0.68" fill="#2c3ca8"/><circle cx="309.1" cy="53.5" r="0.68" fill="#4a5cc4"/><circle cx="313.9" cy="57.6" r="0.68" fill="#2636a0"/><circle cx="307.1" cy="48.1" r="0.68" fill="#1e2a86"/><circle cx="312.1" cy="48.3" r="0.68" fill="#4a5cc4"/><circle cx="317.7" cy="43.9" r="0.68" fill="#2c3ca8"/><circle cx="327.0" cy="40.1" r="0.68" fill="#1e2a86"/><circle cx="318.3" cy="56.7" r="0.68" fill="#1e2a86"/><circle cx="318.8" cy="46.9" r="0.68" fill="#2c3ca8"/><circle cx="310.6" cy="49.3" r="0.68" fill="#1e2a86"/><circle cx="317.5" cy="49.9" r="0.68" fill="#2c3ca8"/><circle cx="317.1" cy="53.6" r="0.68" fill="#2636a0"/><circle cx="310.3" cy="44.1" r="0.68" fill="#2636a0"/><circle cx="321.0" cy="43.9" r="0.68" fill="#2c3ca8"/><circle cx="307.1" cy="67.1" r="0.68" fill="#4a5cc4"/><circle cx="310.6" cy="44.0" r="0.68" fill="#1e2a86"/><circle cx="318.9" cy="39.6" r="0.68" fill="#3446b4"/><circle cx="310.4" cy="59.6" r="0.68" fill="#1e2a86"/><circle cx="310.6" cy="71.0" r="0.68" fill="#2636a0"/><circle cx="314.8" cy="70.9" r="0.68" fill="#1e2a86"/><circle cx="315.0" cy="50.2" r="0.68" fill="#2c3ca8"/><circle cx="311.5" cy="49.3" r="0.68" fill="#2c3ca8"/><circle cx="312.1" cy="50.6" r="0.68" fill="#1e2a86"/><circle cx="318.0" cy="38.8" r="0.68" fill="#1e2a86"/><circle cx="310.2" cy="35.1" r="0.68" fill="#1e2a86"/><circle cx="321.3" cy="47.0" r="0.68" fill="#3446b4"/><circle cx="314.3" cy="49.6" r="0.68" fill="#4a5cc4"/><circle cx="319.0" cy="50.9" r="0.68" fill="#2c3ca8"/><circle cx="318.3" cy="47.3" r="0.68" fill="#1e2a86"/><circle cx="313.8" cy="49.8" r="0.68" fill="#2c3ca8"/><circle cx="305.8" cy="61.5" r="0.68" fill="#2c3ca8"/><circle cx="307.1" cy="44.7" r="0.68" fill="#3446b4"/><circle cx="317.5" cy="49.4" r="0.68" fill="#4a5cc4"/><circle cx="318.1" cy="62.1" r="0.68" fill="#4a5cc4"/><circle cx="323.0" cy="57.9" r="0.68" fill="#1e2a86"/><circle cx="313.4" cy="66.4" r="0.68" fill="#2c3ca8"/><circle cx="310.4" cy="50.7" r="0.68" fill="#3446b4"/><circle cx="319.0" cy="46.7" r="0.68" fill="#3446b4"/><circle cx="313.8" cy="47.4" r="0.68" fill="#2c3ca8"/><circle cx="320.3" cy="56.3" r="0.68" fill="#3446b4"/><circle cx="314.1" cy="54.5" r="0.68" fill="#2c3ca8"/><circle cx="309.9" cy="60.2" r="0.68" fill="#2636a0"/><circle cx="328.5" cy="37.9" r="0.68" fill="#2636a0"/><circle cx="320.8" cy="47.3" r="0.68" fill="#1e2a86"/><circle cx="312.8" cy="46.7" r="0.68" fill="#3446b4"/><circle cx="313.5" cy="40.5" r="0.68" fill="#1e2a86"/><circle cx="308.2" cy="65.2" r="0.68" fill="#1e2a86"/><circle cx="314.3" cy="54.4" r="0.68" fill="#2c3ca8"/><circle cx="315.8" cy="53.2" r="0.68" fill="#3446b4"/><circle cx="307.4" cy="45.0" r="0.68" fill="#4a5cc4"/><circle cx="317.3" cy="56.8" r="0.68" fill="#4a5cc4"/><circle cx="309.1" cy="47.3" r="0.68" fill="#3446b4"/><circle cx="309.5" cy="56.8" r="0.68" fill="#2636a0"/><circle cx="316.0" cy="49.7" r="0.68" fill="#1e2a86"/><circle cx="311.4" cy="53.7" r="0.68" fill="#2636a0"/><circle cx="314.5" cy="44.1" r="0.68" fill="#3446b4"/><circle cx="315.9" cy="44.3" r="0.68" fill="#4a5cc4"/><circle cx="318.8" cy="53.4" r="0.68" fill="#2c3ca8"/><circle cx="311.2" cy="55.7" r="0.68" fill="#4a5cc4"/><circle cx="314.7" cy="44.4" r="0.68" fill="#2636a0"/><circle cx="310.2" cy="38.4" r="0.68" fill="#3446b4"/><circle cx="309.2" cy="54.5" r="0.68" fill="#4a5cc4"/><circle cx="320.0" cy="43.1" r="0.68" fill="#4a5cc4"/><circle cx="315.1" cy="52.4" r="0.68" fill="#4a5cc4"/><circle cx="318.0" cy="52.2" r="0.68" fill="#3446b4"/><circle cx="320.0" cy="54.0" r="0.68" fill="#1e2a86"/><circle cx="310.9" cy="54.3" r="0.68" fill="#2c3ca8"/><circle cx="303.6" cy="52.3" r="0.68" fill="#1e2a86"/><circle cx="314.5" cy="54.5" r="0.68" fill="#4a5cc4"/><circle cx="313.0" cy="57.0" r="0.68" fill="#2c3ca8"/><circle cx="320.5" cy="41.3" r="0.68" fill="#4a5cc4"/><circle cx="311.9" cy="52.9" r="0.68" fill="#2c3ca8"/><circle cx="316.7" cy="50.3" r="0.68" fill="#4a5cc4"/><circle cx="318.2" cy="39.4" r="0.68" fill="#3446b4"/><circle cx="318.0" cy="57.9" r="0.68" fill="#4a5cc4"/><circle cx="319.5" cy="51.6" r="0.68" fill="#3446b4"/><circle cx="313.3" cy="53.5" r="0.68" fill="#2c3ca8"/><circle cx="314.1" cy="37.7" r="0.68" fill="#1e2a86"/><circle cx="311.6" cy="50.7" r="0.68" fill="#2c3ca8"/><circle cx="312.0" cy="43.5" r="0.68" fill="#4a5cc4"/><circle cx="313.3" cy="47.5" r="0.68" fill="#2636a0"/><circle cx="314.7" cy="49.5" r="0.68" fill="#2636a0"/><circle cx="315.2" cy="57.5" r="0.68" fill="#3446b4"/><circle cx="315.0" cy="53.0" r="0.68" fill="#2636a0"/><circle cx="312.6" cy="55.9" r="0.68" fill="#2c3ca8"/><circle cx="312.8" cy="45.7" r="0.68" fill="#3446b4"/><circle cx="308.7" cy="59.0" r="0.68" fill="#1e2a86"/><circle cx="312.0" cy="52.8" r="0.68" fill="#1e2a86"/><circle cx="319.6" cy="52.4" r="0.68" fill="#4a5cc4"/><circle cx="324.7" cy="45.4" r="0.68" fill="#4a5cc4"/><circle cx="318.8" cy="53.9" r="0.68" fill="#1e2a86"/><circle cx="311.4" cy="51.4" r="0.68" fill="#1e2a86"/><circle cx="311.8" cy="42.9" r="0.68" fill="#2c3ca8"/><circle cx="315.8" cy="43.4" r="0.68" fill="#1e2a86"/><circle cx="322.1" cy="41.5" r="0.68" fill="#3446b4"/><circle cx="311.9" cy="51.6" r="0.68" fill="#2c3ca8"/><circle cx="312.0" cy="51.2" r="0.68" fill="#3446b4"/><circle cx="311.6" cy="39.8" r="0.68" fill="#3446b4"/><circle cx="303.3" cy="43.7" r="0.68" fill="#2636a0"/><circle cx="321.4" cy="51.0" r="0.68" fill="#3446b4"/><circle cx="315.1" cy="46.1" r="0.68" fill="#2c3ca8"/><circle cx="313.7" cy="52.6" r="0.68" fill="#2c3ca8"/><circle cx="308.0" cy="46.0" r="0.68" fill="#3446b4"/><circle cx="310.3" cy="61.3" r="0.68" fill="#4a5cc4"/><circle cx="309.5" cy="60.9" r="0.68" fill="#1e2a86"/><circle cx="312.3" cy="72.1" r="0.68" fill="#2636a0"/><circle cx="314.0" cy="50.4" r="0.68" fill="#2c3ca8"/><circle cx="320.6" cy="54.7" r="0.68" fill="#3446b4"/><circle cx="318.7" cy="40.1" r="0.68" fill="#3446b4"/><circle cx="319.6" cy="61.4" r="0.68" fill="#2c3ca8"/><circle cx="313.9" cy="46.4" r="0.68" fill="#3446b4"/><circle cx="309.4" cy="59.7" r="0.68" fill="#1e2a86"/><circle cx="315.8" cy="49.6" r="0.68" fill="#1e2a86"/><circle cx="308.7" cy="64.7" r="0.68" fill="#1e2a86"/><circle cx="318.4" cy="48.4" r="0.68" fill="#2636a0"/><circle cx="321.2" cy="40.2" r="0.68" fill="#1e2a86"/><circle cx="318.5" cy="40.8" r="0.68" fill="#3446b4"/><circle cx="320.9" cy="45.6" r="0.68" fill="#4a5cc4"/><circle cx="320.0" cy="44.8" r="0.68" fill="#2636a0"/><circle cx="316.2" cy="58.3" r="0.68" fill="#4a5cc4"/><circle cx="310.3" cy="52.2" r="0.68" fill="#3446b4"/><circle cx="310.5" cy="58.0" r="0.68" fill="#4a5cc4"/><circle cx="311.6" cy="48.0" r="0.68" fill="#4a5cc4"/><circle cx="313.5" cy="59.5" r="0.68" fill="#2636a0"/><circle cx="309.6" cy="51.5" r="0.68" fill="#4a5cc4"/><circle cx="312.9" cy="46.2" r="0.68" fill="#4a5cc4"/><circle cx="310.8" cy="50.0" r="0.68" fill="#2636a0"/><circle cx="315.3" cy="37.6" r="0.68" fill="#2636a0"/><circle cx="315.5" cy="40.3" r="0.68" fill="#3446b4"/><circle cx="314.5" cy="67.8" r="0.68" fill="#4a5cc4"/><circle cx="309.9" cy="51.0" r="0.68" fill="#1e2a86"/><circle cx="313.2" cy="58.1" r="0.68" fill="#3446b4"/><circle cx="312.2" cy="36.8" r="0.68" fill="#2636a0"/><circle cx="307.0" cy="54.0" r="0.68" fill="#2c3ca8"/><circle cx="315.6" cy="58.0" r="0.68" fill="#2636a0"/><circle cx="311.9" cy="56.1" r="0.68" fill="#4a5cc4"/><circle cx="309.5" cy="61.9" r="0.68" fill="#4a5cc4"/><circle cx="314.1" cy="44.8" r="0.68" fill="#2c3ca8"/><circle cx="315.2" cy="63.4" r="0.68" fill="#2c3ca8"/><circle cx="310.5" cy="41.6" r="0.68" fill="#2636a0"/><circle cx="309.7" cy="42.6" r="0.68" fill="#3446b4"/><circle cx="314.2" cy="52.8" r="0.68" fill="#4a5cc4"/><circle cx="313.6" cy="51.8" r="0.68" fill="#1e2a86"/><circle cx="319.9" cy="45.8" r="0.68" fill="#3446b4"/><circle cx="308.6" cy="34.1" r="0.68" fill="#2636a0"/><circle cx="315.5" cy="44.3" r="0.68" fill="#1e2a86"/><circle cx="313.3" cy="53.6" r="0.68" fill="#2c3ca8"/><circle cx="316.5" cy="37.0" r="0.68" fill="#2636a0"/><circle cx="310.0" cy="52.1" r="0.68" fill="#2636a0"/><circle cx="313.7" cy="59.2" r="0.68" fill="#2c3ca8"/><circle cx="312.1" cy="34.6" r="0.68" fill="#2636a0"/><circle cx="319.8" cy="35.3" r="0.68" fill="#2c3ca8"/><circle cx="309.9" cy="54.6" r="0.68" fill="#4a5cc4"/><circle cx="309.5" cy="71.2" r="0.68" fill="#2c3ca8"/><circle cx="315.5" cy="53.8" r="0.68" fill="#3446b4"/><circle cx="312.4" cy="68.1" r="0.68" fill="#4a5cc4"/><circle cx="316.9" cy="43.5" r="0.68" fill="#3446b4"/><circle cx="320.2" cy="34.8" r="0.68" fill="#2c3ca8"/><circle cx="311.7" cy="53.2" r="0.68" fill="#4a5cc4"/><circle cx="315.0" cy="42.3" r="0.68" fill="#1e2a86"/><circle cx="321.7" cy="59.0" r="0.68" fill="#1e2a86"/><circle cx="310.1" cy="54.4" r="0.68" fill="#4a5cc4"/><circle cx="311.5" cy="47.6" r="0.68" fill="#3446b4"/><circle cx="318.9" cy="49.4" r="0.68" fill="#3446b4"/><circle cx="313.9" cy="51.0" r="0.68" fill="#2636a0"/><circle cx="309.0" cy="61.4" r="0.68" fill="#2c3ca8"/><circle cx="310.9" cy="61.5" r="0.68" fill="#1e2a86"/><circle cx="312.3" cy="47.2" r="0.68" fill="#2c3ca8"/><circle cx="321.2" cy="49.1" r="0.68" fill="#4a5cc4"/><circle cx="311.5" cy="46.8" r="0.68" fill="#3446b4"/><circle cx="317.2" cy="63.7" r="0.68" fill="#1e2a86"/><circle cx="317.2" cy="45.9" r="0.68" fill="#2c3ca8"/><circle cx="309.2" cy="46.5" r="0.68" fill="#1e2a86"/><circle cx="313.9" cy="52.1" r="0.68" fill="#2636a0"/><circle cx="311.4" cy="61.1" r="0.68" fill="#2c3ca8"/><circle cx="310.0" cy="45.9" r="0.68" fill="#1e2a86"/><circle cx="316.7" cy="53.0" r="0.68" fill="#2c3ca8"/><circle cx="312.6" cy="58.2" r="0.68" fill="#2636a0"/><circle cx="307.9" cy="65.1" r="0.68" fill="#2636a0"/><circle cx="324.5" cy="61.8" r="0.68" fill="#1e2a86"/><circle cx="314.9" cy="65.2" r="0.68" fill="#1e2a86"/><circle cx="314.6" cy="60.3" r="0.68" fill="#1e2a86"/><circle cx="313.5" cy="51.8" r="0.68" fill="#1e2a86"/><circle cx="316.8" cy="35.5" r="0.68" fill="#4a5cc4"/><circle cx="313.4" cy="63.8" r="0.68" fill="#2c3ca8"/><circle cx="301.0" cy="57.7" r="0.68" fill="#4a5cc4"/><circle cx="318.6" cy="51.1" r="0.68" fill="#4a5cc4"/><circle cx="315.3" cy="60.6" r="0.68" fill="#4a5cc4"/><circle cx="315.9" cy="34.6" r="0.68" fill="#4a5cc4"/><circle cx="310.1" cy="49.2" r="0.68" fill="#2c3ca8"/><circle cx="315.1" cy="46.3" r="0.68" fill="#1e2a86"/><circle cx="313.9" cy="63.2" r="0.68" fill="#2636a0"/><circle cx="300.9" cy="63.7" r="0.68" fill="#2c3ca8"/><circle cx="318.7" cy="53.2" r="0.68" fill="#3446b4"/><circle cx="314.5" cy="50.5" r="0.68" fill="#2636a0"/><circle cx="316.1" cy="51.3" r="0.68" fill="#3446b4"/><circle cx="311.1" cy="57.3" r="0.68" fill="#3446b4"/><circle cx="310.6" cy="51.0" r="0.68" fill="#3446b4"/><circle cx="312.8" cy="41.6" r="0.68" fill="#3446b4"/><circle cx="317.2" cy="48.5" r="0.68" fill="#3446b4"/><circle cx="309.0" cy="51.3" r="0.68" fill="#4a5cc4"/><circle cx="308.1" cy="63.4" r="0.68" fill="#1e2a86"/><circle cx="316.8" cy="64.7" r="0.68" fill="#3446b4"/><circle cx="311.8" cy="56.4" r="0.68" fill="#1e2a86"/><circle cx="310.0" cy="44.9" r="0.68" fill="#4a5cc4"/><circle cx="314.0" cy="53.4" r="0.68" fill="#4a5cc4"/><circle cx="318.6" cy="46.4" r="0.68" fill="#2636a0"/><circle cx="319.5" cy="55.8" r="0.68" fill="#3446b4"/><circle cx="310.4" cy="50.0" r="0.68" fill="#2636a0"/><circle cx="310.2" cy="64.8" r="0.68" fill="#3446b4"/><circle cx="311.9" cy="57.8" r="0.68" fill="#4a5cc4"/><circle cx="318.6" cy="46.6" r="0.68" fill="#2636a0"/><circle cx="312.2" cy="53.5" r="0.68" fill="#2636a0"/><circle cx="310.8" cy="41.4" r="0.68" fill="#4a5cc4"/><circle cx="310.0" cy="54.2" r="0.68" fill="#2636a0"/><circle cx="315.3" cy="63.5" r="0.68" fill="#2636a0"/><circle cx="306.0" cy="56.8" r="0.68" fill="#4a5cc4"/><circle cx="309.1" cy="60.9" r="0.68" fill="#4a5cc4"/><circle cx="317.6" cy="49.9" r="0.68" fill="#2c3ca8"/><circle cx="321.2" cy="44.7" r="0.68" fill="#2636a0"/><circle cx="312.0" cy="42.6" r="0.68" fill="#4a5cc4"/><circle cx="311.4" cy="51.9" r="0.68" fill="#3446b4"/><circle cx="317.5" cy="58.9" r="0.68" fill="#3446b4"/><circle cx="313.2" cy="44.7" r="0.68" fill="#2636a0"/><circle cx="312.9" cy="47.2" r="0.68" fill="#2c3ca8"/><circle cx="312.3" cy="47.6" r="0.68" fill="#4a5cc4"/><circle cx="310.4" cy="51.0" r="0.68" fill="#3446b4"/><circle cx="312.1" cy="49.5" r="0.68" fill="#1e2a86"/><circle cx="308.1" cy="53.3" r="0.68" fill="#1e2a86"/><circle cx="317.0" cy="54.1" r="0.68" fill="#4a5cc4"/><circle cx="311.9" cy="42.0" r="0.68" fill="#4a5cc4"/><circle cx="308.5" cy="42.9" r="0.68" fill="#4a5cc4"/><circle cx="311.5" cy="48.6" r="0.68" fill="#2636a0"/><circle cx="306.3" cy="58.0" r="0.68" fill="#2c3ca8"/><circle cx="307.4" cy="47.1" r="0.68" fill="#2636a0"/><circle cx="311.1" cy="57.6" r="0.68" fill="#1e2a86"/><circle cx="322.8" cy="44.3" r="0.68" fill="#2636a0"/><circle cx="313.1" cy="47.4" r="0.68" fill="#2c3ca8"/><circle cx="313.5" cy="49.0" r="0.68" fill="#4a5cc4"/><circle cx="325.7" cy="37.6" r="0.68" fill="#3446b4"/><circle cx="313.9" cy="44.0" r="0.68" fill="#3446b4"/><circle cx="316.0" cy="45.4" r="0.68" fill="#1e2a86"/><circle cx="317.0" cy="40.7" r="0.68" fill="#2636a0"/><circle cx="324.0" cy="48.3" r="0.68" fill="#2636a0"/><circle cx="306.3" cy="58.2" r="0.68" fill="#2636a0"/><circle cx="312.3" cy="41.8" r="0.68" fill="#2636a0"/><circle cx="316.4" cy="45.3" r="0.68" fill="#4a5cc4"/><circle cx="317.8" cy="44.6" r="0.68" fill="#4a5cc4"/><circle cx="318.5" cy="49.7" r="0.68" fill="#4a5cc4"/><circle cx="316.0" cy="50.7" r="0.68" fill="#1e2a86"/><circle cx="312.7" cy="47.8" r="0.68" fill="#2636a0"/><circle cx="316.5" cy="54.8" r="0.68" fill="#2c3ca8"/><circle cx="312.5" cy="68.0" r="0.68" fill="#4a5cc4"/><circle cx="322.1" cy="38.5" r="0.68" fill="#2c3ca8"/><circle cx="319.3" cy="47.7" r="0.68" fill="#1e2a86"/><circle cx="315.5" cy="43.5" r="0.68" fill="#2636a0"/><circle cx="321.9" cy="41.0" r="0.68" fill="#4a5cc4"/><circle cx="314.0" cy="44.5" r="0.68" fill="#1e2a86"/><circle cx="323.2" cy="56.6" r="0.68" fill="#4a5cc4"/><circle cx="308.4" cy="48.6" r="0.68" fill="#2c3ca8"/><circle cx="316.1" cy="46.1" r="0.68" fill="#2636a0"/><circle cx="312.8" cy="42.2" r="0.68" fill="#4a5cc4"/><circle cx="315.5" cy="41.2" r="0.68" fill="#2c3ca8"/><circle cx="318.2" cy="67.2" r="0.68" fill="#2c3ca8"/><circle cx="312.9" cy="63.2" r="0.68" fill="#4a5cc4"/><circle cx="316.1" cy="44.2" r="0.68" fill="#2636a0"/><circle cx="312.8" cy="43.1" r="0.68" fill="#4a5cc4"/><circle cx="314.9" cy="55.2" r="0.68" fill="#2636a0"/><circle cx="318.6" cy="46.4" r="0.68" fill="#4a5cc4"/><circle cx="309.0" cy="51.3" r="0.68" fill="#2636a0"/><circle cx="322.0" cy="49.5" r="0.68" fill="#4a5cc4"/><circle cx="317.1" cy="33.8" r="0.68" fill="#4a5cc4"/><circle cx="315.3" cy="44.1" r="0.68" fill="#2c3ca8"/><circle cx="312.7" cy="47.3" r="0.68" fill="#2c3ca8"/><circle cx="314.6" cy="38.6" r="0.68" fill="#2636a0"/><circle cx="314.5" cy="41.6" r="0.68" fill="#2636a0"/><circle cx="322.3" cy="39.8" r="0.68" fill="#2c3ca8"/><circle cx="308.6" cy="41.7" r="0.68" fill="#4a5cc4"/><circle cx="320.0" cy="48.1" r="0.68" fill="#1e2a86"/><circle cx="311.9" cy="47.8" r="0.68" fill="#2636a0"/><circle cx="320.7" cy="43.8" r="0.68" fill="#2c3ca8"/><circle cx="313.6" cy="38.5" r="0.68" fill="#4a5cc4"/><circle cx="312.7" cy="45.7" r="0.68" fill="#2c3ca8"/><circle cx="318.5" cy="46.2" r="0.68" fill="#1e2a86"/><circle cx="326.4" cy="42.1" r="0.68" fill="#2636a0"/><circle cx="317.2" cy="49.5" r="0.68" fill="#4a5cc4"/><circle cx="311.0" cy="40.3" r="0.68" fill="#3446b4"/><circle cx="315.6" cy="40.5" r="0.68" fill="#1e2a86"/><circle cx="318.1" cy="38.7" r="0.68" fill="#2c3ca8"/><circle cx="323.1" cy="36.7" r="0.68" fill="#4a5cc4"/><circle cx="313.4" cy="35.4" r="0.68" fill="#4a5cc4"/><circle cx="310.5" cy="44.3" r="0.68" fill="#2636a0"/><circle cx="320.5" cy="41.2" r="0.68" fill="#1e2a86"/><circle cx="321.6" cy="44.4" r="0.68" fill="#2c3ca8"/><circle cx="314.6" cy="41.9" r="0.68" fill="#2c3ca8"/><circle cx="319.2" cy="49.9" r="0.68" fill="#2636a0"/><circle cx="315.2" cy="43.5" r="0.68" fill="#1e2a86"/><circle cx="320.1" cy="46.8" r="0.68" fill="#1e2a86"/><circle cx="319.5" cy="46.2" r="0.68" fill="#2c3ca8"/><circle cx="312.2" cy="41.0" r="0.68" fill="#3446b4"/><circle cx="307.9" cy="41.8" r="0.68" fill="#2c3ca8"/><circle cx="328.9" cy="43.0" r="0.68" fill="#4a5cc4"/><circle cx="317.8" cy="43.1" r="0.68" fill="#2c3ca8"/><circle cx="318.1" cy="36.8" r="0.68" fill="#2636a0"/><circle cx="314.0" cy="41.3" r="0.68" fill="#4a5cc4"/><circle cx="318.2" cy="38.6" r="0.68" fill="#4a5cc4"/><circle cx="316.9" cy="39.2" r="0.68" fill="#2c3ca8"/><circle cx="310.9" cy="39.4" r="0.68" fill="#2c3ca8"/><circle cx="313.4" cy="45.3" r="0.68" fill="#3446b4"/><circle cx="324.0" cy="44.3" r="0.68" fill="#2c3ca8"/><circle cx="316.4" cy="39.8" r="0.68" fill="#4a5cc4"/><circle cx="309.7" cy="40.0" r="0.68" fill="#1e2a86"/><circle cx="325.1" cy="46.5" r="0.68" fill="#2c3ca8"/><circle cx="318.5" cy="41.1" r="0.68" fill="#2636a0"/><circle cx="317.4" cy="43.7" r="0.68" fill="#1e2a86"/><circle cx="317.4" cy="43.7" r="0.68" fill="#2636a0"/><circle cx="313.6" cy="42.2" r="0.68" fill="#3446b4"/><circle cx="315.7" cy="46.2" r="0.68" fill="#1e2a86"/><circle cx="311.3" cy="47.1" r="0.68" fill="#2636a0"/><circle cx="317.0" cy="40.1" r="0.68" fill="#3446b4"/><circle cx="317.5" cy="42.5" r="0.68" fill="#2636a0"/><circle cx="310.7" cy="71.3" r="0.68" fill="#3446b4"/><circle cx="315.5" cy="79.4" r="0.68" fill="#1e2a86"/><circle cx="319.3" cy="72.5" r="0.68" fill="#3446b4"/><circle cx="306.9" cy="79.1" r="0.68" fill="#4a5cc4"/><circle cx="311.8" cy="81.2" r="0.68" fill="#3446b4"/><circle cx="311.5" cy="73.7" r="0.68" fill="#2c3ca8"/><circle cx="307.3" cy="81.4" r="0.68" fill="#2c3ca8"/><circle cx="313.1" cy="75.3" r="0.68" fill="#1e2a86"/></g>
<g><circle cx="308.2" cy="67.5" r="0.68" fill="#7a2a5a"/><circle cx="309.9" cy="63.9" r="0.68" fill="#a0304a"/><circle cx="310.3" cy="68.8" r="0.68" fill="#a0304a"/><circle cx="311.9" cy="63.4" r="0.68" fill="#9a3050"/><circle cx="309.9" cy="69.5" r="0.68" fill="#9a3050"/><circle cx="311.2" cy="62.6" r="0.68" fill="#a0304a"/><circle cx="308.5" cy="70.1" r="0.68" fill="#7a2a5a"/><circle cx="306.1" cy="68.5" r="0.68" fill="#9a3050"/><circle cx="309.7" cy="68.0" r="0.68" fill="#7a2a5a"/><circle cx="308.9" cy="67.9" r="0.68" fill="#7a2a5a"/><circle cx="310.1" cy="64.8" r="0.68" fill="#9a3050"/><circle cx="308.9" cy="66.1" r="0.68" fill="#7a2a5a"/><circle cx="310.3" cy="68.3" r="0.68" fill="#b03a4a"/><circle cx="310.7" cy="66.1" r="0.68" fill="#a0304a"/><circle cx="312.1" cy="67.8" r="0.68" fill="#b03a4a"/><circle cx="310.0" cy="65.7" r="0.68" fill="#9a3050"/><circle cx="308.9" cy="65.6" r="0.68" fill="#9a3050"/><circle cx="309.3" cy="66.9" r="0.68" fill="#7a2a5a"/><circle cx="309.6" cy="66.9" r="0.68" fill="#b03a4a"/><circle cx="307.7" cy="72.7" r="0.68" fill="#a0304a"/><circle cx="312.2" cy="68.2" r="0.68" fill="#a0304a"/><circle cx="308.7" cy="72.6" r="0.68" fill="#a0304a"/><circle cx="309.6" cy="69.8" r="0.68" fill="#9a3050"/><circle cx="306.0" cy="68.7" r="0.68" fill="#9a3050"/><circle cx="313.3" cy="65.4" r="0.68" fill="#9a3050"/><circle cx="309.6" cy="68.7" r="0.68" fill="#b03a4a"/><circle cx="308.5" cy="66.2" r="0.68" fill="#9a3050"/><circle cx="310.4" cy="69.9" r="0.68" fill="#a0304a"/><circle cx="306.2" cy="70.4" r="0.68" fill="#a0304a"/><circle cx="308.1" cy="67.5" r="0.68" fill="#b03a4a"/></g>
<rect x="284.40" y="29.90" width="52.60" height="78.10" fill="none" stroke="#7a7a7a" stroke-width="1.25"/>
<line x1="309.40" y1="29.90" x2="309.40" y2="108.00" stroke="#5a5a5a" stroke-width="0.9"/>
<line x1="284.40" y1="69.20" x2="337.00" y2="69.20" stroke="#5a5a5a" stroke-width="0.9"/>
<line x1="281.80" y1="42.40" x2="284.40" y2="42.40" stroke="#222" stroke-width="0.9"/>
<text x="279.80" y="44.70" font-size="6.6" fill="#333" stroke="#333" stroke-width="0.22" text-anchor="end">10<tspan font-size="3.96" dy="-2.77">6</tspan></text>
<line x1="281.80" y1="59.80" x2="284.40" y2="59.80" stroke="#222" stroke-width="0.9"/>
<text x="279.80" y="62.10" font-size="6.6" fill="#333" stroke="#333" stroke-width="0.22" text-anchor="end">10<tspan font-size="3.96" dy="-2.77">5</tspan></text>
<line x1="281.80" y1="80.50" x2="284.40" y2="80.50" stroke="#222" stroke-width="0.9"/>
<text x="279.80" y="82.80" font-size="6.6" fill="#333" stroke="#333" stroke-width="0.22" text-anchor="end">10<tspan font-size="3.96" dy="-2.77">4</tspan></text>
<line x1="281.80" y1="91.30" x2="284.40" y2="91.30" stroke="#222" stroke-width="0.9"/>
<rect x="282.80" y="89.90" width="1.60" height="2.80" fill="#111"/>
<text x="279.00" y="93.60" font-size="6.6" fill="#333" text-anchor="end" stroke="#333" stroke-width="0.22">0</text>
<line x1="281.80" y1="102.30" x2="284.40" y2="102.30" stroke="#222" stroke-width="0.9"/>
<text x="279.80" y="104.60" font-size="6.6" fill="#333" stroke="#333" stroke-width="0.22" text-anchor="end">−10<tspan font-size="3.96" dy="-2.77">4</tspan></text>
<line x1="283.10" y1="33.00" x2="284.40" y2="33.00" stroke="#444" stroke-width="0.6"/>
<line x1="283.10" y1="36.00" x2="284.40" y2="36.00" stroke="#444" stroke-width="0.6"/>
<line x1="283.10" y1="38.50" x2="284.40" y2="38.50" stroke="#444" stroke-width="0.6"/>
<line x1="283.10" y1="47.00" x2="284.40" y2="47.00" stroke="#444" stroke-width="0.6"/>
<line x1="283.10" y1="50.00" x2="284.40" y2="50.00" stroke="#444" stroke-width="0.6"/>
<line x1="283.10" y1="53.00" x2="284.40" y2="53.00" stroke="#444" stroke-width="0.6"/>
<line x1="283.10" y1="56.00" x2="284.40" y2="56.00" stroke="#444" stroke-width="0.6"/>
<line x1="283.10" y1="64.00" x2="284.40" y2="64.00" stroke="#444" stroke-width="0.6"/>
<line x1="283.10" y1="67.00" x2="284.40" y2="67.00" stroke="#444" stroke-width="0.6"/>
<line x1="283.10" y1="70.00" x2="284.40" y2="70.00" stroke="#444" stroke-width="0.6"/>
<line x1="283.10" y1="73.00" x2="284.40" y2="73.00" stroke="#444" stroke-width="0.6"/>
<line x1="283.10" y1="76.00" x2="284.40" y2="76.00" stroke="#444" stroke-width="0.6"/>
<line x1="283.10" y1="84.00" x2="284.40" y2="84.00" stroke="#444" stroke-width="0.6"/>
<line x1="283.10" y1="86.00" x2="284.40" y2="86.00" stroke="#444" stroke-width="0.6"/>
<line x1="283.10" y1="88.00" x2="284.40" y2="88.00" stroke="#444" stroke-width="0.6"/>
<line x1="283.10" y1="94.00" x2="284.40" y2="94.00" stroke="#444" stroke-width="0.6"/>
<line x1="283.10" y1="96.00" x2="284.40" y2="96.00" stroke="#444" stroke-width="0.6"/>
<line x1="283.10" y1="98.00" x2="284.40" y2="98.00" stroke="#444" stroke-width="0.6"/>
<line x1="283.10" y1="100.00" x2="284.40" y2="100.00" stroke="#444" stroke-width="0.6"/>
<line x1="286.80" y1="108.00" x2="286.80" y2="109.60" stroke="#222" stroke-width="0.7"/>
<line x1="287.80" y1="108.00" x2="287.80" y2="109.60" stroke="#222" stroke-width="0.7"/>
<line x1="288.80" y1="108.00" x2="288.80" y2="109.60" stroke="#222" stroke-width="0.7"/>
<line x1="291.00" y1="108.00" x2="291.00" y2="109.60" stroke="#222" stroke-width="0.7"/>
<line x1="292.00" y1="108.00" x2="292.00" y2="109.60" stroke="#222" stroke-width="0.7"/>
<line x1="293.00" y1="108.00" x2="293.00" y2="109.60" stroke="#222" stroke-width="0.7"/>
<line x1="295.00" y1="108.00" x2="295.00" y2="109.60" stroke="#222" stroke-width="0.7"/>
<line x1="297.80" y1="108.00" x2="297.80" y2="109.60" stroke="#222" stroke-width="0.7"/>
<line x1="300.40" y1="108.00" x2="300.40" y2="109.60" stroke="#222" stroke-width="0.7"/>
<line x1="303.00" y1="108.00" x2="303.00" y2="109.60" stroke="#222" stroke-width="0.7"/>
<line x1="313.30" y1="108.00" x2="313.30" y2="110.40" stroke="#222" stroke-width="0.9"/>
<line x1="327.20" y1="108.00" x2="327.20" y2="110.40" stroke="#222" stroke-width="0.9"/>
<line x1="306.40" y1="108.00" x2="306.40" y2="109.10" stroke="#555" stroke-width="0.5"/>
<line x1="308.90" y1="108.00" x2="308.90" y2="109.10" stroke="#555" stroke-width="0.5"/>
<line x1="317.40" y1="108.00" x2="317.40" y2="109.10" stroke="#555" stroke-width="0.5"/>
<line x1="320.40" y1="108.00" x2="320.40" y2="109.10" stroke="#555" stroke-width="0.5"/>
<line x1="323.40" y1="108.00" x2="323.40" y2="109.10" stroke="#555" stroke-width="0.5"/>
<line x1="330.40" y1="108.00" x2="330.40" y2="109.10" stroke="#555" stroke-width="0.5"/>
<line x1="333.40" y1="108.00" x2="333.40" y2="109.10" stroke="#555" stroke-width="0.5"/>
<text x="294.40" y="119.90" font-size="6.4" fill="#333" text-anchor="middle" stroke="#333" stroke-width="0.22">0</text>
<text x="314.20" y="119.90" font-size="6.4" fill="#333" stroke="#333" stroke-width="0.22" text-anchor="middle">10<tspan font-size="3.84" dy="-2.69">5</tspan></text>
<text x="328.20" y="119.90" font-size="6.4" fill="#333" stroke="#333" stroke-width="0.22" text-anchor="middle">10<tspan font-size="3.84" dy="-2.69">6</tspan></text>
<text x="90.20" y="56.30" font-size="6.4" fill="#333" text-anchor="end" stroke="#333" stroke-width="0.22" textLength="9.0" lengthAdjust="spacingAndGlyphs">late</text>
<text x="90.20" y="63.20" font-size="6.4" fill="#333" text-anchor="end" stroke="#333" stroke-width="0.22" textLength="22.8" lengthAdjust="spacingAndGlyphs">apoptotic</text>
<text x="41.00" y="67.40" font-size="6.4" fill="#333" text-anchor="start" stroke="#333" stroke-width="0.22" textLength="12.6" lengthAdjust="spacingAndGlyphs">dead</text>
<text x="90.20" y="95.60" font-size="6.4" fill="#333" text-anchor="end" stroke="#333" stroke-width="0.22" textLength="11.1" lengthAdjust="spacingAndGlyphs">early</text>
<text x="90.20" y="102.00" font-size="6.4" fill="#333" text-anchor="end" stroke="#333" stroke-width="0.22" textLength="22.8" lengthAdjust="spacingAndGlyphs">apoptotic</text>
<text x="41.00" y="105.80" font-size="6.4" fill="#333" text-anchor="start" stroke="#333" stroke-width="0.22" textLength="6.4" lengthAdjust="spacingAndGlyphs">live</text>
<path d="M17.7 125.4 L17.7 50 M17.7 125.4 L343 125.4" stroke="#111" stroke-width="1.6" fill="none"/>
<path d="M17.7 46.0 L14.9 53.0 L17.7 52.0 L20.5 53.0 Z" fill="#111"/>
<path d="M348.4 125.4 L340.8 122.2 L341.8 125.4 L340.8 128.7 Z" fill="#111"/>
<text x="0" y="0" font-size="8.4" fill="#2a2a2a" text-anchor="middle" stroke="#2a2a2a" stroke-width="0.22" transform="translate(12.80 84.00) rotate(-90)" textLength="16.5" lengthAdjust="spacingAndGlyphs">7AAD</text>
<text x="183.00" y="138.30" font-size="8.2" fill="#333" text-anchor="middle" stroke="#333" stroke-width="0.22" textLength="29.5" lengthAdjust="spacingAndGlyphs">AnnexinV</text>
<rect x="393.70" y="103.60" width="13.40" height="5.00" fill="#f39019"/>
<rect x="393.70" y="97.10" width="13.40" height="6.50" fill="#40a637"/>
<rect x="393.70" y="9.80" width="13.40" height="87.30" fill="#17467f"/>
<rect x="393.70" y="8.60" width="13.40" height="1.20" fill="#9c1a40"/>
<line x1="393.70" y1="9.80" x2="407.10" y2="9.80" stroke="#3a1a40" stroke-width="0.4"/>
<line x1="393.70" y1="103.60" x2="407.10" y2="103.60" stroke="#2a2a2a" stroke-width="0.7"/>
<line x1="393.70" y1="97.10" x2="407.10" y2="97.10" stroke="#1f3a2a" stroke-width="0.5"/>
<rect x="414.80" y="94.60" width="13.40" height="14.00" fill="#f39019"/>
<rect x="414.80" y="79.30" width="13.40" height="15.30" fill="#40a637"/>
<rect x="414.80" y="9.80" width="13.40" height="69.50" fill="#17467f"/>
<rect x="414.80" y="8.60" width="13.40" height="1.20" fill="#9c1a40"/>
<line x1="414.80" y1="9.80" x2="428.20" y2="9.80" stroke="#3a1a40" stroke-width="0.4"/>
<line x1="414.80" y1="94.60" x2="428.20" y2="94.60" stroke="#2a2a2a" stroke-width="0.7"/>
<line x1="414.80" y1="79.30" x2="428.20" y2="79.30" stroke="#1f3a2a" stroke-width="0.5"/>
<rect x="435.80" y="74.40" width="13.40" height="34.20" fill="#f39019"/>
<rect x="435.80" y="39.60" width="13.40" height="34.80" fill="#40a637"/>
<rect x="435.80" y="9.40" width="13.40" height="30.20" fill="#17467f"/>
<rect x="435.80" y="8.60" width="13.40" height="0.80" fill="#9c1a40"/>
<line x1="435.80" y1="9.40" x2="449.20" y2="9.40" stroke="#3a1a40" stroke-width="0.4"/>
<line x1="435.80" y1="74.40" x2="449.20" y2="74.40" stroke="#2a2a2a" stroke-width="0.7"/>
<line x1="435.80" y1="39.60" x2="449.20" y2="39.60" stroke="#1f3a2a" stroke-width="0.5"/>
<rect x="456.90" y="71.10" width="13.40" height="37.50" fill="#f39019"/>
<rect x="456.90" y="39.90" width="13.40" height="31.20" fill="#40a637"/>
<rect x="456.90" y="8.70" width="13.40" height="31.20" fill="#17467f"/>
<rect x="456.90" y="8.60" width="13.40" height="0.10" fill="#9c1a40"/>
<line x1="456.90" y1="8.70" x2="470.30" y2="8.70" stroke="#3a1a40" stroke-width="0.4"/>
<line x1="456.90" y1="71.10" x2="470.30" y2="71.10" stroke="#2a2a2a" stroke-width="0.7"/>
<line x1="456.90" y1="39.90" x2="470.30" y2="39.90" stroke="#1f3a2a" stroke-width="0.5"/>
<rect x="477.80" y="96.60" width="13.40" height="12.00" fill="#f39019"/>
<rect x="477.80" y="86.30" width="13.40" height="10.30" fill="#40a637"/>
<rect x="477.80" y="11.40" width="13.40" height="74.90" fill="#17467f"/>
<rect x="477.80" y="8.60" width="13.40" height="2.80" fill="#9c1a40"/>
<line x1="477.80" y1="11.40" x2="491.20" y2="11.40" stroke="#3a1a40" stroke-width="0.4"/>
<line x1="477.80" y1="96.60" x2="491.20" y2="96.60" stroke="#2a2a2a" stroke-width="0.7"/>
<line x1="477.80" y1="86.30" x2="491.20" y2="86.30" stroke="#1f3a2a" stroke-width="0.5"/>
<rect x="498.80" y="86.80" width="13.40" height="21.80" fill="#f39019"/>
<rect x="498.80" y="65.30" width="13.40" height="21.50" fill="#40a637"/>
<rect x="498.80" y="10.40" width="13.40" height="54.90" fill="#17467f"/>
<rect x="498.80" y="8.60" width="13.40" height="1.80" fill="#9c1a40"/>
<line x1="498.80" y1="10.40" x2="512.20" y2="10.40" stroke="#3a1a40" stroke-width="0.4"/>
<line x1="498.80" y1="86.80" x2="512.20" y2="86.80" stroke="#2a2a2a" stroke-width="0.7"/>
<line x1="498.80" y1="65.30" x2="512.20" y2="65.30" stroke="#1f3a2a" stroke-width="0.5"/>
<line x1="386.60" y1="5.60" x2="386.60" y2="108.90" stroke="#111" stroke-width="1.2"/>
<line x1="386.00" y1="108.90" x2="520.00" y2="108.90" stroke="#111" stroke-width="1.2"/>
<line x1="383.70" y1="108.60" x2="386.60" y2="108.60" stroke="#111" stroke-width="1.0"/>
<text x="380.40" y="110.95" font-size="6.6" fill="#333" text-anchor="end" stroke="#333" stroke-width="0.22">0</text>
<line x1="383.70" y1="88.60" x2="386.60" y2="88.60" stroke="#111" stroke-width="1.0"/>
<text x="380.40" y="90.95" font-size="6.6" fill="#333" text-anchor="end" stroke="#333" stroke-width="0.22">20</text>
<line x1="383.70" y1="68.60" x2="386.60" y2="68.60" stroke="#111" stroke-width="1.0"/>
<text x="380.40" y="70.95" font-size="6.6" fill="#333" text-anchor="end" stroke="#333" stroke-width="0.22">40</text>
<line x1="383.70" y1="48.60" x2="386.60" y2="48.60" stroke="#111" stroke-width="1.0"/>
<text x="380.40" y="50.95" font-size="6.6" fill="#333" text-anchor="end" stroke="#333" stroke-width="0.22">60</text>
<line x1="383.70" y1="28.60" x2="386.60" y2="28.60" stroke="#111" stroke-width="1.0"/>
<text x="380.40" y="30.95" font-size="6.6" fill="#333" text-anchor="end" stroke="#333" stroke-width="0.22">80</text>
<line x1="383.70" y1="8.60" x2="386.60" y2="8.60" stroke="#111" stroke-width="1.0"/>
<text x="380.40" y="10.95" font-size="6.6" fill="#333" text-anchor="end" stroke="#333" stroke-width="0.22">100</text>
<line x1="400.40" y1="108.90" x2="400.40" y2="111.20" stroke="#111" stroke-width="1.0"/>
<line x1="421.50" y1="108.90" x2="421.50" y2="111.20" stroke="#111" stroke-width="1.0"/>
<line x1="442.50" y1="108.90" x2="442.50" y2="111.20" stroke="#111" stroke-width="1.0"/>
<line x1="463.60" y1="108.90" x2="463.60" y2="111.20" stroke="#111" stroke-width="1.0"/>
<line x1="484.50" y1="108.90" x2="484.50" y2="111.20" stroke="#111" stroke-width="1.0"/>
<line x1="505.50" y1="108.90" x2="505.50" y2="111.20" stroke="#111" stroke-width="1.0"/>
<text x="0" y="0" font-size="7.6" fill="#333" text-anchor="middle" stroke="#333" stroke-width="0.22" transform="translate(363.60 57.20) rotate(-90)" textLength="33.3" lengthAdjust="spacingAndGlyphs">% pos cells</text>
<text x="0" y="0" font-size="8.2" fill="#2e2e2e" text-anchor="end" stroke="#2e2e2e" stroke-width="0.22" transform="translate(403.30 119.40) rotate(-45)" textLength="31.8" lengthAdjust="spacingAndGlyphs">shRenilla</text>
<text x="0" y="0" font-size="8.2" fill="#2e2e2e" text-anchor="end" stroke="#2e2e2e" stroke-width="0.22" transform="translate(424.40 119.40) rotate(-45)" textLength="25.4" lengthAdjust="spacingAndGlyphs">shMYC</text>
<text x="0" y="0" font-size="8.2" fill="#2e2e2e" text-anchor="end" stroke="#2e2e2e" stroke-width="0.22" transform="translate(445.40 119.40) rotate(-45)" textLength="40.0" lengthAdjust="spacingAndGlyphs">shSTAT3_1</text>
<text x="0" y="0" font-size="8.2" fill="#2e2e2e" text-anchor="end" stroke="#2e2e2e" stroke-width="0.22" transform="translate(466.50 119.40) rotate(-45)" textLength="40.0" lengthAdjust="spacingAndGlyphs">shSTAT3_2</text>
<text x="0" y="0" font-size="8.2" fill="#2e2e2e" text-anchor="end" stroke="#2e2e2e" stroke-width="0.22" transform="translate(487.40 119.40) rotate(-45)" textLength="43.5" lengthAdjust="spacingAndGlyphs">shSBNO2_1</text>
<text x="0" y="0" font-size="8.2" fill="#2e2e2e" text-anchor="end" stroke="#2e2e2e" stroke-width="0.22" transform="translate(508.40 119.40) rotate(-45)" textLength="43.5" lengthAdjust="spacingAndGlyphs">shSBNO2_2</text>
<rect x="384.40" y="161.70" width="6.80" height="3.80" fill="#9c1a40"/>
<rect x="384.40" y="171.60" width="6.80" height="3.80" fill="#17467f"/>
<rect x="457.60" y="161.70" width="6.40" height="3.80" fill="#40a637"/>
<rect x="457.60" y="171.60" width="6.40" height="3.80" fill="#f39019"/>
<text x="394.50" y="165.90" font-size="8.2" fill="#2e2e2e" text-anchor="start" stroke="#2e2e2e" stroke-width="0.22" textLength="52.3" lengthAdjust="spacingAndGlyphs">early apoptotic</text>
<text x="394.50" y="176.00" font-size="8.2" fill="#2e2e2e" text-anchor="start" stroke="#2e2e2e" stroke-width="0.22" textLength="11.6" lengthAdjust="spacingAndGlyphs">live</text>
<text x="466.80" y="165.90" font-size="8.2" fill="#2e2e2e" text-anchor="start" stroke="#2e2e2e" stroke-width="0.22" textLength="16.6" lengthAdjust="spacingAndGlyphs">dead</text>
<text x="466.80" y="176.00" font-size="8.2" fill="#2e2e2e" text-anchor="start" stroke="#2e2e2e" stroke-width="0.22" textLength="47.6" lengthAdjust="spacingAndGlyphs">late apoptotic</text>
<text x="119.60" y="215.80" font-size="10.2" fill="#222" text-anchor="start" stroke="#222" stroke-width="0.22" textLength="89.8" lengthAdjust="spacingAndGlyphs">Relapse free survival</text>
<line x1="113.60" y1="225.20" x2="113.60" y2="334.20" stroke="#111" stroke-width="1.1"/>
<line x1="113.10" y1="334.20" x2="241.00" y2="334.20" stroke="#111" stroke-width="1.1"/>
<line x1="110.60" y1="227.60" x2="113.60" y2="227.60" stroke="#111" stroke-width="1.0"/>
<text x="107.60" y="229.60" font-size="6.4" fill="#333" text-anchor="end" stroke="#333" stroke-width="0.22" textLength="12.6" lengthAdjust="spacingAndGlyphs">1.00</text>
<line x1="110.60" y1="252.80" x2="113.60" y2="252.80" stroke="#111" stroke-width="1.0"/>
<text x="107.60" y="254.80" font-size="6.4" fill="#333" text-anchor="end" stroke="#333" stroke-width="0.22" textLength="12.6" lengthAdjust="spacingAndGlyphs">0.75</text>
<line x1="110.60" y1="278.00" x2="113.60" y2="278.00" stroke="#111" stroke-width="1.0"/>
<text x="107.60" y="280.00" font-size="6.4" fill="#333" text-anchor="end" stroke="#333" stroke-width="0.22" textLength="12.6" lengthAdjust="spacingAndGlyphs">0.50</text>
<line x1="110.60" y1="303.20" x2="113.60" y2="303.20" stroke="#111" stroke-width="1.0"/>
<text x="107.60" y="305.20" font-size="6.4" fill="#333" text-anchor="end" stroke="#333" stroke-width="0.22" textLength="12.6" lengthAdjust="spacingAndGlyphs">0.25</text>
<line x1="110.60" y1="328.40" x2="113.60" y2="328.40" stroke="#111" stroke-width="1.0"/>
<text x="107.60" y="330.40" font-size="6.4" fill="#333" text-anchor="end" stroke="#333" stroke-width="0.22" textLength="12.6" lengthAdjust="spacingAndGlyphs">0.00</text>
<line x1="119.60" y1="334.20" x2="119.60" y2="337.00" stroke="#111" stroke-width="1.0"/>
<text x="119.60" y="346.00" font-size="6.6" fill="#333" text-anchor="middle" stroke="#333" stroke-width="0.22">0</text>
<line x1="149.32" y1="334.20" x2="149.32" y2="337.00" stroke="#111" stroke-width="1.0"/>
<text x="149.32" y="346.00" font-size="6.6" fill="#333" text-anchor="middle" stroke="#333" stroke-width="0.22">20</text>
<line x1="179.04" y1="334.20" x2="179.04" y2="337.00" stroke="#111" stroke-width="1.0"/>
<text x="179.04" y="346.00" font-size="6.6" fill="#333" text-anchor="middle" stroke="#333" stroke-width="0.22">40</text>
<line x1="208.76" y1="334.20" x2="208.76" y2="337.00" stroke="#111" stroke-width="1.0"/>
<text x="208.76" y="346.00" font-size="6.6" fill="#333" text-anchor="middle" stroke="#333" stroke-width="0.22">60</text>
<line x1="238.48" y1="334.20" x2="238.48" y2="337.00" stroke="#111" stroke-width="1.0"/>
<text x="238.48" y="346.00" font-size="6.6" fill="#333" text-anchor="middle" stroke="#333" stroke-width="0.22">80</text>
<text x="0" y="0" font-size="8.4" fill="#444" text-anchor="middle" stroke="#444" stroke-width="0.22" transform="translate(89.40 277.80) rotate(-90)" textLength="60.0" lengthAdjust="spacingAndGlyphs">Survival probability</text>
<text x="178.50" y="359.00" font-size="9.6" fill="#333" text-anchor="middle" stroke="#333" stroke-width="0.22" textLength="15.5" lengthAdjust="spacingAndGlyphs">Time</text>
<line x1="119.60" y1="278.00" x2="230.75" y2="278.00" stroke="#111" stroke-width="1.3" stroke-dasharray="3.4 2.5"/>
<line x1="148.80" y1="278.00" x2="148.80" y2="334.00" stroke="#111" stroke-width="1.4" stroke-dasharray="2.6 2.7"/>
<line x1="229.60" y1="278.00" x2="229.60" y2="334.00" stroke="#111" stroke-width="1.1" stroke-dasharray="3.4 2.5"/>
<path d="M119.60 227.60 H126.2 V236.2 H229.6 V328.3" stroke="#3d6b99" stroke-width="1.3" fill="none"/>
<line x1="163.60" y1="234.90" x2="163.60" y2="237.50" stroke="#3d6b99" stroke-width="0.8"/>
<line x1="172.20" y1="234.90" x2="172.20" y2="237.50" stroke="#3d6b99" stroke-width="0.8"/>
<line x1="174.00" y1="234.90" x2="174.00" y2="237.50" stroke="#3d6b99" stroke-width="0.8"/>
<line x1="184.70" y1="234.90" x2="184.70" y2="237.50" stroke="#3d6b99" stroke-width="0.8"/>
<line x1="186.50" y1="234.90" x2="186.50" y2="237.50" stroke="#3d6b99" stroke-width="0.8"/>
<line x1="200.90" y1="234.90" x2="200.90" y2="237.50" stroke="#3d6b99" stroke-width="0.8"/>
<line x1="213.90" y1="234.90" x2="213.90" y2="237.50" stroke="#3d6b99" stroke-width="0.8"/>
<line x1="216.50" y1="234.90" x2="216.50" y2="237.50" stroke="#3d6b99" stroke-width="0.8"/>
<line x1="225.70" y1="234.90" x2="225.70" y2="237.50" stroke="#3d6b99" stroke-width="0.8"/>
<path d="M119.60 227.60 H125.3 V252.7 H144.8 V278.00 H155.0 V303.6 H157.0" stroke="#d0294f" stroke-width="1.4" fill="none"/>
<path d="M119.60 227.60 H126.4" stroke="#2c2f48" stroke-width="1.3" fill="none"/>
<path d="M126.4 227.60 V236.2" stroke="#2f4a70" stroke-width="1.5" fill="none"/>
<text x="117.5" y="329.9" font-size="6.6" fill="#222" stroke="#222" stroke-width="0.22" textLength="26.8" lengthAdjust="spacingAndGlyphs"><tspan font-style="italic">P</tspan> = .0066</text>
<text x="113.80" y="369.70" font-size="6.8" fill="#333" text-anchor="start" stroke="#333" stroke-width="0.22" textLength="43.9" lengthAdjust="spacingAndGlyphs">Number at risk</text>
<text x="119.60" y="382.10" font-size="6.8" fill="#d0294f" text-anchor="middle" stroke="#d0294f" stroke-width="0.22">4</text>
<text x="149.32" y="382.10" font-size="6.8" fill="#d0294f" text-anchor="middle" stroke="#d0294f" stroke-width="0.22">2</text>
<text x="179.04" y="382.10" font-size="6.8" fill="#d0294f" text-anchor="middle" stroke="#d0294f" stroke-width="0.22">0</text>
<text x="208.76" y="382.10" font-size="6.8" fill="#d0294f" text-anchor="middle" stroke="#d0294f" stroke-width="0.22">0</text>
<text x="238.48" y="382.10" font-size="6.8" fill="#d0294f" text-anchor="middle" stroke="#d0294f" stroke-width="0.22">0</text>
<text x="119.60" y="391.60" font-size="6.8" fill="#3a4f6a" text-anchor="middle" stroke="#3a4f6a" stroke-width="0.22">12</text>
<text x="149.32" y="391.60" font-size="6.8" fill="#3a4f6a" text-anchor="middle" stroke="#3a4f6a" stroke-width="0.22">11</text>
<text x="179.04" y="391.60" font-size="6.8" fill="#3a4f6a" text-anchor="middle" stroke="#3a4f6a" stroke-width="0.22">7</text>
<text x="208.76" y="391.60" font-size="6.8" fill="#3a4f6a" text-anchor="middle" stroke="#3a4f6a" stroke-width="0.22">4</text>
<text x="238.48" y="391.60" font-size="6.8" fill="#3d6b99" text-anchor="middle" stroke="#3d6b99" stroke-width="0.22">0</text>
<line x1="113.60" y1="376.00" x2="113.60" y2="396.60" stroke="#111" stroke-width="1.1"/>
<line x1="113.10" y1="396.60" x2="241.00" y2="396.60" stroke="#111" stroke-width="1.1"/>
<line x1="110.80" y1="379.60" x2="113.60" y2="379.60" stroke="#111" stroke-width="1.0"/>
<line x1="110.80" y1="389.40" x2="113.60" y2="389.40" stroke="#111" stroke-width="1.0"/>
<line x1="119.60" y1="396.60" x2="119.60" y2="399.40" stroke="#111" stroke-width="1.0"/>
<text x="119.60" y="408.40" font-size="6.6" fill="#333" text-anchor="middle" stroke="#333" stroke-width="0.22">0</text>
<line x1="149.32" y1="396.60" x2="149.32" y2="399.40" stroke="#111" stroke-width="1.0"/>
<text x="149.32" y="408.40" font-size="6.6" fill="#333" text-anchor="middle" stroke="#333" stroke-width="0.22">20</text>
<line x1="179.04" y1="396.60" x2="179.04" y2="399.40" stroke="#111" stroke-width="1.0"/>
<text x="179.04" y="408.40" font-size="6.6" fill="#333" text-anchor="middle" stroke="#333" stroke-width="0.22">40</text>
<line x1="208.76" y1="396.60" x2="208.76" y2="399.40" stroke="#111" stroke-width="1.0"/>
<text x="208.76" y="408.40" font-size="6.6" fill="#333" text-anchor="middle" stroke="#333" stroke-width="0.22">60</text>
<line x1="238.48" y1="396.60" x2="238.48" y2="399.40" stroke="#111" stroke-width="1.0"/>
<text x="238.48" y="408.40" font-size="6.6" fill="#333" text-anchor="middle" stroke="#333" stroke-width="0.22">80</text>
<text x="178.50" y="421.00" font-size="9.6" fill="#333" text-anchor="middle" stroke="#333" stroke-width="0.22" textLength="15.5" lengthAdjust="spacingAndGlyphs">Time</text>
<text x="107.80" y="381.40" font-size="6.7" fill="#d0294f" text-anchor="end" stroke="#d0294f" stroke-width="0.22" textLength="76.3" lengthAdjust="spacingAndGlyphs">SBNO2.204166_at = high</text>
<text x="107.80" y="391.80" font-size="6.7" fill="#3d6b99" text-anchor="end" stroke="#3d6b99" stroke-width="0.22" textLength="73.8" lengthAdjust="spacingAndGlyphs">SBNO2.204166_at = low</text>
<text x="0" y="0" font-size="9.0" fill="#444" text-anchor="middle" stroke="#444" stroke-width="0.22" transform="translate(27.00 384.60) rotate(-90)" textLength="18.0" lengthAdjust="spacingAndGlyphs">Strata</text>
<text x="115.90" y="438.00" font-size="6.6" fill="#333" text-anchor="start" stroke="#333" stroke-width="0.22" textLength="17.3" lengthAdjust="spacingAndGlyphs">Strata</text>
<line x1="116.00" y1="445.60" x2="122.00" y2="445.60" stroke="#d0294f" stroke-width="1.1"/>
<line x1="116.00" y1="455.10" x2="122.00" y2="455.10" stroke="#34506e" stroke-width="1.1"/>
<circle cx="119.0" cy="445.6" r="0.9" fill="#b01c40"/><circle cx="119.0" cy="455.1" r="0.9" fill="#2a3a55"/>
<text x="126.00" y="448.00" font-size="6.7" fill="#333" text-anchor="start" stroke="#333" stroke-width="0.22" textLength="76.4" lengthAdjust="spacingAndGlyphs">SBNO2.204166_at = high</text>
<text x="124.60" y="457.50" font-size="6.7" fill="#333" text-anchor="start" stroke="#333" stroke-width="0.22" textLength="75.6" lengthAdjust="spacingAndGlyphs">SBNO2.204166_at = low</text>
<defs><clipPath id="fclip"><rect x="268.2" y="200" width="195.4" height="208.6"/></clipPath></defs>
<g clip-path="url(#fclip)">
<circle cx="345.4" cy="588.7" r="233.6" fill="#f1f1f1"/>
<path d="M104.80 543.57 A244.8 244.8 0 0 1 329.80 344.40" stroke="#c4c4c4" stroke-width="22.400000000000006" stroke-linecap="round" fill="none"/>
<path d="M104.80 543.57 A244.8 244.8 0 0 1 329.80 344.40" stroke="#e4e4e4" stroke-width="14.400000000000006" stroke-linecap="round" fill="none"/>
<path d="M381.20 346.53 A244.8 244.8 0 0 1 586.00 543.57" stroke="#c4c4c4" stroke-width="22.400000000000006" stroke-linecap="round" fill="none"/>
<path d="M381.20 346.53 A244.8 244.8 0 0 1 586.00 543.57" stroke="#e4e4e4" stroke-width="14.400000000000006" stroke-linecap="round" fill="none"/>
<path d="M256.47 292.25 A309.5 309.5 0 0 1 472.41 306.46" stroke="#f4f4f4" stroke-width="17.0" fill="none" transform="translate(0.6000000000000227 -58.700000000000045)"/>
<path d="M254.69 227.90 L256.30 233.26 M255.94 227.52 L257.54 232.89 M258.20 239.58 L256.59 234.22 M259.44 239.21 L257.83 233.84 M258.03 226.91 L259.58 232.29 M259.28 226.55 L260.83 231.93 M261.41 238.63 L259.86 233.25 M262.66 238.27 L261.11 232.89 M261.38 225.95 L262.87 231.35 M262.64 225.61 L264.13 231.01 M264.63 237.71 L263.14 232.32 M265.88 237.37 L264.39 231.97 M264.75 225.04 L266.18 230.45 M266.00 224.71 L267.43 230.12 M267.86 236.83 L266.43 231.42 M269.12 236.50 L267.69 231.09 M268.12 224.16 L269.49 229.59 M269.38 223.84 L270.75 229.27 M271.10 235.99 L269.73 230.56 M272.36 235.67 L270.99 230.24 M271.50 223.32 L272.81 228.76 M272.76 223.01 L274.07 228.46 M274.35 235.18 L273.04 229.74 M275.62 234.88 L274.31 229.43 M274.89 222.51 L276.14 227.97 M276.16 222.22 L277.41 227.68 M277.61 234.41 L276.36 228.95 M278.88 234.12 L277.63 228.66 M278.29 221.75 L279.48 227.22 M279.56 221.47 L280.75 226.94 M280.88 233.67 L279.69 228.20 M282.15 233.39 L280.96 227.92 M281.70 221.02 L282.83 226.50 M282.97 220.76 L284.10 226.24 M284.16 232.97 L283.03 227.48 M285.43 232.71 L284.30 227.22 M285.11 220.33 L286.18 225.83 M286.39 220.08 L287.46 225.58 M287.44 232.30 L286.37 226.81 M288.72 232.06 L287.65 226.56 M288.53 219.68 L289.54 225.18 M289.81 219.44 L290.82 224.95 M290.73 231.68 L289.72 226.17 M292.01 231.44 L291.00 225.93 M291.96 219.06 L292.91 224.58 M293.24 218.84 L294.19 224.36 M294.03 231.08 L293.08 225.56 M295.31 230.86 L294.36 225.34 M295.40 218.48 L296.29 224.01 M296.68 218.28 L297.57 223.81 M297.33 230.53 L296.44 225.00 M298.61 230.32 L297.73 224.79 M298.84 217.94 L299.67 223.48 M300.13 217.75 L300.95 223.29 M300.64 230.01 L299.82 224.47 M301.93 229.82 L301.10 224.28 M302.29 217.44 L303.05 222.99 M303.58 217.26 L304.34 222.81 M303.96 229.53 L303.19 223.98 M305.24 229.35 L304.48 223.80 M305.74 216.98 L306.45 222.53 M307.03 216.81 L307.74 222.37 M307.28 229.08 L306.57 223.53 M308.57 228.92 L307.86 223.36 M309.20 216.55 L309.84 222.11 M310.49 216.40 L311.14 221.97 M310.60 228.67 L309.96 223.11 M311.89 228.52 L311.25 222.96 M312.67 216.16 L313.25 221.73 M313.96 216.03 L314.54 221.60 M313.93 228.30 L313.35 222.73 M315.22 228.16 L314.64 222.59 M316.13 215.82 L316.65 221.39 M317.43 215.70 L317.95 221.27 M317.26 227.96 L316.74 222.39 M318.56 227.84 L318.04 222.27 M319.60 215.51 L320.06 221.09 M320.90 215.40 L321.36 220.98 M320.60 227.66 L320.14 222.08 M321.89 227.56 L321.44 221.98 M323.08 215.23 L323.47 220.82 M324.37 215.14 L324.77 220.73 M323.94 227.40 L323.54 221.82 M325.24 227.31 L324.84 221.72 M326.55 215.00 L326.89 220.59 M327.85 214.92 L328.19 220.51 M327.28 227.18 L326.95 221.59 M328.58 227.10 L328.24 221.51 M330.03 214.80 L330.30 220.40 M331.33 214.74 L331.60 220.33 M330.63 226.99 L330.35 221.40 M331.92 226.93 L331.65 221.33 M333.51 214.65 L333.72 220.24 M334.81 214.60 L335.02 220.19 M333.97 226.84 L333.76 221.24 M335.27 226.79 L335.06 221.19 M337.00 214.53 L337.14 220.13 M338.30 214.49 L338.44 220.09 M337.32 226.72 L337.17 221.13 M338.62 226.69 L338.47 221.09 M340.48 214.45 L340.57 220.05 M341.78 214.43 L341.87 220.03 M340.67 226.65 L340.58 221.05 M341.97 226.63 L341.88 221.03 M343.96 214.41 L343.99 220.01 M345.26 214.40 L345.29 220.00 M344.02 226.61 L343.99 221.01 M345.32 226.60 L345.29 221.00 M347.45 214.40 L347.41 220.00 M348.75 214.41 L348.71 220.01 M347.37 226.60 L347.40 221.00 M348.67 226.61 L348.70 221.01 M350.93 214.44 L350.83 220.04 M352.23 214.46 L352.13 220.06 M350.72 226.64 L350.82 221.04 M352.02 226.66 L352.12 221.06 M354.42 214.51 L354.26 220.11 M355.72 214.55 L355.56 220.15 M354.07 226.71 L354.23 221.11 M355.37 226.74 L355.53 221.15 M357.90 214.62 L357.68 220.22 M359.20 214.68 L358.98 220.27 M357.41 226.81 L357.64 221.22 M358.71 226.87 L358.94 221.27 M361.38 214.77 L361.10 220.37 M362.68 214.84 L362.39 220.43 M360.76 226.96 L361.05 221.37 M362.06 227.02 L362.34 221.43 M364.86 214.96 L364.51 220.55 M366.16 215.04 L365.81 220.63 M364.11 227.14 L364.45 221.55 M365.40 227.22 L365.75 221.63 M368.34 215.19 L367.93 220.78 M369.63 215.29 L369.23 220.87 M367.45 227.36 L367.86 221.77 M368.75 227.45 L369.15 221.87 M371.81 215.46 L371.34 221.04 M373.11 215.57 L372.64 221.15 M370.79 227.61 L371.26 222.03 M372.08 227.72 L372.55 222.14 M375.28 215.76 L374.75 221.34 M376.58 215.88 L376.05 221.46 M374.13 227.91 L374.66 222.33 M375.42 228.03 L375.95 222.45 M378.75 216.10 L378.16 221.67 M380.04 216.24 L379.45 221.81 M377.46 228.23 L378.05 222.67 M378.75 228.37 L379.35 222.80 M382.21 216.48 L381.56 222.05 M383.51 216.64 L382.85 222.20 M380.79 228.60 L381.44 223.04 M382.08 228.75 L382.73 223.19 M385.67 216.90 L384.96 222.46 M386.96 217.07 L386.25 222.62 M384.12 229.00 L384.83 223.45 M385.40 229.17 L386.12 223.61 M389.13 217.36 L388.35 222.91 M390.42 217.54 L389.64 223.09 M387.44 229.44 L388.21 223.90 M388.72 229.62 L389.50 224.08 M392.58 217.86 L391.74 223.39 M393.86 218.05 L393.02 223.59 M390.75 229.92 L391.59 224.38 M392.04 230.11 L392.88 224.58 M396.02 218.39 L395.12 223.92 M397.30 218.60 L396.40 224.12 M394.06 230.43 L394.96 224.90 M395.35 230.64 L396.24 225.11 M399.46 218.96 L398.50 224.48 M400.74 219.18 L399.78 224.70 M397.37 230.98 L398.33 225.46 M398.65 231.20 L399.61 225.68 M402.89 219.57 L401.87 225.08 M404.17 219.81 L403.15 225.31 M400.67 231.56 L401.69 226.06 M401.94 231.80 L402.96 226.30 M406.31 220.22 L405.23 225.71 M407.59 220.47 L406.51 225.96 M403.96 232.19 L405.04 226.69 M405.23 232.44 L406.31 226.94 M409.73 220.90 L408.59 226.38 M411.00 221.17 L409.86 226.65 M407.24 232.84 L408.38 227.36 M408.51 233.11 L409.66 227.63 M413.14 221.62 L411.94 227.09 M414.41 221.90 L413.21 227.37 M410.52 233.54 L411.72 228.07 M411.79 233.82 L412.99 228.35 M416.54 222.38 L415.28 227.84 M417.81 222.68 L416.54 228.13 M413.79 234.27 L415.05 228.81 M415.05 234.56 L416.32 229.11 M419.93 223.18 L418.61 228.62 M421.19 223.49 L419.87 228.93 M417.05 235.04 L418.37 229.59 M418.31 235.34 L419.63 229.90 M423.31 224.02 L421.93 229.44 M424.57 224.34 L423.19 229.76 M420.30 235.84 L421.68 230.41 M421.56 236.16 L422.94 230.73 M426.69 224.89 L425.24 230.30 M427.94 225.22 L426.50 230.63 M423.54 236.68 L424.99 231.27 M424.80 237.01 L426.24 231.60 M430.05 225.80 L428.55 231.19 M431.30 226.15 L429.80 231.54 M426.78 237.55 L428.28 232.16 M428.03 237.90 L429.53 232.50 M433.40 226.74 L431.84 232.12 M434.65 227.11 L433.09 232.48 M430.00 238.46 L431.56 233.08 M431.25 238.82 L432.81 233.44 M436.75 227.73 L435.13 233.09 M437.99 228.10 L436.37 233.46 M433.22 239.41 L434.84 234.04 M434.46 239.78 L436.08 234.42 M440.08 228.75 L438.40 234.09 M441.32 229.14 L439.64 234.48 M436.42 240.39 L438.10 235.04 M437.66 240.78 L439.34 235.43 M443.40 229.80 L441.66 235.13 M444.64 230.21 L442.90 235.53 M439.61 241.40 L441.35 236.08 M440.85 241.81 L442.59 236.48 M446.71 230.90 L444.91 236.20 M447.94 231.32 L446.14 236.62 M442.79 242.45 L444.59 237.15 M444.02 242.87 L445.82 237.57 M450.00 232.03 L448.15 237.31 M451.23 232.46 L449.37 237.74 M445.96 243.54 L447.82 238.26 M447.19 243.97 L449.04 238.69 M453.29 233.20 L451.37 238.46 M454.51 233.64 L452.60 238.90 M449.12 244.66 L451.03 239.40 M450.34 245.10 L452.25 239.84 M456.56 234.40 L454.59 239.64 M457.78 234.86 L455.80 240.10 M452.26 245.82 L454.23 240.57 M453.48 246.27 L455.45 241.03 M459.82 235.64 L457.79 240.86 M461.03 236.11 L459.00 241.33 M455.39 247.01 L457.42 241.79 M456.60 247.48 L458.63 242.26 M463.06 236.91 L460.97 242.11 M464.26 237.40 L462.18 242.59 M458.51 248.23 L460.60 243.04 M459.72 248.72 L461.80 243.52 M466.29 238.22 L464.14 243.39 M467.49 238.72 L465.34 243.89 M461.61 249.49 L463.76 244.32 M462.81 249.99 L464.96 244.82 M469.50 239.57 L467.30 244.72 M470.70 240.08 L468.49 245.23 M464.70 250.78 L466.91 245.64 M465.90 251.30 L468.10 246.15 M472.70 240.95 L470.44 246.07 M473.89 241.47 L471.63 246.60 M467.78 252.11 L470.04 246.99 M468.97 252.64 L471.23 247.51" stroke="#c6c6c6" stroke-width="0.7" fill="none"/>
<circle cx="254.91" cy="226.37" r="1.2" fill="#969696"/><circle cx="259.22" cy="240.74" r="1.2" fill="#969696"/><circle cx="258.27" cy="225.38" r="1.2" fill="#969696"/><circle cx="262.42" cy="239.80" r="1.2" fill="#969696"/><circle cx="261.64" cy="224.43" r="1.2" fill="#969696"/><circle cx="265.63" cy="238.89" r="1.2" fill="#969696"/><circle cx="265.02" cy="223.52" r="1.2" fill="#969696"/><circle cx="268.85" cy="238.02" r="1.2" fill="#969696"/><circle cx="268.40" cy="222.64" r="1.2" fill="#969696"/><circle cx="272.08" cy="237.19" r="1.2" fill="#969696"/><circle cx="271.80" cy="221.81" r="1.2" fill="#969696"/><circle cx="275.31" cy="236.39" r="1.2" fill="#969696"/><circle cx="275.21" cy="221.01" r="1.2" fill="#969696"/><circle cx="278.56" cy="235.63" r="1.2" fill="#969696"/><circle cx="278.63" cy="220.24" r="1.2" fill="#969696"/><circle cx="281.81" cy="234.90" r="1.2" fill="#969696"/><circle cx="282.05" cy="219.52" r="1.2" fill="#969696"/><circle cx="285.08" cy="234.21" r="1.2" fill="#969696"/><circle cx="285.48" cy="218.83" r="1.2" fill="#969696"/><circle cx="288.35" cy="233.55" r="1.2" fill="#969696"/><circle cx="288.92" cy="218.18" r="1.2" fill="#969696"/><circle cx="291.62" cy="232.94" r="1.2" fill="#969696"/><circle cx="292.37" cy="217.57" r="1.2" fill="#969696"/><circle cx="294.91" cy="232.35" r="1.2" fill="#969696"/><circle cx="295.82" cy="217.00" r="1.2" fill="#969696"/><circle cx="298.19" cy="231.81" r="1.2" fill="#969696"/><circle cx="299.28" cy="216.46" r="1.2" fill="#969696"/><circle cx="301.49" cy="231.30" r="1.2" fill="#969696"/><circle cx="302.74" cy="215.97" r="1.2" fill="#969696"/><circle cx="304.79" cy="230.82" r="1.2" fill="#969696"/><circle cx="306.21" cy="215.51" r="1.2" fill="#969696"/><circle cx="308.10" cy="230.39" r="1.2" fill="#969696"/><circle cx="309.69" cy="215.09" r="1.2" fill="#969696"/><circle cx="311.41" cy="229.99" r="1.2" fill="#969696"/><circle cx="313.17" cy="214.70" r="1.2" fill="#969696"/><circle cx="314.72" cy="229.62" r="1.2" fill="#969696"/><circle cx="316.65" cy="214.36" r="1.2" fill="#969696"/><circle cx="318.04" cy="229.30" r="1.2" fill="#969696"/><circle cx="320.14" cy="214.06" r="1.2" fill="#969696"/><circle cx="321.36" cy="229.01" r="1.2" fill="#969696"/><circle cx="323.63" cy="213.79" r="1.2" fill="#969696"/><circle cx="324.69" cy="228.75" r="1.2" fill="#969696"/><circle cx="327.12" cy="213.56" r="1.2" fill="#969696"/><circle cx="328.01" cy="228.54" r="1.2" fill="#969696"/><circle cx="330.61" cy="213.37" r="1.2" fill="#969696"/><circle cx="331.34" cy="228.36" r="1.2" fill="#969696"/><circle cx="334.11" cy="213.22" r="1.2" fill="#969696"/><circle cx="334.67" cy="228.21" r="1.2" fill="#969696"/><circle cx="337.61" cy="213.11" r="1.2" fill="#969696"/><circle cx="338.01" cy="228.11" r="1.2" fill="#969696"/><circle cx="341.11" cy="213.04" r="1.2" fill="#969696"/><circle cx="341.34" cy="228.04" r="1.2" fill="#969696"/><circle cx="344.61" cy="213.00" r="1.2" fill="#969696"/><circle cx="344.67" cy="228.00" r="1.2" fill="#969696"/><circle cx="348.11" cy="213.01" r="1.2" fill="#969696"/><circle cx="348.01" cy="228.01" r="1.2" fill="#969696"/><circle cx="351.61" cy="213.05" r="1.2" fill="#969696"/><circle cx="351.34" cy="228.05" r="1.2" fill="#969696"/><circle cx="355.11" cy="213.13" r="1.2" fill="#969696"/><circle cx="354.68" cy="228.12" r="1.2" fill="#969696"/><circle cx="358.60" cy="213.25" r="1.2" fill="#969696"/><circle cx="358.01" cy="228.24" r="1.2" fill="#969696"/><circle cx="362.10" cy="213.41" r="1.2" fill="#969696"/><circle cx="361.34" cy="228.39" r="1.2" fill="#969696"/><circle cx="365.60" cy="213.61" r="1.2" fill="#969696"/><circle cx="364.67" cy="228.58" r="1.2" fill="#969696"/><circle cx="369.09" cy="213.84" r="1.2" fill="#969696"/><circle cx="368.00" cy="228.80" r="1.2" fill="#969696"/><circle cx="372.58" cy="214.12" r="1.2" fill="#969696"/><circle cx="371.32" cy="229.06" r="1.2" fill="#969696"/><circle cx="376.06" cy="214.43" r="1.2" fill="#969696"/><circle cx="374.64" cy="229.36" r="1.2" fill="#969696"/><circle cx="379.55" cy="214.78" r="1.2" fill="#969696"/><circle cx="377.96" cy="229.70" r="1.2" fill="#969696"/><circle cx="383.02" cy="215.17" r="1.2" fill="#969696"/><circle cx="381.27" cy="230.07" r="1.2" fill="#969696"/><circle cx="386.50" cy="215.60" r="1.2" fill="#969696"/><circle cx="384.58" cy="230.47" r="1.2" fill="#969696"/><circle cx="389.97" cy="216.06" r="1.2" fill="#969696"/><circle cx="387.89" cy="230.92" r="1.2" fill="#969696"/><circle cx="393.43" cy="216.57" r="1.2" fill="#969696"/><circle cx="391.19" cy="231.40" r="1.2" fill="#969696"/><circle cx="396.89" cy="217.11" r="1.2" fill="#969696"/><circle cx="394.48" cy="231.92" r="1.2" fill="#969696"/><circle cx="400.34" cy="217.69" r="1.2" fill="#969696"/><circle cx="397.77" cy="232.47" r="1.2" fill="#969696"/><circle cx="403.78" cy="218.31" r="1.2" fill="#969696"/><circle cx="401.05" cy="233.06" r="1.2" fill="#969696"/><circle cx="407.22" cy="218.97" r="1.2" fill="#969696"/><circle cx="404.32" cy="233.69" r="1.2" fill="#969696"/><circle cx="410.65" cy="219.66" r="1.2" fill="#969696"/><circle cx="407.59" cy="234.35" r="1.2" fill="#969696"/><circle cx="414.07" cy="220.40" r="1.2" fill="#969696"/><circle cx="410.85" cy="235.05" r="1.2" fill="#969696"/><circle cx="417.49" cy="221.17" r="1.2" fill="#969696"/><circle cx="414.11" cy="235.78" r="1.2" fill="#969696"/><circle cx="420.89" cy="221.97" r="1.2" fill="#969696"/><circle cx="417.35" cy="236.55" r="1.2" fill="#969696"/><circle cx="424.29" cy="222.82" r="1.2" fill="#969696"/><circle cx="420.59" cy="237.36" r="1.2" fill="#969696"/><circle cx="427.68" cy="223.70" r="1.2" fill="#969696"/><circle cx="423.81" cy="238.20" r="1.2" fill="#969696"/><circle cx="431.05" cy="224.62" r="1.2" fill="#969696"/><circle cx="427.03" cy="239.07" r="1.2" fill="#969696"/><circle cx="434.42" cy="225.58" r="1.2" fill="#969696"/><circle cx="430.24" cy="239.99" r="1.2" fill="#969696"/><circle cx="437.78" cy="226.58" r="1.2" fill="#969696"/><circle cx="433.43" cy="240.93" r="1.2" fill="#969696"/><circle cx="441.12" cy="227.61" r="1.2" fill="#969696"/><circle cx="436.62" cy="241.92" r="1.2" fill="#969696"/><circle cx="444.45" cy="228.68" r="1.2" fill="#969696"/><circle cx="439.79" cy="242.93" r="1.2" fill="#969696"/><circle cx="447.77" cy="229.78" r="1.2" fill="#969696"/><circle cx="442.96" cy="243.99" r="1.2" fill="#969696"/><circle cx="451.08" cy="230.92" r="1.2" fill="#969696"/><circle cx="446.11" cy="245.08" r="1.2" fill="#969696"/><circle cx="454.38" cy="232.10" r="1.2" fill="#969696"/><circle cx="449.25" cy="246.20" r="1.2" fill="#969696"/><circle cx="457.66" cy="233.32" r="1.2" fill="#969696"/><circle cx="452.38" cy="247.36" r="1.2" fill="#969696"/><circle cx="460.93" cy="234.57" r="1.2" fill="#969696"/><circle cx="455.49" cy="248.55" r="1.2" fill="#969696"/><circle cx="464.18" cy="235.85" r="1.2" fill="#969696"/><circle cx="458.59" cy="249.77" r="1.2" fill="#969696"/><circle cx="467.42" cy="237.18" r="1.2" fill="#969696"/><circle cx="461.68" cy="251.03" r="1.2" fill="#969696"/><circle cx="470.65" cy="238.54" r="1.2" fill="#969696"/><circle cx="464.75" cy="252.33" r="1.2" fill="#969696"/><circle cx="473.86" cy="239.93" r="1.2" fill="#969696"/><circle cx="467.81" cy="253.66" r="1.2" fill="#969696"/>
<path d="M266 210.8 L274.2 210.8 Q273.6 215.2 268.8 216.4 L266 216.4 Z" fill="#aab0da"/>
<path d="M266 238 L270.2 238 Q271.6 250 273.6 266 Q272.6 270.2 266 269.8 Z" fill="#cdd8ec" stroke="#b2c0dc" stroke-width="0.5"/>
<path d="M266 273.8 Q272.4 273.4 272.8 277.5 Q273.8 280.5 272.0 283 Q272.8 287.2 266 287.2 Z" fill="#c4c4c4"/>
<rect x="340.2" y="210.8" width="5.2" height="36.2" rx="1.4" fill="#93abd0" stroke="#7593bf" stroke-width="0.6"/>
<rect x="346.6" y="210.8" width="5.0" height="36.2" rx="1.4" fill="#93abd0" stroke="#7593bf" stroke-width="0.6"/>
<g transform="translate(283.0 244.5) rotate(-14)"><rect x="-10.75" y="-5.75" width="21.5" height="11.5" rx="5.75" fill="#fbfcfe" stroke="#98a5bf" stroke-width="0.9"/><text x="0" y="2.5" font-size="7.2" fill="#2c313c" stroke="#2c313c" stroke-width="0.18" text-anchor="middle" textLength="12.8" lengthAdjust="spacingAndGlyphs">JAK</text></g>
<g transform="translate(328.9 239.2) rotate(0)"><rect x="-10.5" y="-5.5" width="21.0" height="11.0" rx="5.5" fill="#fbfcfe" stroke="#98a5bf" stroke-width="0.9"/><text x="0" y="2.5" font-size="7.2" fill="#2c313c" stroke="#2c313c" stroke-width="0.18" text-anchor="middle" textLength="12.8" lengthAdjust="spacingAndGlyphs">JAK</text></g>
<g transform="translate(362.6 239.2) rotate(0)"><rect x="-10.5" y="-5.5" width="21.0" height="11.0" rx="5.5" fill="#fbfcfe" stroke="#98a5bf" stroke-width="0.9"/><text x="0" y="2.5" font-size="7.2" fill="#2c313c" stroke="#2c313c" stroke-width="0.18" text-anchor="middle" textLength="12.8" lengthAdjust="spacingAndGlyphs">JAK</text></g>
<g transform="translate(355.2 262.6) rotate(-33) scale(1.0)"><rect x="-11.5" y="-8.6" width="23" height="8.6" rx="4.3" fill="#808080" stroke="#5e5e5e" stroke-width="0.6"/><rect x="-11.5" y="-2.2" width="23" height="8.6" rx="4.3" fill="#777777" stroke="#585858" stroke-width="0.6"/><text x="0.5" y="4.4" font-size="6.2" fill="#dfe2ea" text-anchor="middle" font-weight="bold" textLength="17" lengthAdjust="spacingAndGlyphs">STAT3</text><circle cx="-2.0" cy="-6.6" r="3.5" fill="#eaa51a" stroke="#b87a10" stroke-width="0.6"/><circle cx="5.0" cy="-7.4" r="3.5" fill="#eaa51a" stroke="#b87a10" stroke-width="0.6"/><text x="-2.0" y="-5.1" font-size="4.4" font-weight="bold" fill="#9a6400" text-anchor="middle">P</text><text x="5.0" y="-5.9" font-size="4.4" font-weight="bold" fill="#9a6400" text-anchor="middle">P</text></g>
<g transform="translate(353.2 305.0) rotate(-33) scale(1.0)"><rect x="-11.5" y="-8.6" width="23" height="8.6" rx="4.3" fill="#808080" stroke="#5e5e5e" stroke-width="0.6"/><rect x="-11.5" y="-2.2" width="23" height="8.6" rx="4.3" fill="#777777" stroke="#585858" stroke-width="0.6"/><text x="0.5" y="4.4" font-size="6.2" fill="#dfe2ea" text-anchor="middle" font-weight="bold" textLength="17" lengthAdjust="spacingAndGlyphs">STAT3</text><circle cx="-2.0" cy="-6.6" r="3.5" fill="#eaa51a" stroke="#b87a10" stroke-width="0.6"/><circle cx="5.0" cy="-7.4" r="3.5" fill="#eaa51a" stroke="#b87a10" stroke-width="0.6"/><text x="-2.0" y="-5.1" font-size="4.4" font-weight="bold" fill="#9a6400" text-anchor="middle">P</text><text x="5.0" y="-5.9" font-size="4.4" font-weight="bold" fill="#9a6400" text-anchor="middle">P</text></g>
<g transform="translate(355.6 350.0) rotate(-33) scale(1.0)"><rect x="-11.5" y="-8.6" width="23" height="8.6" rx="4.3" fill="#808080" stroke="#5e5e5e" stroke-width="0.6"/><rect x="-11.5" y="-2.2" width="23" height="8.6" rx="4.3" fill="#777777" stroke="#585858" stroke-width="0.6"/><text x="0.5" y="4.4" font-size="6.2" fill="#dfe2ea" text-anchor="middle" font-weight="bold" textLength="17" lengthAdjust="spacingAndGlyphs">STAT3</text><circle cx="-2.0" cy="-6.6" r="3.5" fill="#eaa51a" stroke="#b87a10" stroke-width="0.6"/><circle cx="5.0" cy="-7.4" r="3.5" fill="#eaa51a" stroke="#b87a10" stroke-width="0.6"/><text x="-2.0" y="-5.1" font-size="4.4" font-weight="bold" fill="#9a6400" text-anchor="middle">P</text><text x="5.0" y="-5.9" font-size="4.4" font-weight="bold" fill="#9a6400" text-anchor="middle">P</text></g>
<g transform="translate(317.6 380.0) rotate(-33) scale(1.0)"><rect x="-11.5" y="-8.6" width="23" height="8.6" rx="4.3" fill="#808080" stroke="#5e5e5e" stroke-width="0.6"/><rect x="-11.5" y="-2.2" width="23" height="8.6" rx="4.3" fill="#777777" stroke="#585858" stroke-width="0.6"/><text x="0.5" y="4.4" font-size="6.2" fill="#dfe2ea" text-anchor="middle" font-weight="bold" textLength="17" lengthAdjust="spacingAndGlyphs">STAT3</text><circle cx="-2.0" cy="-6.6" r="3.5" fill="#eaa51a" stroke="#b87a10" stroke-width="0.6"/><circle cx="5.0" cy="-7.4" r="3.5" fill="#eaa51a" stroke="#b87a10" stroke-width="0.6"/><text x="-2.0" y="-5.1" font-size="4.4" font-weight="bold" fill="#9a6400" text-anchor="middle">P</text><text x="5.0" y="-5.9" font-size="4.4" font-weight="bold" fill="#9a6400" text-anchor="middle">P</text></g>
<line x1="354.4" y1="276.5" x2="354.4" y2="292.0" stroke="#555" stroke-width="1.3" stroke-dasharray="1.4 2.3"/>
<line x1="354.4" y1="318.5" x2="354.4" y2="334.5" stroke="#555" stroke-width="1.3" stroke-dasharray="1.4 2.3"/>
<path d="M369.6 277.6 L364.6 286.8 L367.6 286.6 L364.2 295.4 L370.8 284.4 L367.8 284.6 L370.8 277.6 Z" fill="#f0901a"/>
<rect x="394.8" y="244.2" width="32.6" height="11.2" rx="5.6" fill="#2f57a2"/>
<text x="411.10" y="252.20" font-size="6.4" fill="#ffffff" text-anchor="middle" stroke="#ffffff" stroke-width="0.22" textLength="26.0" lengthAdjust="spacingAndGlyphs">NPM-ALK</text>
<text x="418.60" y="270.00" font-size="8.2" fill="#333" text-anchor="middle" stroke="#333" stroke-width="0.22" textLength="63.3" lengthAdjust="spacingAndGlyphs">oncogenic kinase</text>
<text x="419.10" y="286.30" font-size="8.2" fill="#111" text-anchor="middle" stroke="#111" stroke-width="0.22" font-weight="bold" textLength="8.6" lengthAdjust="spacingAndGlyphs">or</text>
<text x="419.20" y="301.80" font-size="8.2" fill="#333" text-anchor="middle" stroke="#333" stroke-width="0.22" textLength="38.3" lengthAdjust="spacingAndGlyphs">oncogenic</text>
<text x="418.90" y="311.40" font-size="8.2" fill="#333" text-anchor="middle" stroke="#333" stroke-width="0.22" textLength="32.6" lengthAdjust="spacingAndGlyphs">mutation</text>
<text x="389.6" y="320.4" font-size="8.2" fill="#333" stroke="#333" stroke-width="0.22" textLength="58.4" lengthAdjust="spacingAndGlyphs">(eg STAT3<tspan font-size="5.8" dy="-3.6">Y640F</tspan><tspan dy="3.6">)</tspan></text>
<path d="M396.6 274.6 Q385 279.6 373.4 271.4" stroke="#4b4f5c" stroke-width="1.5" fill="none"/>
<path d="M369.6 268.0 L377.4 268.6 L372.4 275.2 Z" fill="#4b4f5c"/>
<path d="M395.0 311.2 Q383.4 315.2 372.4 305.2" stroke="#4b4f5c" stroke-width="1.5" fill="none"/>
<path d="M369.2 301.8 L376.8 302.6 L371.4 309.0 Z" fill="#4b4f5c"/>
<rect x="383.8" y="364.4" width="43.0" height="17.4" rx="3" fill="#c9363e" stroke="#a52a32" stroke-width="0.6"/>
<text x="405.60" y="376.20" font-size="8.4" fill="#ffffff" text-anchor="middle" stroke="#ffffff" stroke-width="0.22" textLength="25.4" lengthAdjust="spacingAndGlyphs">SBNO2</text>
<path d="M354.6 387.6 V370.0 H375.0" stroke="#111" stroke-width="1.0" fill="none"/>
<path d="M379.0 370.0 L373.4 367.0 L373.4 373.0 Z" fill="#111"/>
<text x="362.80" y="393.00" font-size="6.4" fill="#333" text-anchor="start" stroke="#333" stroke-width="0.22" textLength="21.0" lengthAdjust="spacingAndGlyphs">SBNO2</text>
<text x="362.80" y="401.00" font-size="6.4" fill="#333" text-anchor="start" stroke="#333" stroke-width="0.22" textLength="37.2" lengthAdjust="spacingAndGlyphs">transcription</text>
<text x="273.50" y="406.60" font-size="6.4" fill="#333" text-anchor="start" stroke="#333" stroke-width="0.22" textLength="22.4" lengthAdjust="spacingAndGlyphs">nucleus</text>
<path d="M297.80 385.49 L297.80 393.71 M300.60 384.86 L300.60 394.34 M303.40 386.51 L303.40 392.69 M309.00 387.54 L309.00 391.66 M311.80 385.21 L311.80 393.99 M314.60 385.00 L314.60 394.20 M317.40 387.00 L317.40 392.20 M323.00 387.00 L323.00 392.20 M325.80 385.00 L325.80 394.20 M328.60 385.21 L328.60 393.99 M331.40 387.54 L331.40 391.66 M337.00 386.51 L337.00 392.69 M339.80 384.86 L339.80 394.34 M342.60 385.49 L342.60 393.71 M345.40 388.12 L345.40 391.08 M351.00 386.07 L351.00 393.13 M353.80 384.80 L353.80 394.40" stroke="#7a7a7a" stroke-width="0.8" fill="none"/>
<path d="M297.40 384.96 L297.77 384.71 L298.14 384.49 L298.51 384.31 L298.88 384.17 L299.24 384.08 L299.61 384.02 L299.98 384.00 L300.35 384.02 L300.72 384.09 L301.09 384.20 L301.46 384.34 L301.82 384.52 L302.19 384.75 L302.56 385.00 L302.93 385.29 L303.30 385.62 L303.67 385.97 L304.04 386.35 L304.41 386.75 L304.77 387.17 L305.14 387.62 L305.51 388.07 L305.88 388.54 L306.25 389.01 L306.62 389.49 L306.99 389.97 L307.36 390.45 L307.72 390.92 L308.09 391.38 L308.46 391.83 L308.83 392.26 L309.20 392.68 L309.57 393.07 L309.94 393.43 L310.31 393.77 L310.67 394.07 L311.04 394.34 L311.41 394.58 L311.78 394.78 L312.15 394.95 L312.52 395.07 L312.89 395.15 L313.26 395.19 L313.62 395.20 L313.99 395.16 L314.36 395.07 L314.73 394.95 L315.10 394.79 L315.47 394.59 L315.84 394.36 L316.21 394.09 L316.57 393.78 L316.94 393.45 L317.31 393.09 L317.68 392.70 L318.05 392.29 L318.42 391.86 L318.79 391.41 L319.16 390.95 L319.52 390.48 L319.89 390.00 L320.26 389.52 L320.63 389.04 L321.00 388.56 L321.37 388.10 L321.74 387.64 L322.11 387.20 L322.47 386.77 L322.84 386.37 L323.21 385.99 L323.58 385.63 L323.95 385.31 L324.32 385.02 L324.69 384.76 L325.06 384.54 L325.42 384.35 L325.79 384.20 L326.16 384.09 L326.53 384.03 L326.90 384.00 L327.27 384.02 L327.64 384.07 L328.01 384.17 L328.38 384.31 L328.74 384.48 L329.11 384.69 L329.48 384.94 L329.85 385.23 L330.22 385.54 L330.59 385.89 L330.96 386.26 L331.32 386.66 L331.69 387.08 L332.06 387.52 L332.43 387.97 L332.80 388.44 L333.17 388.91 L333.54 389.39 L333.91 389.87 L334.27 390.35 L334.64 390.82 L335.01 391.28 L335.38 391.74 L335.75 392.17 L336.12 392.59 L336.49 392.98 L336.86 393.35 L337.22 393.70 L337.59 394.01 L337.96 394.29 L338.33 394.53 L338.70 394.74 L339.07 394.91 L339.44 395.05 L339.81 395.14 L340.17 395.19 L340.54 395.20 L340.91 395.17 L341.28 395.10 L341.65 394.98 L342.02 394.83 L342.39 394.64 L342.76 394.41 L343.12 394.15 L343.49 393.85 L343.86 393.53 L344.23 393.17 L344.60 392.79 L344.97 392.38 L345.34 391.95 L345.71 391.51 L346.07 391.05 L346.44 390.58 L346.81 390.10 L347.18 389.62 L347.55 389.14 L347.92 388.67 L348.29 388.20 L348.66 387.74 L349.02 387.29 L349.39 386.86 L349.76 386.46 L350.13 386.07 L350.50 385.71 L350.87 385.38 L351.24 385.08 L351.61 384.81 L351.97 384.58 L352.34 384.39 L352.71 384.23 L353.08 384.11 L353.45 384.04 L353.82 384.00 L354.19 384.01 L354.56 384.06 L354.92 384.14 L355.29 384.27 L355.66 384.44 L356.03 384.64 L356.40 384.89" stroke="#404040" stroke-width="1.7" fill="none"/>
<path d="M297.40 394.24 L297.77 394.49 L298.14 394.71 L298.51 394.89 L298.88 395.03 L299.24 395.12 L299.61 395.18 L299.98 395.20 L300.35 395.18 L300.72 395.11 L301.09 395.00 L301.46 394.86 L301.82 394.68 L302.19 394.45 L302.56 394.20 L302.93 393.91 L303.30 393.58 L303.67 393.23 L304.04 392.85 L304.41 392.45 L304.77 392.03 L305.14 391.58 L305.51 391.13 L305.88 390.66 L306.25 390.19 L306.62 389.71 L306.99 389.23 L307.36 388.75 L307.72 388.28 L308.09 387.82 L308.46 387.37 L308.83 386.94 L309.20 386.52 L309.57 386.13 L309.94 385.77 L310.31 385.43 L310.67 385.13 L311.04 384.86 L311.41 384.62 L311.78 384.42 L312.15 384.25 L312.52 384.13 L312.89 384.05 L313.26 384.01 L313.62 384.00 L313.99 384.04 L314.36 384.13 L314.73 384.25 L315.10 384.41 L315.47 384.61 L315.84 384.84 L316.21 385.11 L316.57 385.42 L316.94 385.75 L317.31 386.11 L317.68 386.50 L318.05 386.91 L318.42 387.34 L318.79 387.79 L319.16 388.25 L319.52 388.72 L319.89 389.20 L320.26 389.68 L320.63 390.16 L321.00 390.64 L321.37 391.10 L321.74 391.56 L322.11 392.00 L322.47 392.43 L322.84 392.83 L323.21 393.21 L323.58 393.57 L323.95 393.89 L324.32 394.18 L324.69 394.44 L325.06 394.66 L325.42 394.85 L325.79 395.00 L326.16 395.11 L326.53 395.17 L326.90 395.20 L327.27 395.18 L327.64 395.13 L328.01 395.03 L328.38 394.89 L328.74 394.72 L329.11 394.51 L329.48 394.26 L329.85 393.97 L330.22 393.66 L330.59 393.31 L330.96 392.94 L331.32 392.54 L331.69 392.12 L332.06 391.68 L332.43 391.23 L332.80 390.76 L333.17 390.29 L333.54 389.81 L333.91 389.33 L334.27 388.85 L334.64 388.38 L335.01 387.92 L335.38 387.46 L335.75 387.03 L336.12 386.61 L336.49 386.22 L336.86 385.85 L337.22 385.50 L337.59 385.19 L337.96 384.91 L338.33 384.67 L338.70 384.46 L339.07 384.29 L339.44 384.15 L339.81 384.06 L340.17 384.01 L340.54 384.00 L340.91 384.03 L341.28 384.10 L341.65 384.22 L342.02 384.37 L342.39 384.56 L342.76 384.79 L343.12 385.05 L343.49 385.35 L343.86 385.67 L344.23 386.03 L344.60 386.41 L344.97 386.82 L345.34 387.25 L345.71 387.69 L346.07 388.15 L346.44 388.62 L346.81 389.10 L347.18 389.58 L347.55 390.06 L347.92 390.53 L348.29 391.00 L348.66 391.46 L349.02 391.91 L349.39 392.34 L349.76 392.74 L350.13 393.13 L350.50 393.49 L350.87 393.82 L351.24 394.12 L351.61 394.39 L351.97 394.62 L352.34 394.81 L352.71 394.97 L353.08 395.09 L353.45 395.16 L353.82 395.20 L354.19 395.19 L354.56 395.14 L354.92 395.06 L355.29 394.93 L355.66 394.76 L356.03 394.56 L356.40 394.31" stroke="#404040" stroke-width="1.7" fill="none"/>
<path d="M297.40 384.96 L297.40 394.24 M356.40 384.89 L356.40 394.31" stroke="#404040" stroke-width="1.2" fill="none"/>
<g transform="translate(317.6 380.0) rotate(-33) scale(1.0)"><rect x="-11.5" y="-8.6" width="23" height="8.6" rx="4.3" fill="#808080" stroke="#5e5e5e" stroke-width="0.6"/><rect x="-11.5" y="-2.2" width="23" height="8.6" rx="4.3" fill="#777777" stroke="#585858" stroke-width="0.6"/><text x="0.5" y="4.4" font-size="6.2" fill="#dfe2ea" text-anchor="middle" font-weight="bold" textLength="17" lengthAdjust="spacingAndGlyphs">STAT3</text><circle cx="-2.0" cy="-6.6" r="3.5" fill="#eaa51a" stroke="#b87a10" stroke-width="0.6"/><circle cx="5.0" cy="-7.4" r="3.5" fill="#eaa51a" stroke="#b87a10" stroke-width="0.6"/><text x="-2.0" y="-5.1" font-size="4.4" font-weight="bold" fill="#9a6400" text-anchor="middle">P</text><text x="5.0" y="-5.9" font-size="4.4" font-weight="bold" fill="#9a6400" text-anchor="middle">P</text></g>
</g>
</svg>
</body></html>
